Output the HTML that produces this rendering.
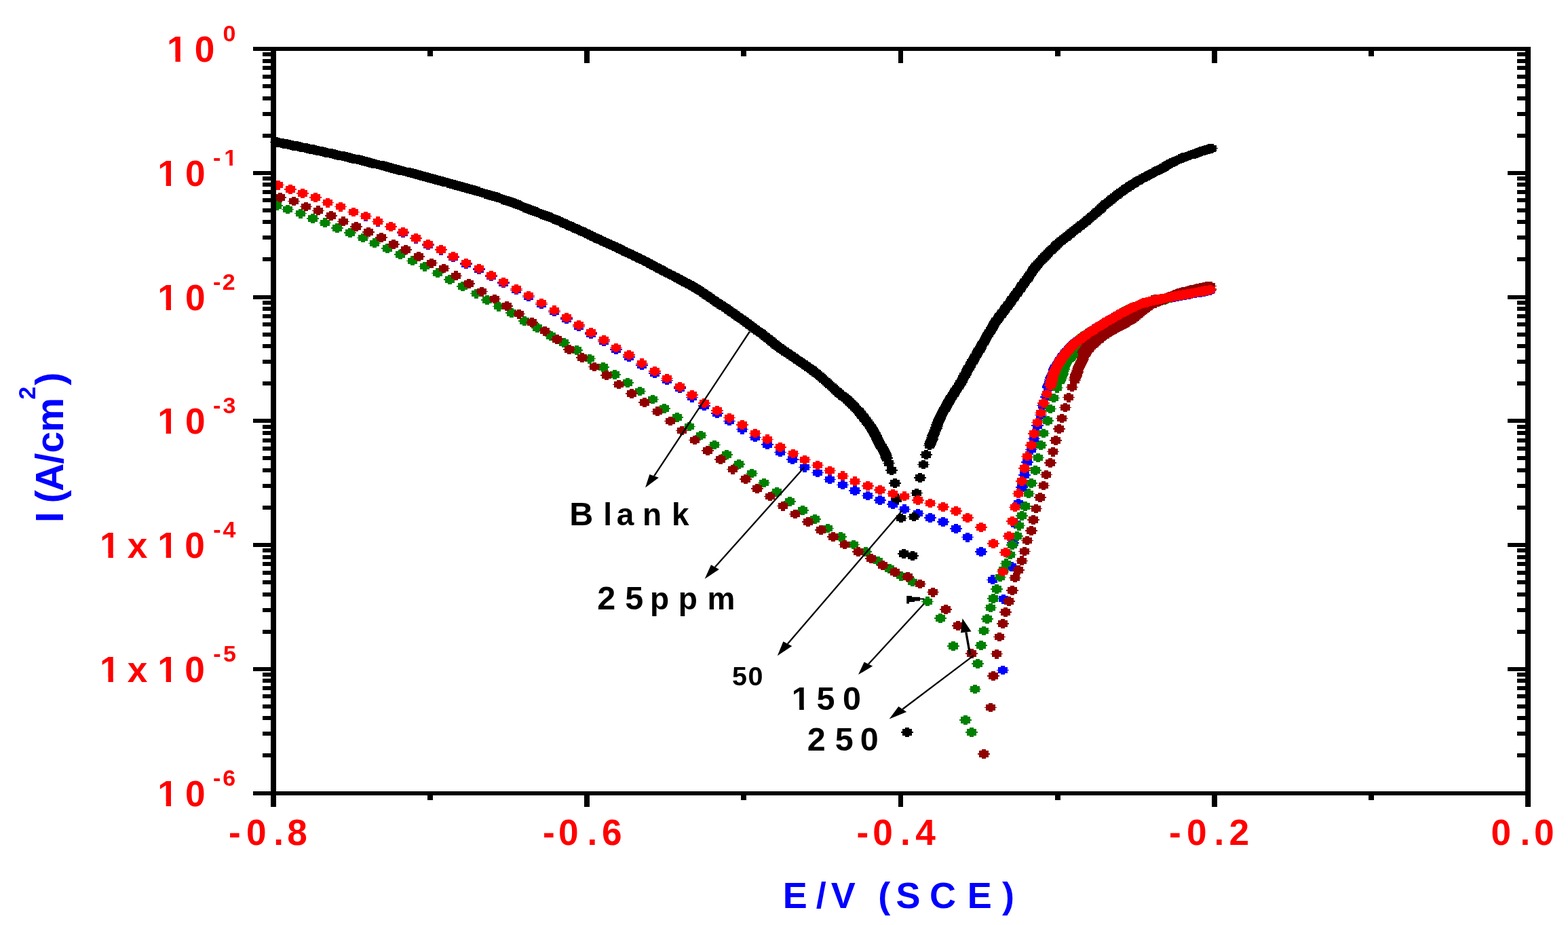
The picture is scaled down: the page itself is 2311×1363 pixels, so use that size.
<!DOCTYPE html><html><head><meta charset="utf-8"><title>Polarization curves</title><style>html,body{margin:0;padding:0;background:#fff}svg{display:block}</style></head><body><svg width="2311" height="1363" viewBox="0 0 2311 1363"><rect width="2311" height="1363" fill="#fff"/><g shape-rendering="crispEdges"><path fill="#0000ff" d="M407.0 265.8h6v2.1h4v4.05h2v1.5h-2v4.05h-4v2.1h-6v-2.1h-4v-4.05h-2v-1.5h2v-4.05h4zM424.7 272.0h6v2.1h4v4.05h2v1.5h-2v4.05h-4v2.1h-6v-2.1h-4v-4.05h-2v-1.5h2v-4.05h4zM443.4 277.9h6v2.1h4v4.05h2v1.5h-2v4.05h-4v2.1h-6v-2.1h-4v-4.05h-2v-1.5h2v-4.05h4zM462.3 283.9h6v2.1h4v4.05h2v1.5h-2v4.05h-4v2.1h-6v-2.1h-4v-4.05h-2v-1.5h2v-4.05h4zM480.0 291.8h6v2.1h4v4.05h2v1.5h-2v4.05h-4v2.1h-6v-2.1h-4v-4.05h-2v-1.5h2v-4.05h4zM499.0 297.7h6v2.1h4v4.05h2v1.5h-2v4.05h-4v2.1h-6v-2.1h-4v-4.05h-2v-1.5h2v-4.05h4zM518.2 305.6h6v2.1h4v4.05h2v1.5h-2v4.05h-4v2.1h-6v-2.1h-4v-4.05h-2v-1.5h2v-4.05h4zM536.3 311.8h6v2.1h4v4.05h2v1.5h-2v4.05h-4v2.1h-6v-2.1h-4v-4.05h-2v-1.5h2v-4.05h4zM553.6 319.8h6v2.1h4v4.05h2v1.5h-2v4.05h-4v2.1h-6v-2.1h-4v-4.05h-2v-1.5h2v-4.05h4zM572.7 327.6h6v2.1h4v4.05h2v1.5h-2v4.05h-4v2.1h-6v-2.1h-4v-4.05h-2v-1.5h2v-4.05h4zM591.2 335.9h6v2.1h4v4.05h2v1.5h-2v4.05h-4v2.1h-6v-2.1h-4v-4.05h-2v-1.5h2v-4.05h4zM609.5 344.8h6v2.1h4v4.05h2v1.5h-2v4.05h-4v2.1h-6v-2.1h-4v-4.05h-2v-1.5h2v-4.05h4zM628.1 353.9h6v2.1h4v4.05h2v1.5h-2v4.05h-4v2.1h-6v-2.1h-4v-4.05h-2v-1.5h2v-4.05h4zM647.1 361.8h6v2.1h4v4.05h2v1.5h-2v4.05h-4v2.1h-6v-2.1h-4v-4.05h-2v-1.5h2v-4.05h4zM664.9 372.1h6v2.1h4v4.05h2v1.5h-2v4.05h-4v2.1h-6v-2.1h-4v-4.05h-2v-1.5h2v-4.05h4zM684.0 382.0h6v2.1h4v4.05h2v1.5h-2v4.05h-4v2.1h-6v-2.1h-4v-4.05h-2v-1.5h2v-4.05h4zM702.7 390.1h6v2.1h4v4.05h2v1.5h-2v4.05h-4v2.1h-6v-2.1h-4v-4.05h-2v-1.5h2v-4.05h4zM720.5 400.3h6v2.1h4v4.05h2v1.5h-2v4.05h-4v2.1h-6v-2.1h-4v-4.05h-2v-1.5h2v-4.05h4zM739.2 410.3h6v2.1h4v4.05h2v1.5h-2v4.05h-4v2.1h-6v-2.1h-4v-4.05h-2v-1.5h2v-4.05h4zM757.9 420.4h6v2.1h4v4.05h2v1.5h-2v4.05h-4v2.1h-6v-2.1h-4v-4.05h-2v-1.5h2v-4.05h4zM776.2 430.4h6v2.1h4v4.05h2v1.5h-2v4.05h-4v2.1h-6v-2.1h-4v-4.05h-2v-1.5h2v-4.05h4zM795.0 441.5h6v2.1h4v4.05h2v1.5h-2v4.05h-4v2.1h-6v-2.1h-4v-4.05h-2v-1.5h2v-4.05h4zM813.6 452.4h6v2.1h4v4.05h2v1.5h-2v4.05h-4v2.1h-6v-2.1h-4v-4.05h-2v-1.5h2v-4.05h4zM832.0 463.0h6v2.1h4v4.05h2v1.5h-2v4.05h-4v2.1h-6v-2.1h-4v-4.05h-2v-1.5h2v-4.05h4zM849.6 474.4h6v2.1h4v4.05h2v1.5h-2v4.05h-4v2.1h-6v-2.1h-4v-4.05h-2v-1.5h2v-4.05h4zM868.3 485.2h6v2.1h4v4.05h2v1.5h-2v4.05h-4v2.1h-6v-2.1h-4v-4.05h-2v-1.5h2v-4.05h4zM887.0 496.4h6v2.1h4v4.05h2v1.5h-2v4.05h-4v2.1h-6v-2.1h-4v-4.05h-2v-1.5h2v-4.05h4zM905.0 508.3h6v2.1h4v4.05h2v1.5h-2v4.05h-4v2.1h-6v-2.1h-4v-4.05h-2v-1.5h2v-4.05h4zM924.1 518.9h6v2.1h4v4.05h2v1.5h-2v4.05h-4v2.1h-6v-2.1h-4v-4.05h-2v-1.5h2v-4.05h4zM942.7 531.2h6v2.1h4v4.05h2v1.5h-2v4.05h-4v2.1h-6v-2.1h-4v-4.05h-2v-1.5h2v-4.05h4zM961.5 543.0h6v2.1h4v4.05h2v1.5h-2v4.05h-4v2.1h-6v-2.1h-4v-4.05h-2v-1.5h2v-4.05h4zM979.9 553.6h6v2.1h4v4.05h2v1.5h-2v4.05h-4v2.1h-6v-2.1h-4v-4.05h-2v-1.5h2v-4.05h4zM998.7 565.3h6v2.1h4v4.05h2v1.5h-2v4.05h-4v2.1h-6v-2.1h-4v-4.05h-2v-1.5h2v-4.05h4zM1016.6 578.8h6v2.1h4v4.05h2v1.5h-2v4.05h-4v2.1h-6v-2.1h-4v-4.05h-2v-1.5h2v-4.05h4zM1035.4 591.1h6v2.1h4v4.05h2v1.5h-2v4.05h-4v2.1h-6v-2.1h-4v-4.05h-2v-1.5h2v-4.05h4zM1054.2 602.3h6v2.1h4v4.05h2v1.5h-2v4.05h-4v2.1h-6v-2.1h-4v-4.05h-2v-1.5h2v-4.05h4zM1072.0 613.5h6v2.1h4v4.05h2v1.5h-2v4.05h-4v2.1h-6v-2.1h-4v-4.05h-2v-1.5h2v-4.05h4zM1090.8 625.8h6v2.1h4v4.05h2v1.5h-2v4.05h-4v2.1h-6v-2.1h-4v-4.05h-2v-1.5h2v-4.05h4zM1109.9 637.5h6v2.1h4v4.05h2v1.5h-2v4.05h-4v2.1h-6v-2.1h-4v-4.05h-2v-1.5h2v-4.05h4zM1127.8 648.1h6v2.1h4v4.05h2v1.5h-2v4.05h-4v2.1h-6v-2.1h-4v-4.05h-2v-1.5h2v-4.05h4zM1146.6 659.6h6v2.1h4v4.05h2v1.5h-2v4.05h-4v2.1h-6v-2.1h-4v-4.05h-2v-1.5h2v-4.05h4zM1165.4 669.9h6v2.1h4v4.05h2v1.5h-2v4.05h-4v2.1h-6v-2.1h-4v-4.05h-2v-1.5h2v-4.05h4zM1183.1 681.8h6v2.1h4v4.05h2v1.5h-2v4.05h-4v2.1h-6v-2.1h-4v-4.05h-2v-1.5h2v-4.05h4zM1201.6 689.7h6v2.1h4v4.05h2v1.5h-2v4.05h-4v2.1h-6v-2.1h-4v-4.05h-2v-1.5h2v-4.05h4zM1220.1 699.4h6v2.1h4v4.05h2v1.5h-2v4.05h-4v2.1h-6v-2.1h-4v-4.05h-2v-1.5h2v-4.05h4zM1238.6 707.5h6v2.1h4v4.05h2v1.5h-2v4.05h-4v2.1h-6v-2.1h-4v-4.05h-2v-1.5h2v-4.05h4zM1257.0 716.0h6v2.1h4v4.05h2v1.5h-2v4.05h-4v2.1h-6v-2.1h-4v-4.05h-2v-1.5h2v-4.05h4zM1275.6 723.6h6v2.1h4v4.05h2v1.5h-2v4.05h-4v2.1h-6v-2.1h-4v-4.05h-2v-1.5h2v-4.05h4zM1293.7 730.2h6v2.1h4v4.05h2v1.5h-2v4.05h-4v2.1h-6v-2.1h-4v-4.05h-2v-1.5h2v-4.05h4zM1312.5 736.3h6v2.1h4v4.05h2v1.5h-2v4.05h-4v2.1h-6v-2.1h-4v-4.05h-2v-1.5h2v-4.05h4zM1330.1 743.4h6v2.1h4v4.05h2v1.5h-2v4.05h-4v2.1h-6v-2.1h-4v-4.05h-2v-1.5h2v-4.05h4zM1350.3 749.5h6v2.1h4v4.05h2v1.5h-2v4.05h-4v2.1h-6v-2.1h-4v-4.05h-2v-1.5h2v-4.05h4zM1368.3 756.1h6v2.1h4v4.05h2v1.5h-2v4.05h-4v2.1h-6v-2.1h-4v-4.05h-2v-1.5h2v-4.05h4zM1386.8 761.9h6v2.1h4v4.05h2v1.5h-2v4.05h-4v2.1h-6v-2.1h-4v-4.05h-2v-1.5h2v-4.05h4zM1405.5 771.9h6v2.1h4v4.05h2v1.5h-2v4.05h-4v2.1h-6v-2.1h-4v-4.05h-2v-1.5h2v-4.05h4zM1423.4 784.8h6v2.1h4v4.05h2v1.5h-2v4.05h-4v2.1h-6v-2.1h-4v-4.05h-2v-1.5h2v-4.05h4zM1442.5 805.9h6v2.1h4v4.05h2v1.5h-2v4.05h-4v2.1h-6v-2.1h-4v-4.05h-2v-1.5h2v-4.05h4zM1460.2 847.4h6v2.1h4v4.05h2v1.5h-2v4.05h-4v2.1h-6v-2.1h-4v-4.05h-2v-1.5h2v-4.05h4zM1475.3 980.5h6v2.1h4v4.05h2v1.5h-2v4.05h-4v2.1h-6v-2.1h-4v-4.05h-2v-1.5h2v-4.05h4zM1476.2 875.8h6v2.1h4v4.05h2v1.5h-2v4.05h-4v2.1h-6v-2.1h-4v-4.05h-2v-1.5h2v-4.05h4zM1487.5 828.3h6v2.1h4v4.05h2v1.5h-2v4.05h-4v2.1h-6v-2.1h-4v-4.05h-2v-1.5h2v-4.05h4zM1490.0 793.1h6v2.1h4v4.05h2v1.5h-2v4.05h-4v2.1h-6v-2.1h-4v-4.05h-2v-1.5h2v-4.05h4zM1494.0 765.1h6v2.1h4v4.05h2v1.5h-2v4.05h-4v2.1h-6v-2.1h-4v-4.05h-2v-1.5h2v-4.05h4zM1498.3 735.1h6v2.1h4v4.05h2v1.5h-2v4.05h-4v2.1h-6v-2.1h-4v-4.05h-2v-1.5h2v-4.05h4zM1502.7 710.9h6v2.1h4v4.05h2v1.5h-2v4.05h-4v2.1h-6v-2.1h-4v-4.05h-2v-1.5h2v-4.05h4zM1507.1 693.3h6v2.1h4v4.05h2v1.5h-2v4.05h-4v2.1h-6v-2.1h-4v-4.05h-2v-1.5h2v-4.05h4zM1510.8 674.2h6v2.1h4v4.05h2v1.5h-2v4.05h-4v2.1h-6v-2.1h-4v-4.05h-2v-1.5h2v-4.05h4zM1516.6 655.8h6v2.1h4v4.05h2v1.5h-2v4.05h-4v2.1h-6v-2.1h-4v-4.05h-2v-1.5h2v-4.05h4zM1521.0 639.7h6v2.1h4v4.05h2v1.5h-2v4.05h-4v2.1h-6v-2.1h-4v-4.05h-2v-1.5h2v-4.05h4zM1526.2 619.9h6v2.1h4v4.05h2v1.5h-2v4.05h-4v2.1h-6v-2.1h-4v-4.05h-2v-1.5h2v-4.05h4zM1530.6 604.5h6v2.1h4v4.05h2v1.5h-2v4.05h-4v2.1h-6v-2.1h-4v-4.05h-2v-1.5h2v-4.05h4zM1533.5 590.5h6v2.1h4v4.05h2v1.5h-2v4.05h-4v2.1h-6v-2.1h-4v-4.05h-2v-1.5h2v-4.05h4zM1538.6 578.1h6v2.1h4v4.05h2v1.5h-2v4.05h-4v2.1h-6v-2.1h-4v-4.05h-2v-1.5h2v-4.05h4zM1541.6 564.1h6v2.1h4v4.05h2v1.5h-2v4.05h-4v2.1h-6v-2.1h-4v-4.05h-2v-1.5h2v-4.05h4z"/><path fill="#0000ff" d="M1541.6 564.1h6v2.1h4v4.05h2v1.5h-2v4.05h-4v2.1h-6v-2.1h-4v-4.05h-2v-1.5h2v-4.05h4zM1542.3 562.1h6v2.1h4v4.05h2v1.5h-2v4.05h-4v2.1h-6v-2.1h-4v-4.05h-2v-1.5h2v-4.05h4zM1542.9 560.1h6v2.1h4v4.05h2v1.5h-2v4.05h-4v2.1h-6v-2.1h-4v-4.05h-2v-1.5h2v-4.05h4zM1543.7 557.8h6v2.1h4v4.05h2v1.5h-2v4.05h-4v2.1h-6v-2.1h-4v-4.05h-2v-1.5h2v-4.05h4zM1544.6 555.3h6v2.1h4v4.05h2v1.5h-2v4.05h-4v2.1h-6v-2.1h-4v-4.05h-2v-1.5h2v-4.05h4zM1545.4 552.7h6v2.1h4v4.05h2v1.5h-2v4.05h-4v2.1h-6v-2.1h-4v-4.05h-2v-1.5h2v-4.05h4zM1546.3 550.3h6v2.1h4v4.05h2v1.5h-2v4.05h-4v2.1h-6v-2.1h-4v-4.05h-2v-1.5h2v-4.05h4zM1547.0 548.1h6v2.1h4v4.05h2v1.5h-2v4.05h-4v2.1h-6v-2.1h-4v-4.05h-2v-1.5h2v-4.05h4zM1547.9 545.7h6v2.1h4v4.05h2v1.5h-2v4.05h-4v2.1h-6v-2.1h-4v-4.05h-2v-1.5h2v-4.05h4zM1548.7 543.6h6v2.1h4v4.05h2v1.5h-2v4.05h-4v2.1h-6v-2.1h-4v-4.05h-2v-1.5h2v-4.05h4zM1549.6 541.4h6v2.1h4v4.05h2v1.5h-2v4.05h-4v2.1h-6v-2.1h-4v-4.05h-2v-1.5h2v-4.05h4zM1550.5 539.3h6v2.1h4v4.05h2v1.5h-2v4.05h-4v2.1h-6v-2.1h-4v-4.05h-2v-1.5h2v-4.05h4zM1551.4 537.3h6v2.1h4v4.05h2v1.5h-2v4.05h-4v2.1h-6v-2.1h-4v-4.05h-2v-1.5h2v-4.05h4zM1552.4 535.3h6v2.1h4v4.05h2v1.5h-2v4.05h-4v2.1h-6v-2.1h-4v-4.05h-2v-1.5h2v-4.05h4zM1553.5 533.2h6v2.1h4v4.05h2v1.5h-2v4.05h-4v2.1h-6v-2.1h-4v-4.05h-2v-1.5h2v-4.05h4zM1554.7 531.3h6v2.1h4v4.05h2v1.5h-2v4.05h-4v2.1h-6v-2.1h-4v-4.05h-2v-1.5h2v-4.05h4zM1555.8 529.4h6v2.1h4v4.05h2v1.5h-2v4.05h-4v2.1h-6v-2.1h-4v-4.05h-2v-1.5h2v-4.05h4zM1557.0 527.5h6v2.1h4v4.05h2v1.5h-2v4.05h-4v2.1h-6v-2.1h-4v-4.05h-2v-1.5h2v-4.05h4zM1558.0 525.8h6v2.1h4v4.05h2v1.5h-2v4.05h-4v2.1h-6v-2.1h-4v-4.05h-2v-1.5h2v-4.05h4zM1559.3 523.8h6v2.1h4v4.05h2v1.5h-2v4.05h-4v2.1h-6v-2.1h-4v-4.05h-2v-1.5h2v-4.05h4zM1560.5 521.9h6v2.1h4v4.05h2v1.5h-2v4.05h-4v2.1h-6v-2.1h-4v-4.05h-2v-1.5h2v-4.05h4zM1561.8 520.0h6v2.1h4v4.05h2v1.5h-2v4.05h-4v2.1h-6v-2.1h-4v-4.05h-2v-1.5h2v-4.05h4zM1563.2 518.2h6v2.1h4v4.05h2v1.5h-2v4.05h-4v2.1h-6v-2.1h-4v-4.05h-2v-1.5h2v-4.05h4zM1564.5 516.4h6v2.1h4v4.05h2v1.5h-2v4.05h-4v2.1h-6v-2.1h-4v-4.05h-2v-1.5h2v-4.05h4zM1565.9 514.7h6v2.1h4v4.05h2v1.5h-2v4.05h-4v2.1h-6v-2.1h-4v-4.05h-2v-1.5h2v-4.05h4zM1567.3 513.1h6v2.1h4v4.05h2v1.5h-2v4.05h-4v2.1h-6v-2.1h-4v-4.05h-2v-1.5h2v-4.05h4zM1569.0 511.2h6v2.1h4v4.05h2v1.5h-2v4.05h-4v2.1h-6v-2.1h-4v-4.05h-2v-1.5h2v-4.05h4zM1570.5 509.5h6v2.1h4v4.05h2v1.5h-2v4.05h-4v2.1h-6v-2.1h-4v-4.05h-2v-1.5h2v-4.05h4zM1572.2 507.6h6v2.1h4v4.05h2v1.5h-2v4.05h-4v2.1h-6v-2.1h-4v-4.05h-2v-1.5h2v-4.05h4zM1574.0 505.7h6v2.1h4v4.05h2v1.5h-2v4.05h-4v2.1h-6v-2.1h-4v-4.05h-2v-1.5h2v-4.05h4zM1575.5 504.2h6v2.1h4v4.05h2v1.5h-2v4.05h-4v2.1h-6v-2.1h-4v-4.05h-2v-1.5h2v-4.05h4zM1577.0 502.6h6v2.1h4v4.05h2v1.5h-2v4.05h-4v2.1h-6v-2.1h-4v-4.05h-2v-1.5h2v-4.05h4zM1578.7 501.1h6v2.1h4v4.05h2v1.5h-2v4.05h-4v2.1h-6v-2.1h-4v-4.05h-2v-1.5h2v-4.05h4zM1580.4 499.6h6v2.1h4v4.05h2v1.5h-2v4.05h-4v2.1h-6v-2.1h-4v-4.05h-2v-1.5h2v-4.05h4zM1582.2 498.1h6v2.1h4v4.05h2v1.5h-2v4.05h-4v2.1h-6v-2.1h-4v-4.05h-2v-1.5h2v-4.05h4zM1584.1 496.5h6v2.1h4v4.05h2v1.5h-2v4.05h-4v2.1h-6v-2.1h-4v-4.05h-2v-1.5h2v-4.05h4zM1586.1 495.0h6v2.1h4v4.05h2v1.5h-2v4.05h-4v2.1h-6v-2.1h-4v-4.05h-2v-1.5h2v-4.05h4zM1588.2 493.4h6v2.1h4v4.05h2v1.5h-2v4.05h-4v2.1h-6v-2.1h-4v-4.05h-2v-1.5h2v-4.05h4zM1590.4 491.8h6v2.1h4v4.05h2v1.5h-2v4.05h-4v2.1h-6v-2.1h-4v-4.05h-2v-1.5h2v-4.05h4zM1592.6 490.2h6v2.1h4v4.05h2v1.5h-2v4.05h-4v2.1h-6v-2.1h-4v-4.05h-2v-1.5h2v-4.05h4zM1594.9 488.6h6v2.1h4v4.05h2v1.5h-2v4.05h-4v2.1h-6v-2.1h-4v-4.05h-2v-1.5h2v-4.05h4zM1597.3 486.9h6v2.1h4v4.05h2v1.5h-2v4.05h-4v2.1h-6v-2.1h-4v-4.05h-2v-1.5h2v-4.05h4zM1598.9 485.8h6v2.1h4v4.05h2v1.5h-2v4.05h-4v2.1h-6v-2.1h-4v-4.05h-2v-1.5h2v-4.05h4zM1600.6 484.6h6v2.1h4v4.05h2v1.5h-2v4.05h-4v2.1h-6v-2.1h-4v-4.05h-2v-1.5h2v-4.05h4zM1602.4 483.5h6v2.1h4v4.05h2v1.5h-2v4.05h-4v2.1h-6v-2.1h-4v-4.05h-2v-1.5h2v-4.05h4zM1604.2 482.3h6v2.1h4v4.05h2v1.5h-2v4.05h-4v2.1h-6v-2.1h-4v-4.05h-2v-1.5h2v-4.05h4zM1606.0 481.1h6v2.1h4v4.05h2v1.5h-2v4.05h-4v2.1h-6v-2.1h-4v-4.05h-2v-1.5h2v-4.05h4zM1607.8 479.8h6v2.1h4v4.05h2v1.5h-2v4.05h-4v2.1h-6v-2.1h-4v-4.05h-2v-1.5h2v-4.05h4zM1609.6 478.7h6v2.1h4v4.05h2v1.5h-2v4.05h-4v2.1h-6v-2.1h-4v-4.05h-2v-1.5h2v-4.05h4zM1611.5 477.5h6v2.1h4v4.05h2v1.5h-2v4.05h-4v2.1h-6v-2.1h-4v-4.05h-2v-1.5h2v-4.05h4zM1613.3 476.3h6v2.1h4v4.05h2v1.5h-2v4.05h-4v2.1h-6v-2.1h-4v-4.05h-2v-1.5h2v-4.05h4zM1615.1 475.2h6v2.1h4v4.05h2v1.5h-2v4.05h-4v2.1h-6v-2.1h-4v-4.05h-2v-1.5h2v-4.05h4zM1616.8 474.0h6v2.1h4v4.05h2v1.5h-2v4.05h-4v2.1h-6v-2.1h-4v-4.05h-2v-1.5h2v-4.05h4zM1618.6 473.0h6v2.1h4v4.05h2v1.5h-2v4.05h-4v2.1h-6v-2.1h-4v-4.05h-2v-1.5h2v-4.05h4zM1620.3 471.9h6v2.1h4v4.05h2v1.5h-2v4.05h-4v2.1h-6v-2.1h-4v-4.05h-2v-1.5h2v-4.05h4zM1622.8 470.4h6v2.1h4v4.05h2v1.5h-2v4.05h-4v2.1h-6v-2.1h-4v-4.05h-2v-1.5h2v-4.05h4zM1625.3 468.8h6v2.1h4v4.05h2v1.5h-2v4.05h-4v2.1h-6v-2.1h-4v-4.05h-2v-1.5h2v-4.05h4zM1627.8 467.3h6v2.1h4v4.05h2v1.5h-2v4.05h-4v2.1h-6v-2.1h-4v-4.05h-2v-1.5h2v-4.05h4zM1630.3 465.9h6v2.1h4v4.05h2v1.5h-2v4.05h-4v2.1h-6v-2.1h-4v-4.05h-2v-1.5h2v-4.05h4zM1632.8 464.5h6v2.1h4v4.05h2v1.5h-2v4.05h-4v2.1h-6v-2.1h-4v-4.05h-2v-1.5h2v-4.05h4zM1635.2 463.1h6v2.1h4v4.05h2v1.5h-2v4.05h-4v2.1h-6v-2.1h-4v-4.05h-2v-1.5h2v-4.05h4zM1637.6 461.7h6v2.1h4v4.05h2v1.5h-2v4.05h-4v2.1h-6v-2.1h-4v-4.05h-2v-1.5h2v-4.05h4zM1639.9 460.4h6v2.1h4v4.05h2v1.5h-2v4.05h-4v2.1h-6v-2.1h-4v-4.05h-2v-1.5h2v-4.05h4zM1642.2 459.1h6v2.1h4v4.05h2v1.5h-2v4.05h-4v2.1h-6v-2.1h-4v-4.05h-2v-1.5h2v-4.05h4zM1644.4 457.8h6v2.1h4v4.05h2v1.5h-2v4.05h-4v2.1h-6v-2.1h-4v-4.05h-2v-1.5h2v-4.05h4zM1646.7 456.6h6v2.1h4v4.05h2v1.5h-2v4.05h-4v2.1h-6v-2.1h-4v-4.05h-2v-1.5h2v-4.05h4zM1648.9 455.3h6v2.1h4v4.05h2v1.5h-2v4.05h-4v2.1h-6v-2.1h-4v-4.05h-2v-1.5h2v-4.05h4zM1651.1 454.1h6v2.1h4v4.05h2v1.5h-2v4.05h-4v2.1h-6v-2.1h-4v-4.05h-2v-1.5h2v-4.05h4zM1653.4 452.9h6v2.1h4v4.05h2v1.5h-2v4.05h-4v2.1h-6v-2.1h-4v-4.05h-2v-1.5h2v-4.05h4zM1655.8 451.7h6v2.1h4v4.05h2v1.5h-2v4.05h-4v2.1h-6v-2.1h-4v-4.05h-2v-1.5h2v-4.05h4zM1658.3 450.5h6v2.1h4v4.05h2v1.5h-2v4.05h-4v2.1h-6v-2.1h-4v-4.05h-2v-1.5h2v-4.05h4zM1661.0 449.2h6v2.1h4v4.05h2v1.5h-2v4.05h-4v2.1h-6v-2.1h-4v-4.05h-2v-1.5h2v-4.05h4zM1662.9 448.3h6v2.1h4v4.05h2v1.5h-2v4.05h-4v2.1h-6v-2.1h-4v-4.05h-2v-1.5h2v-4.05h4zM1664.8 447.4h6v2.1h4v4.05h2v1.5h-2v4.05h-4v2.1h-6v-2.1h-4v-4.05h-2v-1.5h2v-4.05h4zM1666.6 446.6h6v2.1h4v4.05h2v1.5h-2v4.05h-4v2.1h-6v-2.1h-4v-4.05h-2v-1.5h2v-4.05h4zM1668.4 445.7h6v2.1h4v4.05h2v1.5h-2v4.05h-4v2.1h-6v-2.1h-4v-4.05h-2v-1.5h2v-4.05h4zM1671.1 444.6h6v2.1h4v4.05h2v1.5h-2v4.05h-4v2.1h-6v-2.1h-4v-4.05h-2v-1.5h2v-4.05h4zM1673.5 443.5h6v2.1h4v4.05h2v1.5h-2v4.05h-4v2.1h-6v-2.1h-4v-4.05h-2v-1.5h2v-4.05h4zM1675.7 442.6h6v2.1h4v4.05h2v1.5h-2v4.05h-4v2.1h-6v-2.1h-4v-4.05h-2v-1.5h2v-4.05h4zM1677.9 441.6h6v2.1h4v4.05h2v1.5h-2v4.05h-4v2.1h-6v-2.1h-4v-4.05h-2v-1.5h2v-4.05h4zM1679.8 440.9h6v2.1h4v4.05h2v1.5h-2v4.05h-4v2.1h-6v-2.1h-4v-4.05h-2v-1.5h2v-4.05h4zM1681.8 440.2h6v2.1h4v4.05h2v1.5h-2v4.05h-4v2.1h-6v-2.1h-4v-4.05h-2v-1.5h2v-4.05h4zM1684.0 439.7h6v2.1h4v4.05h2v1.5h-2v4.05h-4v2.1h-6v-2.1h-4v-4.05h-2v-1.5h2v-4.05h4zM1686.1 439.1h6v2.1h4v4.05h2v1.5h-2v4.05h-4v2.1h-6v-2.1h-4v-4.05h-2v-1.5h2v-4.05h4zM1688.7 438.5h6v2.1h4v4.05h2v1.5h-2v4.05h-4v2.1h-6v-2.1h-4v-4.05h-2v-1.5h2v-4.05h4zM1690.8 438.0h6v2.1h4v4.05h2v1.5h-2v4.05h-4v2.1h-6v-2.1h-4v-4.05h-2v-1.5h2v-4.05h4zM1693.0 437.5h6v2.1h4v4.05h2v1.5h-2v4.05h-4v2.1h-6v-2.1h-4v-4.05h-2v-1.5h2v-4.05h4zM1695.4 436.9h6v2.1h4v4.05h2v1.5h-2v4.05h-4v2.1h-6v-2.1h-4v-4.05h-2v-1.5h2v-4.05h4zM1698.0 436.4h6v2.1h4v4.05h2v1.5h-2v4.05h-4v2.1h-6v-2.1h-4v-4.05h-2v-1.5h2v-4.05h4zM1700.7 435.8h6v2.1h4v4.05h2v1.5h-2v4.05h-4v2.1h-6v-2.1h-4v-4.05h-2v-1.5h2v-4.05h4zM1703.5 435.2h6v2.1h4v4.05h2v1.5h-2v4.05h-4v2.1h-6v-2.1h-4v-4.05h-2v-1.5h2v-4.05h4zM1705.5 434.8h6v2.1h4v4.05h2v1.5h-2v4.05h-4v2.1h-6v-2.1h-4v-4.05h-2v-1.5h2v-4.05h4zM1707.6 434.4h6v2.1h4v4.05h2v1.5h-2v4.05h-4v2.1h-6v-2.1h-4v-4.05h-2v-1.5h2v-4.05h4zM1709.7 434.0h6v2.1h4v4.05h2v1.5h-2v4.05h-4v2.1h-6v-2.1h-4v-4.05h-2v-1.5h2v-4.05h4zM1712.0 433.5h6v2.1h4v4.05h2v1.5h-2v4.05h-4v2.1h-6v-2.1h-4v-4.05h-2v-1.5h2v-4.05h4zM1714.3 433.1h6v2.1h4v4.05h2v1.5h-2v4.05h-4v2.1h-6v-2.1h-4v-4.05h-2v-1.5h2v-4.05h4zM1716.7 432.6h6v2.1h4v4.05h2v1.5h-2v4.05h-4v2.1h-6v-2.1h-4v-4.05h-2v-1.5h2v-4.05h4zM1719.1 432.2h6v2.1h4v4.05h2v1.5h-2v4.05h-4v2.1h-6v-2.1h-4v-4.05h-2v-1.5h2v-4.05h4zM1721.6 431.7h6v2.1h4v4.05h2v1.5h-2v4.05h-4v2.1h-6v-2.1h-4v-4.05h-2v-1.5h2v-4.05h4zM1724.1 431.3h6v2.1h4v4.05h2v1.5h-2v4.05h-4v2.1h-6v-2.1h-4v-4.05h-2v-1.5h2v-4.05h4zM1726.7 430.8h6v2.1h4v4.05h2v1.5h-2v4.05h-4v2.1h-6v-2.1h-4v-4.05h-2v-1.5h2v-4.05h4zM1729.2 430.3h6v2.1h4v4.05h2v1.5h-2v4.05h-4v2.1h-6v-2.1h-4v-4.05h-2v-1.5h2v-4.05h4zM1731.8 429.8h6v2.1h4v4.05h2v1.5h-2v4.05h-4v2.1h-6v-2.1h-4v-4.05h-2v-1.5h2v-4.05h4zM1734.4 429.4h6v2.1h4v4.05h2v1.5h-2v4.05h-4v2.1h-6v-2.1h-4v-4.05h-2v-1.5h2v-4.05h4zM1737.2 428.9h6v2.1h4v4.05h2v1.5h-2v4.05h-4v2.1h-6v-2.1h-4v-4.05h-2v-1.5h2v-4.05h4zM1740.1 428.3h6v2.1h4v4.05h2v1.5h-2v4.05h-4v2.1h-6v-2.1h-4v-4.05h-2v-1.5h2v-4.05h4zM1743.1 427.8h6v2.1h4v4.05h2v1.5h-2v4.05h-4v2.1h-6v-2.1h-4v-4.05h-2v-1.5h2v-4.05h4zM1746.2 427.2h6v2.1h4v4.05h2v1.5h-2v4.05h-4v2.1h-6v-2.1h-4v-4.05h-2v-1.5h2v-4.05h4zM1749.2 426.7h6v2.1h4v4.05h2v1.5h-2v4.05h-4v2.1h-6v-2.1h-4v-4.05h-2v-1.5h2v-4.05h4zM1752.3 426.1h6v2.1h4v4.05h2v1.5h-2v4.05h-4v2.1h-6v-2.1h-4v-4.05h-2v-1.5h2v-4.05h4zM1755.3 425.6h6v2.1h4v4.05h2v1.5h-2v4.05h-4v2.1h-6v-2.1h-4v-4.05h-2v-1.5h2v-4.05h4zM1758.1 425.1h6v2.1h4v4.05h2v1.5h-2v4.05h-4v2.1h-6v-2.1h-4v-4.05h-2v-1.5h2v-4.05h4zM1760.8 424.6h6v2.1h4v4.05h2v1.5h-2v4.05h-4v2.1h-6v-2.1h-4v-4.05h-2v-1.5h2v-4.05h4zM1763.3 424.2h6v2.1h4v4.05h2v1.5h-2v4.05h-4v2.1h-6v-2.1h-4v-4.05h-2v-1.5h2v-4.05h4zM1765.5 423.8h6v2.1h4v4.05h2v1.5h-2v4.05h-4v2.1h-6v-2.1h-4v-4.05h-2v-1.5h2v-4.05h4zM1768.3 423.3h6v2.1h4v4.05h2v1.5h-2v4.05h-4v2.1h-6v-2.1h-4v-4.05h-2v-1.5h2v-4.05h4zM1770.8 422.8h6v2.1h4v4.05h2v1.5h-2v4.05h-4v2.1h-6v-2.1h-4v-4.05h-2v-1.5h2v-4.05h4zM1772.8 422.4h6v2.1h4v4.05h2v1.5h-2v4.05h-4v2.1h-6v-2.1h-4v-4.05h-2v-1.5h2v-4.05h4zM1775.1 422.0h6v2.1h4v4.05h2v1.5h-2v4.05h-4v2.1h-6v-2.1h-4v-4.05h-2v-1.5h2v-4.05h4zM1777.3 421.5h6v2.1h4v4.05h2v1.5h-2v4.05h-4v2.1h-6v-2.1h-4v-4.05h-2v-1.5h2v-4.05h4zM1779.5 421.1h6v2.1h4v4.05h2v1.5h-2v4.05h-4v2.1h-6v-2.1h-4v-4.05h-2v-1.5h2v-4.05h4z"/><path fill="#008000" d="M404.5 295.9h6v2.1h4v4.05h2v1.5h-2v4.05h-4v2.1h-6v-2.1h-4v-4.05h-2v-1.5h2v-4.05h4zM420.8 301.5h6v2.1h4v4.05h2v1.5h-2v4.05h-4v2.1h-6v-2.1h-4v-4.05h-2v-1.5h2v-4.05h4zM439.5 307.8h6v2.1h4v4.05h2v1.5h-2v4.05h-4v2.1h-6v-2.1h-4v-4.05h-2v-1.5h2v-4.05h4zM458.3 315.3h6v2.1h4v4.05h2v1.5h-2v4.05h-4v2.1h-6v-2.1h-4v-4.05h-2v-1.5h2v-4.05h4zM476.3 321.4h6v2.1h4v4.05h2v1.5h-2v4.05h-4v2.1h-6v-2.1h-4v-4.05h-2v-1.5h2v-4.05h4zM493.9 328.9h6v2.1h4v4.05h2v1.5h-2v4.05h-4v2.1h-6v-2.1h-4v-4.05h-2v-1.5h2v-4.05h4zM512.6 336.1h6v2.1h4v4.05h2v1.5h-2v4.05h-4v2.1h-6v-2.1h-4v-4.05h-2v-1.5h2v-4.05h4zM532.0 343.6h6v2.1h4v4.05h2v1.5h-2v4.05h-4v2.1h-6v-2.1h-4v-4.05h-2v-1.5h2v-4.05h4zM549.3 351.4h6v2.1h4v4.05h2v1.5h-2v4.05h-4v2.1h-6v-2.1h-4v-4.05h-2v-1.5h2v-4.05h4zM567.5 359.2h6v2.1h4v4.05h2v1.5h-2v4.05h-4v2.1h-6v-2.1h-4v-4.05h-2v-1.5h2v-4.05h4zM586.5 367.9h6v2.1h4v4.05h2v1.5h-2v4.05h-4v2.1h-6v-2.1h-4v-4.05h-2v-1.5h2v-4.05h4zM604.7 377.4h6v2.1h4v4.05h2v1.5h-2v4.05h-4v2.1h-6v-2.1h-4v-4.05h-2v-1.5h2v-4.05h4zM622.9 385.7h6v2.1h4v4.05h2v1.5h-2v4.05h-4v2.1h-6v-2.1h-4v-4.05h-2v-1.5h2v-4.05h4zM641.5 395.4h6v2.1h4v4.05h2v1.5h-2v4.05h-4v2.1h-6v-2.1h-4v-4.05h-2v-1.5h2v-4.05h4zM660.0 405.3h6v2.1h4v4.05h2v1.5h-2v4.05h-4v2.1h-6v-2.1h-4v-4.05h-2v-1.5h2v-4.05h4zM678.5 415.1h6v2.1h4v4.05h2v1.5h-2v4.05h-4v2.1h-6v-2.1h-4v-4.05h-2v-1.5h2v-4.05h4zM699.2 425.7h6v2.1h4v4.05h2v1.5h-2v4.05h-4v2.1h-6v-2.1h-4v-4.05h-2v-1.5h2v-4.05h4zM714.6 435.2h6v2.1h4v4.05h2v1.5h-2v4.05h-4v2.1h-6v-2.1h-4v-4.05h-2v-1.5h2v-4.05h4zM732.2 444.8h6v2.1h4v4.05h2v1.5h-2v4.05h-4v2.1h-6v-2.1h-4v-4.05h-2v-1.5h2v-4.05h4zM751.3 454.3h6v2.1h4v4.05h2v1.5h-2v4.05h-4v2.1h-6v-2.1h-4v-4.05h-2v-1.5h2v-4.05h4zM769.6 466.1h6v2.1h4v4.05h2v1.5h-2v4.05h-4v2.1h-6v-2.1h-4v-4.05h-2v-1.5h2v-4.05h4zM789.4 476.3h6v2.1h4v4.05h2v1.5h-2v4.05h-4v2.1h-6v-2.1h-4v-4.05h-2v-1.5h2v-4.05h4zM808.5 488.1h6v2.1h4v4.05h2v1.5h-2v4.05h-4v2.1h-6v-2.1h-4v-4.05h-2v-1.5h2v-4.05h4zM828.3 498.3h6v2.1h4v4.05h2v1.5h-2v4.05h-4v2.1h-6v-2.1h-4v-4.05h-2v-1.5h2v-4.05h4zM846.6 509.3h6v2.1h4v4.05h2v1.5h-2v4.05h-4v2.1h-6v-2.1h-4v-4.05h-2v-1.5h2v-4.05h4zM866.4 521.8h6v2.1h4v4.05h2v1.5h-2v4.05h-4v2.1h-6v-2.1h-4v-4.05h-2v-1.5h2v-4.05h4zM885.5 534.3h6v2.1h4v4.05h2v1.5h-2v4.05h-4v2.1h-6v-2.1h-4v-4.05h-2v-1.5h2v-4.05h4zM903.1 545.3h6v2.1h4v4.05h2v1.5h-2v4.05h-4v2.1h-6v-2.1h-4v-4.05h-2v-1.5h2v-4.05h4zM921.5 557.3h6v2.1h4v4.05h2v1.5h-2v4.05h-4v2.1h-6v-2.1h-4v-4.05h-2v-1.5h2v-4.05h4zM940.0 569.6h6v2.1h4v4.05h2v1.5h-2v4.05h-4v2.1h-6v-2.1h-4v-4.05h-2v-1.5h2v-4.05h4zM959.3 581.6h6v2.1h4v4.05h2v1.5h-2v4.05h-4v2.1h-6v-2.1h-4v-4.05h-2v-1.5h2v-4.05h4zM975.8 595.3h6v2.1h4v4.05h2v1.5h-2v4.05h-4v2.1h-6v-2.1h-4v-4.05h-2v-1.5h2v-4.05h4zM994.6 608.2h6v2.1h4v4.05h2v1.5h-2v4.05h-4v2.1h-6v-2.1h-4v-4.05h-2v-1.5h2v-4.05h4zM1012.8 621.7h6v2.1h4v4.05h2v1.5h-2v4.05h-4v2.1h-6v-2.1h-4v-4.05h-2v-1.5h2v-4.05h4zM1030.4 634.6h6v2.1h4v4.05h2v1.5h-2v4.05h-4v2.1h-6v-2.1h-4v-4.05h-2v-1.5h2v-4.05h4zM1049.7 648.7h6v2.1h4v4.05h2v1.5h-2v4.05h-4v2.1h-6v-2.1h-4v-4.05h-2v-1.5h2v-4.05h4zM1068.1 662.9h6v2.1h4v4.05h2v1.5h-2v4.05h-4v2.1h-6v-2.1h-4v-4.05h-2v-1.5h2v-4.05h4zM1085.9 677.2h6v2.1h4v4.05h2v1.5h-2v4.05h-4v2.1h-6v-2.1h-4v-4.05h-2v-1.5h2v-4.05h4zM1105.1 690.7h6v2.1h4v4.05h2v1.5h-2v4.05h-4v2.1h-6v-2.1h-4v-4.05h-2v-1.5h2v-4.05h4zM1123.3 704.7h6v2.1h4v4.05h2v1.5h-2v4.05h-4v2.1h-6v-2.1h-4v-4.05h-2v-1.5h2v-4.05h4zM1141.5 718.2h6v2.1h4v4.05h2v1.5h-2v4.05h-4v2.1h-6v-2.1h-4v-4.05h-2v-1.5h2v-4.05h4zM1160.9 732.3h6v2.1h4v4.05h2v1.5h-2v4.05h-4v2.1h-6v-2.1h-4v-4.05h-2v-1.5h2v-4.05h4zM1179.7 745.2h6v2.1h4v4.05h2v1.5h-2v4.05h-4v2.1h-6v-2.1h-4v-4.05h-2v-1.5h2v-4.05h4zM1197.8 758.1h6v2.1h4v4.05h2v1.5h-2v4.05h-4v2.1h-6v-2.1h-4v-4.05h-2v-1.5h2v-4.05h4zM1216.6 771.6h6v2.1h4v4.05h2v1.5h-2v4.05h-4v2.1h-6v-2.1h-4v-4.05h-2v-1.5h2v-4.05h4zM1236.0 784.0h6v2.1h4v4.05h2v1.5h-2v4.05h-4v2.1h-6v-2.1h-4v-4.05h-2v-1.5h2v-4.05h4zM1254.9 795.5h6v2.1h4v4.05h2v1.5h-2v4.05h-4v2.1h-6v-2.1h-4v-4.05h-2v-1.5h2v-4.05h4zM1272.9 806.3h6v2.1h4v4.05h2v1.5h-2v4.05h-4v2.1h-6v-2.1h-4v-4.05h-2v-1.5h2v-4.05h4zM1291.0 819.5h6v2.1h4v4.05h2v1.5h-2v4.05h-4v2.1h-6v-2.1h-4v-4.05h-2v-1.5h2v-4.05h4zM1308.0 831.2h6v2.1h4v4.05h2v1.5h-2v4.05h-4v2.1h-6v-2.1h-4v-4.05h-2v-1.5h2v-4.05h4zM1324.5 841.8h6v2.1h4v4.05h2v1.5h-2v4.05h-4v2.1h-6v-2.1h-4v-4.05h-2v-1.5h2v-4.05h4zM1342.1 850.6h6v2.1h4v4.05h2v1.5h-2v4.05h-4v2.1h-6v-2.1h-4v-4.05h-2v-1.5h2v-4.05h4zM1363.7 879.4h6v2.1h4v4.05h2v1.5h-2v4.05h-4v2.1h-6v-2.1h-4v-4.05h-2v-1.5h2v-4.05h4zM1383.1 904.1h6v2.1h4v4.05h2v1.5h-2v4.05h-4v2.1h-6v-2.1h-4v-4.05h-2v-1.5h2v-4.05h4zM1401.5 944.9h6v2.1h4v4.05h2v1.5h-2v4.05h-4v2.1h-6v-2.1h-4v-4.05h-2v-1.5h2v-4.05h4zM1419.6 1054.1h6v2.1h4v4.05h2v1.5h-2v4.05h-4v2.1h-6v-2.1h-4v-4.05h-2v-1.5h2v-4.05h4zM1429.3 1071.9h6v2.1h4v4.05h2v1.5h-2v4.05h-4v2.1h-6v-2.1h-4v-4.05h-2v-1.5h2v-4.05h4zM1433.5 1008.7h6v2.1h4v4.05h2v1.5h-2v4.05h-4v2.1h-6v-2.1h-4v-4.05h-2v-1.5h2v-4.05h4zM1438.1 970.9h6v2.1h4v4.05h2v1.5h-2v4.05h-4v2.1h-6v-2.1h-4v-4.05h-2v-1.5h2v-4.05h4zM1443.2 944.3h6v2.1h4v4.05h2v1.5h-2v4.05h-4v2.1h-6v-2.1h-4v-4.05h-2v-1.5h2v-4.05h4zM1447.2 922.6h6v2.1h4v4.05h2v1.5h-2v4.05h-4v2.1h-6v-2.1h-4v-4.05h-2v-1.5h2v-4.05h4zM1452.0 904.9h6v2.1h4v4.05h2v1.5h-2v4.05h-4v2.1h-6v-2.1h-4v-4.05h-2v-1.5h2v-4.05h4zM1456.8 888.7h6v2.1h4v4.05h2v1.5h-2v4.05h-4v2.1h-6v-2.1h-4v-4.05h-2v-1.5h2v-4.05h4zM1460.9 875.0h6v2.1h4v4.05h2v1.5h-2v4.05h-4v2.1h-6v-2.1h-4v-4.05h-2v-1.5h2v-4.05h4zM1465.7 861.3h6v2.1h4v4.05h2v1.5h-2v4.05h-4v2.1h-6v-2.1h-4v-4.05h-2v-1.5h2v-4.05h4zM1470.5 843.6h6v2.1h4v4.05h2v1.5h-2v4.05h-4v2.1h-6v-2.1h-4v-4.05h-2v-1.5h2v-4.05h4zM1475.5 833.1h6v2.1h4v4.05h2v1.5h-2v4.05h-4v2.1h-6v-2.1h-4v-4.05h-2v-1.5h2v-4.05h4zM1480.2 823.4h6v2.1h4v4.05h2v1.5h-2v4.05h-4v2.1h-6v-2.1h-4v-4.05h-2v-1.5h2v-4.05h4zM1485.9 810.5h6v2.1h4v4.05h2v1.5h-2v4.05h-4v2.1h-6v-2.1h-4v-4.05h-2v-1.5h2v-4.05h4zM1489.1 796.0h6v2.1h4v4.05h2v1.5h-2v4.05h-4v2.1h-6v-2.1h-4v-4.05h-2v-1.5h2v-4.05h4zM1495.5 783.1h6v2.1h4v4.05h2v1.5h-2v4.05h-4v2.1h-6v-2.1h-4v-4.05h-2v-1.5h2v-4.05h4zM1498.8 767.8h6v2.1h4v4.05h2v1.5h-2v4.05h-4v2.1h-6v-2.1h-4v-4.05h-2v-1.5h2v-4.05h4zM1502.8 753.3h6v2.1h4v4.05h2v1.5h-2v4.05h-4v2.1h-6v-2.1h-4v-4.05h-2v-1.5h2v-4.05h4zM1507.7 739.1h6v2.1h4v4.05h2v1.5h-2v4.05h-4v2.1h-6v-2.1h-4v-4.05h-2v-1.5h2v-4.05h4zM1513.0 720.4h6v2.1h4v4.05h2v1.5h-2v4.05h-4v2.1h-6v-2.1h-4v-4.05h-2v-1.5h2v-4.05h4zM1517.4 705.0h6v2.1h4v4.05h2v1.5h-2v4.05h-4v2.1h-6v-2.1h-4v-4.05h-2v-1.5h2v-4.05h4zM1522.5 685.9h6v2.1h4v4.05h2v1.5h-2v4.05h-4v2.1h-6v-2.1h-4v-4.05h-2v-1.5h2v-4.05h4zM1526.9 667.6h6v2.1h4v4.05h2v1.5h-2v4.05h-4v2.1h-6v-2.1h-4v-4.05h-2v-1.5h2v-4.05h4zM1531.3 649.2h6v2.1h4v4.05h2v1.5h-2v4.05h-4v2.1h-6v-2.1h-4v-4.05h-2v-1.5h2v-4.05h4zM1535.0 631.6h6v2.1h4v4.05h2v1.5h-2v4.05h-4v2.1h-6v-2.1h-4v-4.05h-2v-1.5h2v-4.05h4zM1540.8 613.3h6v2.1h4v4.05h2v1.5h-2v4.05h-4v2.1h-6v-2.1h-4v-4.05h-2v-1.5h2v-4.05h4zM1544.5 595.7h6v2.1h4v4.05h2v1.5h-2v4.05h-4v2.1h-6v-2.1h-4v-4.05h-2v-1.5h2v-4.05h4zM1550.4 579.5h6v2.1h4v4.05h2v1.5h-2v4.05h-4v2.1h-6v-2.1h-4v-4.05h-2v-1.5h2v-4.05h4zM1554.8 564.8h6v2.1h4v4.05h2v1.5h-2v4.05h-4v2.1h-6v-2.1h-4v-4.05h-2v-1.5h2v-4.05h4zM1559.2 554.6h6v2.1h4v4.05h2v1.5h-2v4.05h-4v2.1h-6v-2.1h-4v-4.05h-2v-1.5h2v-4.05h4z"/><path fill="#008000" d="M1559.2 554.6h6v2.1h4v4.05h2v1.5h-2v4.05h-4v2.1h-6v-2.1h-4v-4.05h-2v-1.5h2v-4.05h4zM1560.0 552.5h6v2.1h4v4.05h2v1.5h-2v4.05h-4v2.1h-6v-2.1h-4v-4.05h-2v-1.5h2v-4.05h4zM1560.7 550.6h6v2.1h4v4.05h2v1.5h-2v4.05h-4v2.1h-6v-2.1h-4v-4.05h-2v-1.5h2v-4.05h4zM1561.4 548.3h6v2.1h4v4.05h2v1.5h-2v4.05h-4v2.1h-6v-2.1h-4v-4.05h-2v-1.5h2v-4.05h4zM1562.1 546.2h6v2.1h4v4.05h2v1.5h-2v4.05h-4v2.1h-6v-2.1h-4v-4.05h-2v-1.5h2v-4.05h4zM1562.9 543.9h6v2.1h4v4.05h2v1.5h-2v4.05h-4v2.1h-6v-2.1h-4v-4.05h-2v-1.5h2v-4.05h4zM1563.4 541.8h6v2.1h4v4.05h2v1.5h-2v4.05h-4v2.1h-6v-2.1h-4v-4.05h-2v-1.5h2v-4.05h4zM1564.0 539.5h6v2.1h4v4.05h2v1.5h-2v4.05h-4v2.1h-6v-2.1h-4v-4.05h-2v-1.5h2v-4.05h4zM1564.6 537.1h6v2.1h4v4.05h2v1.5h-2v4.05h-4v2.1h-6v-2.1h-4v-4.05h-2v-1.5h2v-4.05h4zM1565.2 534.6h6v2.1h4v4.05h2v1.5h-2v4.05h-4v2.1h-6v-2.1h-4v-4.05h-2v-1.5h2v-4.05h4zM1565.9 532.2h6v2.1h4v4.05h2v1.5h-2v4.05h-4v2.1h-6v-2.1h-4v-4.05h-2v-1.5h2v-4.05h4zM1566.7 529.8h6v2.1h4v4.05h2v1.5h-2v4.05h-4v2.1h-6v-2.1h-4v-4.05h-2v-1.5h2v-4.05h4zM1567.7 527.7h6v2.1h4v4.05h2v1.5h-2v4.05h-4v2.1h-6v-2.1h-4v-4.05h-2v-1.5h2v-4.05h4zM1568.7 525.9h6v2.1h4v4.05h2v1.5h-2v4.05h-4v2.1h-6v-2.1h-4v-4.05h-2v-1.5h2v-4.05h4zM1570.0 524.2h6v2.1h4v4.05h2v1.5h-2v4.05h-4v2.1h-6v-2.1h-4v-4.05h-2v-1.5h2v-4.05h4zM1571.5 522.7h6v2.1h4v4.05h2v1.5h-2v4.05h-4v2.1h-6v-2.1h-4v-4.05h-2v-1.5h2v-4.05h4zM1573.0 521.3h6v2.1h4v4.05h2v1.5h-2v4.05h-4v2.1h-6v-2.1h-4v-4.05h-2v-1.5h2v-4.05h4zM1574.6 519.9h6v2.1h4v4.05h2v1.5h-2v4.05h-4v2.1h-6v-2.1h-4v-4.05h-2v-1.5h2v-4.05h4zM1576.1 518.6h6v2.1h4v4.05h2v1.5h-2v4.05h-4v2.1h-6v-2.1h-4v-4.05h-2v-1.5h2v-4.05h4zM1577.9 516.7h6v2.1h4v4.05h2v1.5h-2v4.05h-4v2.1h-6v-2.1h-4v-4.05h-2v-1.5h2v-4.05h4zM1579.3 514.8h6v2.1h4v4.05h2v1.5h-2v4.05h-4v2.1h-6v-2.1h-4v-4.05h-2v-1.5h2v-4.05h4zM1580.4 512.8h6v2.1h4v4.05h2v1.5h-2v4.05h-4v2.1h-6v-2.1h-4v-4.05h-2v-1.5h2v-4.05h4zM1581.3 510.9h6v2.1h4v4.05h2v1.5h-2v4.05h-4v2.1h-6v-2.1h-4v-4.05h-2v-1.5h2v-4.05h4zM1582.0 508.9h6v2.1h4v4.05h2v1.5h-2v4.05h-4v2.1h-6v-2.1h-4v-4.05h-2v-1.5h2v-4.05h4zM1582.6 506.9h6v2.1h4v4.05h2v1.5h-2v4.05h-4v2.1h-6v-2.1h-4v-4.05h-2v-1.5h2v-4.05h4zM1583.4 505.0h6v2.1h4v4.05h2v1.5h-2v4.05h-4v2.1h-6v-2.1h-4v-4.05h-2v-1.5h2v-4.05h4zM1584.2 503.0h6v2.1h4v4.05h2v1.5h-2v4.05h-4v2.1h-6v-2.1h-4v-4.05h-2v-1.5h2v-4.05h4zM1585.0 501.1h6v2.1h4v4.05h2v1.5h-2v4.05h-4v2.1h-6v-2.1h-4v-4.05h-2v-1.5h2v-4.05h4zM1585.8 499.1h6v2.1h4v4.05h2v1.5h-2v4.05h-4v2.1h-6v-2.1h-4v-4.05h-2v-1.5h2v-4.05h4zM1586.7 497.2h6v2.1h4v4.05h2v1.5h-2v4.05h-4v2.1h-6v-2.1h-4v-4.05h-2v-1.5h2v-4.05h4zM1587.6 495.3h6v2.1h4v4.05h2v1.5h-2v4.05h-4v2.1h-6v-2.1h-4v-4.05h-2v-1.5h2v-4.05h4zM1588.9 493.5h6v2.1h4v4.05h2v1.5h-2v4.05h-4v2.1h-6v-2.1h-4v-4.05h-2v-1.5h2v-4.05h4zM1590.4 491.7h6v2.1h4v4.05h2v1.5h-2v4.05h-4v2.1h-6v-2.1h-4v-4.05h-2v-1.5h2v-4.05h4zM1592.4 489.9h6v2.1h4v4.05h2v1.5h-2v4.05h-4v2.1h-6v-2.1h-4v-4.05h-2v-1.5h2v-4.05h4zM1594.1 488.6h6v2.1h4v4.05h2v1.5h-2v4.05h-4v2.1h-6v-2.1h-4v-4.05h-2v-1.5h2v-4.05h4zM1595.9 487.3h6v2.1h4v4.05h2v1.5h-2v4.05h-4v2.1h-6v-2.1h-4v-4.05h-2v-1.5h2v-4.05h4zM1597.8 486.1h6v2.1h4v4.05h2v1.5h-2v4.05h-4v2.1h-6v-2.1h-4v-4.05h-2v-1.5h2v-4.05h4zM1599.7 484.8h6v2.1h4v4.05h2v1.5h-2v4.05h-4v2.1h-6v-2.1h-4v-4.05h-2v-1.5h2v-4.05h4zM1601.6 483.6h6v2.1h4v4.05h2v1.5h-2v4.05h-4v2.1h-6v-2.1h-4v-4.05h-2v-1.5h2v-4.05h4zM1603.4 482.5h6v2.1h4v4.05h2v1.5h-2v4.05h-4v2.1h-6v-2.1h-4v-4.05h-2v-1.5h2v-4.05h4zM1605.2 481.4h6v2.1h4v4.05h2v1.5h-2v4.05h-4v2.1h-6v-2.1h-4v-4.05h-2v-1.5h2v-4.05h4zM1606.9 480.3h6v2.1h4v4.05h2v1.5h-2v4.05h-4v2.1h-6v-2.1h-4v-4.05h-2v-1.5h2v-4.05h4zM1609.2 479.0h6v2.1h4v4.05h2v1.5h-2v4.05h-4v2.1h-6v-2.1h-4v-4.05h-2v-1.5h2v-4.05h4zM1611.5 477.8h6v2.1h4v4.05h2v1.5h-2v4.05h-4v2.1h-6v-2.1h-4v-4.05h-2v-1.5h2v-4.05h4zM1613.8 476.5h6v2.1h4v4.05h2v1.5h-2v4.05h-4v2.1h-6v-2.1h-4v-4.05h-2v-1.5h2v-4.05h4zM1615.6 475.5h6v2.1h4v4.05h2v1.5h-2v4.05h-4v2.1h-6v-2.1h-4v-4.05h-2v-1.5h2v-4.05h4zM1617.4 474.5h6v2.1h4v4.05h2v1.5h-2v4.05h-4v2.1h-6v-2.1h-4v-4.05h-2v-1.5h2v-4.05h4zM1619.2 473.4h6v2.1h4v4.05h2v1.5h-2v4.05h-4v2.1h-6v-2.1h-4v-4.05h-2v-1.5h2v-4.05h4zM1621.0 472.2h6v2.1h4v4.05h2v1.5h-2v4.05h-4v2.1h-6v-2.1h-4v-4.05h-2v-1.5h2v-4.05h4zM1622.8 471.1h6v2.1h4v4.05h2v1.5h-2v4.05h-4v2.1h-6v-2.1h-4v-4.05h-2v-1.5h2v-4.05h4zM1624.6 469.9h6v2.1h4v4.05h2v1.5h-2v4.05h-4v2.1h-6v-2.1h-4v-4.05h-2v-1.5h2v-4.05h4zM1626.5 468.7h6v2.1h4v4.05h2v1.5h-2v4.05h-4v2.1h-6v-2.1h-4v-4.05h-2v-1.5h2v-4.05h4zM1628.4 467.5h6v2.1h4v4.05h2v1.5h-2v4.05h-4v2.1h-6v-2.1h-4v-4.05h-2v-1.5h2v-4.05h4zM1630.3 466.3h6v2.1h4v4.05h2v1.5h-2v4.05h-4v2.1h-6v-2.1h-4v-4.05h-2v-1.5h2v-4.05h4zM1632.3 465.0h6v2.1h4v4.05h2v1.5h-2v4.05h-4v2.1h-6v-2.1h-4v-4.05h-2v-1.5h2v-4.05h4zM1634.4 463.7h6v2.1h4v4.05h2v1.5h-2v4.05h-4v2.1h-6v-2.1h-4v-4.05h-2v-1.5h2v-4.05h4zM1636.7 462.4h6v2.1h4v4.05h2v1.5h-2v4.05h-4v2.1h-6v-2.1h-4v-4.05h-2v-1.5h2v-4.05h4zM1639.0 461.0h6v2.1h4v4.05h2v1.5h-2v4.05h-4v2.1h-6v-2.1h-4v-4.05h-2v-1.5h2v-4.05h4zM1641.4 459.6h6v2.1h4v4.05h2v1.5h-2v4.05h-4v2.1h-6v-2.1h-4v-4.05h-2v-1.5h2v-4.05h4zM1643.8 458.2h6v2.1h4v4.05h2v1.5h-2v4.05h-4v2.1h-6v-2.1h-4v-4.05h-2v-1.5h2v-4.05h4zM1646.1 456.9h6v2.1h4v4.05h2v1.5h-2v4.05h-4v2.1h-6v-2.1h-4v-4.05h-2v-1.5h2v-4.05h4zM1648.3 455.6h6v2.1h4v4.05h2v1.5h-2v4.05h-4v2.1h-6v-2.1h-4v-4.05h-2v-1.5h2v-4.05h4zM1650.4 454.5h6v2.1h4v4.05h2v1.5h-2v4.05h-4v2.1h-6v-2.1h-4v-4.05h-2v-1.5h2v-4.05h4zM1652.2 453.4h6v2.1h4v4.05h2v1.5h-2v4.05h-4v2.1h-6v-2.1h-4v-4.05h-2v-1.5h2v-4.05h4zM1654.1 452.2h6v2.1h4v4.05h2v1.5h-2v4.05h-4v2.1h-6v-2.1h-4v-4.05h-2v-1.5h2v-4.05h4zM1656.2 450.9h6v2.1h4v4.05h2v1.5h-2v4.05h-4v2.1h-6v-2.1h-4v-4.05h-2v-1.5h2v-4.05h4zM1658.3 449.7h6v2.1h4v4.05h2v1.5h-2v4.05h-4v2.1h-6v-2.1h-4v-4.05h-2v-1.5h2v-4.05h4zM1660.4 448.7h6v2.1h4v4.05h2v1.5h-2v4.05h-4v2.1h-6v-2.1h-4v-4.05h-2v-1.5h2v-4.05h4zM1662.3 447.9h6v2.1h4v4.05h2v1.5h-2v4.05h-4v2.1h-6v-2.1h-4v-4.05h-2v-1.5h2v-4.05h4zM1664.6 447.0h6v2.1h4v4.05h2v1.5h-2v4.05h-4v2.1h-6v-2.1h-4v-4.05h-2v-1.5h2v-4.05h4zM1667.2 446.1h6v2.1h4v4.05h2v1.5h-2v4.05h-4v2.1h-6v-2.1h-4v-4.05h-2v-1.5h2v-4.05h4zM1669.2 445.4h6v2.1h4v4.05h2v1.5h-2v4.05h-4v2.1h-6v-2.1h-4v-4.05h-2v-1.5h2v-4.05h4zM1671.2 444.7h6v2.1h4v4.05h2v1.5h-2v4.05h-4v2.1h-6v-2.1h-4v-4.05h-2v-1.5h2v-4.05h4zM1673.3 444.1h6v2.1h4v4.05h2v1.5h-2v4.05h-4v2.1h-6v-2.1h-4v-4.05h-2v-1.5h2v-4.05h4zM1675.4 443.4h6v2.1h4v4.05h2v1.5h-2v4.05h-4v2.1h-6v-2.1h-4v-4.05h-2v-1.5h2v-4.05h4zM1677.6 442.7h6v2.1h4v4.05h2v1.5h-2v4.05h-4v2.1h-6v-2.1h-4v-4.05h-2v-1.5h2v-4.05h4zM1679.7 442.1h6v2.1h4v4.05h2v1.5h-2v4.05h-4v2.1h-6v-2.1h-4v-4.05h-2v-1.5h2v-4.05h4zM1681.9 441.5h6v2.1h4v4.05h2v1.5h-2v4.05h-4v2.1h-6v-2.1h-4v-4.05h-2v-1.5h2v-4.05h4zM1684.0 440.9h6v2.1h4v4.05h2v1.5h-2v4.05h-4v2.1h-6v-2.1h-4v-4.05h-2v-1.5h2v-4.05h4zM1686.0 440.4h6v2.1h4v4.05h2v1.5h-2v4.05h-4v2.1h-6v-2.1h-4v-4.05h-2v-1.5h2v-4.05h4zM1688.0 439.9h6v2.1h4v4.05h2v1.5h-2v4.05h-4v2.1h-6v-2.1h-4v-4.05h-2v-1.5h2v-4.05h4zM1690.0 439.4h6v2.1h4v4.05h2v1.5h-2v4.05h-4v2.1h-6v-2.1h-4v-4.05h-2v-1.5h2v-4.05h4zM1692.0 439.0h6v2.1h4v4.05h2v1.5h-2v4.05h-4v2.1h-6v-2.1h-4v-4.05h-2v-1.5h2v-4.05h4zM1694.1 438.5h6v2.1h4v4.05h2v1.5h-2v4.05h-4v2.1h-6v-2.1h-4v-4.05h-2v-1.5h2v-4.05h4zM1696.1 438.2h6v2.1h4v4.05h2v1.5h-2v4.05h-4v2.1h-6v-2.1h-4v-4.05h-2v-1.5h2v-4.05h4zM1698.2 437.8h6v2.1h4v4.05h2v1.5h-2v4.05h-4v2.1h-6v-2.1h-4v-4.05h-2v-1.5h2v-4.05h4zM1700.2 437.4h6v2.1h4v4.05h2v1.5h-2v4.05h-4v2.1h-6v-2.1h-4v-4.05h-2v-1.5h2v-4.05h4zM1703.1 436.9h6v2.1h4v4.05h2v1.5h-2v4.05h-4v2.1h-6v-2.1h-4v-4.05h-2v-1.5h2v-4.05h4zM1705.8 436.4h6v2.1h4v4.05h2v1.5h-2v4.05h-4v2.1h-6v-2.1h-4v-4.05h-2v-1.5h2v-4.05h4zM1708.3 435.9h6v2.1h4v4.05h2v1.5h-2v4.05h-4v2.1h-6v-2.1h-4v-4.05h-2v-1.5h2v-4.05h4zM1710.5 435.4h6v2.1h4v4.05h2v1.5h-2v4.05h-4v2.1h-6v-2.1h-4v-4.05h-2v-1.5h2v-4.05h4zM1712.9 434.8h6v2.1h4v4.05h2v1.5h-2v4.05h-4v2.1h-6v-2.1h-4v-4.05h-2v-1.5h2v-4.05h4zM1714.9 434.1h6v2.1h4v4.05h2v1.5h-2v4.05h-4v2.1h-6v-2.1h-4v-4.05h-2v-1.5h2v-4.05h4zM1717.0 433.4h6v2.1h4v4.05h2v1.5h-2v4.05h-4v2.1h-6v-2.1h-4v-4.05h-2v-1.5h2v-4.05h4zM1719.2 432.6h6v2.1h4v4.05h2v1.5h-2v4.05h-4v2.1h-6v-2.1h-4v-4.05h-2v-1.5h2v-4.05h4zM1721.1 432.0h6v2.1h4v4.05h2v1.5h-2v4.05h-4v2.1h-6v-2.1h-4v-4.05h-2v-1.5h2v-4.05h4zM1723.4 431.3h6v2.1h4v4.05h2v1.5h-2v4.05h-4v2.1h-6v-2.1h-4v-4.05h-2v-1.5h2v-4.05h4zM1725.8 430.6h6v2.1h4v4.05h2v1.5h-2v4.05h-4v2.1h-6v-2.1h-4v-4.05h-2v-1.5h2v-4.05h4zM1728.2 430.0h6v2.1h4v4.05h2v1.5h-2v4.05h-4v2.1h-6v-2.1h-4v-4.05h-2v-1.5h2v-4.05h4zM1730.8 429.3h6v2.1h4v4.05h2v1.5h-2v4.05h-4v2.1h-6v-2.1h-4v-4.05h-2v-1.5h2v-4.05h4zM1732.8 428.8h6v2.1h4v4.05h2v1.5h-2v4.05h-4v2.1h-6v-2.1h-4v-4.05h-2v-1.5h2v-4.05h4zM1735.1 428.2h6v2.1h4v4.05h2v1.5h-2v4.05h-4v2.1h-6v-2.1h-4v-4.05h-2v-1.5h2v-4.05h4zM1737.5 427.7h6v2.1h4v4.05h2v1.5h-2v4.05h-4v2.1h-6v-2.1h-4v-4.05h-2v-1.5h2v-4.05h4zM1740.2 427.1h6v2.1h4v4.05h2v1.5h-2v4.05h-4v2.1h-6v-2.1h-4v-4.05h-2v-1.5h2v-4.05h4zM1743.1 426.6h6v2.1h4v4.05h2v1.5h-2v4.05h-4v2.1h-6v-2.1h-4v-4.05h-2v-1.5h2v-4.05h4zM1745.2 426.2h6v2.1h4v4.05h2v1.5h-2v4.05h-4v2.1h-6v-2.1h-4v-4.05h-2v-1.5h2v-4.05h4zM1747.4 425.8h6v2.1h4v4.05h2v1.5h-2v4.05h-4v2.1h-6v-2.1h-4v-4.05h-2v-1.5h2v-4.05h4zM1749.5 425.4h6v2.1h4v4.05h2v1.5h-2v4.05h-4v2.1h-6v-2.1h-4v-4.05h-2v-1.5h2v-4.05h4zM1751.7 425.0h6v2.1h4v4.05h2v1.5h-2v4.05h-4v2.1h-6v-2.1h-4v-4.05h-2v-1.5h2v-4.05h4zM1753.9 424.6h6v2.1h4v4.05h2v1.5h-2v4.05h-4v2.1h-6v-2.1h-4v-4.05h-2v-1.5h2v-4.05h4zM1756.1 424.2h6v2.1h4v4.05h2v1.5h-2v4.05h-4v2.1h-6v-2.1h-4v-4.05h-2v-1.5h2v-4.05h4zM1758.1 423.9h6v2.1h4v4.05h2v1.5h-2v4.05h-4v2.1h-6v-2.1h-4v-4.05h-2v-1.5h2v-4.05h4zM1760.1 423.5h6v2.1h4v4.05h2v1.5h-2v4.05h-4v2.1h-6v-2.1h-4v-4.05h-2v-1.5h2v-4.05h4zM1762.9 422.9h6v2.1h4v4.05h2v1.5h-2v4.05h-4v2.1h-6v-2.1h-4v-4.05h-2v-1.5h2v-4.05h4zM1765.7 422.3h6v2.1h4v4.05h2v1.5h-2v4.05h-4v2.1h-6v-2.1h-4v-4.05h-2v-1.5h2v-4.05h4zM1768.5 421.7h6v2.1h4v4.05h2v1.5h-2v4.05h-4v2.1h-6v-2.1h-4v-4.05h-2v-1.5h2v-4.05h4zM1771.3 421.1h6v2.1h4v4.05h2v1.5h-2v4.05h-4v2.1h-6v-2.1h-4v-4.05h-2v-1.5h2v-4.05h4zM1773.9 420.5h6v2.1h4v4.05h2v1.5h-2v4.05h-4v2.1h-6v-2.1h-4v-4.05h-2v-1.5h2v-4.05h4zM1776.3 419.9h6v2.1h4v4.05h2v1.5h-2v4.05h-4v2.1h-6v-2.1h-4v-4.05h-2v-1.5h2v-4.05h4zM1778.4 419.4h6v2.1h4v4.05h2v1.5h-2v4.05h-4v2.1h-6v-2.1h-4v-4.05h-2v-1.5h2v-4.05h4zM1780.6 418.9h6v2.1h4v4.05h2v1.5h-2v4.05h-4v2.1h-6v-2.1h-4v-4.05h-2v-1.5h2v-4.05h4zM1781.0 418.8h6v2.1h4v4.05h2v1.5h-2v4.05h-4v2.1h-6v-2.1h-4v-4.05h-2v-1.5h2v-4.05h4z"/><path fill="#900000" d="M410.0 283.9h6v2.1h4v4.05h2v1.5h-2v4.05h-4v2.1h-6v-2.1h-4v-4.05h-2v-1.5h2v-4.05h4zM429.8 289.6h6v2.1h4v4.05h2v1.5h-2v4.05h-4v2.1h-6v-2.1h-4v-4.05h-2v-1.5h2v-4.05h4zM448.2 297.5h6v2.1h4v4.05h2v1.5h-2v4.05h-4v2.1h-6v-2.1h-4v-4.05h-2v-1.5h2v-4.05h4zM466.2 303.4h6v2.1h4v4.05h2v1.5h-2v4.05h-4v2.1h-6v-2.1h-4v-4.05h-2v-1.5h2v-4.05h4zM485.0 311.2h6v2.1h4v4.05h2v1.5h-2v4.05h-4v2.1h-6v-2.1h-4v-4.05h-2v-1.5h2v-4.05h4zM502.9 319.4h6v2.1h4v4.05h2v1.5h-2v4.05h-4v2.1h-6v-2.1h-4v-4.05h-2v-1.5h2v-4.05h4zM521.6 327.1h6v2.1h4v4.05h2v1.5h-2v4.05h-4v2.1h-6v-2.1h-4v-4.05h-2v-1.5h2v-4.05h4zM539.8 334.9h6v2.1h4v4.05h2v1.5h-2v4.05h-4v2.1h-6v-2.1h-4v-4.05h-2v-1.5h2v-4.05h4zM558.8 343.2h6v2.1h4v4.05h2v1.5h-2v4.05h-4v2.1h-6v-2.1h-4v-4.05h-2v-1.5h2v-4.05h4zM577.0 353.1h6v2.1h4v4.05h2v1.5h-2v4.05h-4v2.1h-6v-2.1h-4v-4.05h-2v-1.5h2v-4.05h4zM595.2 360.9h6v2.1h4v4.05h2v1.5h-2v4.05h-4v2.1h-6v-2.1h-4v-4.05h-2v-1.5h2v-4.05h4zM614.2 371.0h6v2.1h4v4.05h2v1.5h-2v4.05h-4v2.1h-6v-2.1h-4v-4.05h-2v-1.5h2v-4.05h4zM633.3 380.8h6v2.1h4v4.05h2v1.5h-2v4.05h-4v2.1h-6v-2.1h-4v-4.05h-2v-1.5h2v-4.05h4zM650.6 388.6h6v2.1h4v4.05h2v1.5h-2v4.05h-4v2.1h-6v-2.1h-4v-4.05h-2v-1.5h2v-4.05h4zM669.0 399.4h6v2.1h4v4.05h2v1.5h-2v4.05h-4v2.1h-6v-2.1h-4v-4.05h-2v-1.5h2v-4.05h4zM687.7 411.1h6v2.1h4v4.05h2v1.5h-2v4.05h-4v2.1h-6v-2.1h-4v-4.05h-2v-1.5h2v-4.05h4zM706.5 422.8h6v2.1h4v4.05h2v1.5h-2v4.05h-4v2.1h-6v-2.1h-4v-4.05h-2v-1.5h2v-4.05h4zM725.6 433.5h6v2.1h4v4.05h2v1.5h-2v4.05h-4v2.1h-6v-2.1h-4v-4.05h-2v-1.5h2v-4.05h4zM743.9 444.3h6v2.1h4v4.05h2v1.5h-2v4.05h-4v2.1h-6v-2.1h-4v-4.05h-2v-1.5h2v-4.05h4zM762.3 455.8h6v2.1h4v4.05h2v1.5h-2v4.05h-4v2.1h-6v-2.1h-4v-4.05h-2v-1.5h2v-4.05h4zM780.6 468.3h6v2.1h4v4.05h2v1.5h-2v4.05h-4v2.1h-6v-2.1h-4v-4.05h-2v-1.5h2v-4.05h4zM799.7 480.7h6v2.1h4v4.05h2v1.5h-2v4.05h-4v2.1h-6v-2.1h-4v-4.05h-2v-1.5h2v-4.05h4zM818.0 493.2h6v2.1h4v4.05h2v1.5h-2v4.05h-4v2.1h-6v-2.1h-4v-4.05h-2v-1.5h2v-4.05h4zM835.6 507.9h6v2.1h4v4.05h2v1.5h-2v4.05h-4v2.1h-6v-2.1h-4v-4.05h-2v-1.5h2v-4.05h4zM854.7 520.0h6v2.1h4v4.05h2v1.5h-2v4.05h-4v2.1h-6v-2.1h-4v-4.05h-2v-1.5h2v-4.05h4zM873.0 533.5h6v2.1h4v4.05h2v1.5h-2v4.05h-4v2.1h-6v-2.1h-4v-4.05h-2v-1.5h2v-4.05h4zM890.6 546.0h6v2.1h4v4.05h2v1.5h-2v4.05h-4v2.1h-6v-2.1h-4v-4.05h-2v-1.5h2v-4.05h4zM909.2 559.6h6v2.1h4v4.05h2v1.5h-2v4.05h-4v2.1h-6v-2.1h-4v-4.05h-2v-1.5h2v-4.05h4zM928.0 572.9h6v2.1h4v4.05h2v1.5h-2v4.05h-4v2.1h-6v-2.1h-4v-4.05h-2v-1.5h2v-4.05h4zM947.0 586.1h6v2.1h4v4.05h2v1.5h-2v4.05h-4v2.1h-6v-2.1h-4v-4.05h-2v-1.5h2v-4.05h4zM965.8 599.4h6v2.1h4v4.05h2v1.5h-2v4.05h-4v2.1h-6v-2.1h-4v-4.05h-2v-1.5h2v-4.05h4zM984.6 613.5h6v2.1h4v4.05h2v1.5h-2v4.05h-4v2.1h-6v-2.1h-4v-4.05h-2v-1.5h2v-4.05h4zM1002.2 627.5h6v2.1h4v4.05h2v1.5h-2v4.05h-4v2.1h-6v-2.1h-4v-4.05h-2v-1.5h2v-4.05h4zM1021.0 641.6h6v2.1h4v4.05h2v1.5h-2v4.05h-4v2.1h-6v-2.1h-4v-4.05h-2v-1.5h2v-4.05h4zM1040.3 656.9h6v2.1h4v4.05h2v1.5h-2v4.05h-4v2.1h-6v-2.1h-4v-4.05h-2v-1.5h2v-4.05h4zM1058.6 670.3h6v2.1h4v4.05h2v1.5h-2v4.05h-4v2.1h-6v-2.1h-4v-4.05h-2v-1.5h2v-4.05h4zM1077.0 684.8h6v2.1h4v4.05h2v1.5h-2v4.05h-4v2.1h-6v-2.1h-4v-4.05h-2v-1.5h2v-4.05h4zM1096.3 698.9h6v2.1h4v4.05h2v1.5h-2v4.05h-4v2.1h-6v-2.1h-4v-4.05h-2v-1.5h2v-4.05h4zM1113.3 713.0h6v2.1h4v4.05h2v1.5h-2v4.05h-4v2.1h-6v-2.1h-4v-4.05h-2v-1.5h2v-4.05h4zM1132.1 724.7h6v2.1h4v4.05h2v1.5h-2v4.05h-4v2.1h-6v-2.1h-4v-4.05h-2v-1.5h2v-4.05h4zM1150.9 738.8h6v2.1h4v4.05h2v1.5h-2v4.05h-4v2.1h-6v-2.1h-4v-4.05h-2v-1.5h2v-4.05h4zM1169.1 750.5h6v2.1h4v4.05h2v1.5h-2v4.05h-4v2.1h-6v-2.1h-4v-4.05h-2v-1.5h2v-4.05h4zM1187.9 762.3h6v2.1h4v4.05h2v1.5h-2v4.05h-4v2.1h-6v-2.1h-4v-4.05h-2v-1.5h2v-4.05h4zM1206.6 774.0h6v2.1h4v4.05h2v1.5h-2v4.05h-4v2.1h-6v-2.1h-4v-4.05h-2v-1.5h2v-4.05h4zM1224.8 784.0h6v2.1h4v4.05h2v1.5h-2v4.05h-4v2.1h-6v-2.1h-4v-4.05h-2v-1.5h2v-4.05h4zM1242.4 795.7h6v2.1h4v4.05h2v1.5h-2v4.05h-4v2.1h-6v-2.1h-4v-4.05h-2v-1.5h2v-4.05h4zM1261.5 805.9h6v2.1h4v4.05h2v1.5h-2v4.05h-4v2.1h-6v-2.1h-4v-4.05h-2v-1.5h2v-4.05h4zM1280.5 816.0h6v2.1h4v4.05h2v1.5h-2v4.05h-4v2.1h-6v-2.1h-4v-4.05h-2v-1.5h2v-4.05h4zM1298.1 825.9h6v2.1h4v4.05h2v1.5h-2v4.05h-4v2.1h-6v-2.1h-4v-4.05h-2v-1.5h2v-4.05h4zM1316.2 835.9h6v2.1h4v4.05h2v1.5h-2v4.05h-4v2.1h-6v-2.1h-4v-4.05h-2v-1.5h2v-4.05h4zM1335.0 843.0h6v2.1h4v4.05h2v1.5h-2v4.05h-4v2.1h-6v-2.1h-4v-4.05h-2v-1.5h2v-4.05h4zM1353.2 853.5h6v2.1h4v4.05h2v1.5h-2v4.05h-4v2.1h-6v-2.1h-4v-4.05h-2v-1.5h2v-4.05h4zM1372.0 865.8h6v2.1h4v4.05h2v1.5h-2v4.05h-4v2.1h-6v-2.1h-4v-4.05h-2v-1.5h2v-4.05h4zM1390.8 891.1h6v2.1h4v4.05h2v1.5h-2v4.05h-4v2.1h-6v-2.1h-4v-4.05h-2v-1.5h2v-4.05h4zM1408.5 915.0h6v2.1h4v4.05h2v1.5h-2v4.05h-4v2.1h-6v-2.1h-4v-4.05h-2v-1.5h2v-4.05h4zM1428.6 956.1h6v2.1h4v4.05h2v1.5h-2v4.05h-4v2.1h-6v-2.1h-4v-4.05h-2v-1.5h2v-4.05h4zM1447.4 1103.9h6v2.1h4v4.05h2v1.5h-2v4.05h-4v2.1h-6v-2.1h-4v-4.05h-2v-1.5h2v-4.05h4zM1456.5 1035.6h6v2.1h4v4.05h2v1.5h-2v4.05h-4v2.1h-6v-2.1h-4v-4.05h-2v-1.5h2v-4.05h4zM1461.4 988.9h6v2.1h4v4.05h2v1.5h-2v4.05h-4v2.1h-6v-2.1h-4v-4.05h-2v-1.5h2v-4.05h4zM1465.6 956.8h6v2.1h4v4.05h2v1.5h-2v4.05h-4v2.1h-6v-2.1h-4v-4.05h-2v-1.5h2v-4.05h4zM1469.7 931.7h6v2.1h4v4.05h2v1.5h-2v4.05h-4v2.1h-6v-2.1h-4v-4.05h-2v-1.5h2v-4.05h4zM1474.6 912.1h6v2.1h4v4.05h2v1.5h-2v4.05h-4v2.1h-6v-2.1h-4v-4.05h-2v-1.5h2v-4.05h4zM1478.6 895.2h6v2.1h4v4.05h2v1.5h-2v4.05h-4v2.1h-6v-2.1h-4v-4.05h-2v-1.5h2v-4.05h4zM1484.3 879.1h6v2.1h4v4.05h2v1.5h-2v4.05h-4v2.1h-6v-2.1h-4v-4.05h-2v-1.5h2v-4.05h4zM1489.1 862.9h6v2.1h4v4.05h2v1.5h-2v4.05h-4v2.1h-6v-2.1h-4v-4.05h-2v-1.5h2v-4.05h4zM1493.1 844.4h6v2.1h4v4.05h2v1.5h-2v4.05h-4v2.1h-6v-2.1h-4v-4.05h-2v-1.5h2v-4.05h4zM1498.0 833.1h6v2.1h4v4.05h2v1.5h-2v4.05h-4v2.1h-6v-2.1h-4v-4.05h-2v-1.5h2v-4.05h4zM1502.8 819.4h6v2.1h4v4.05h2v1.5h-2v4.05h-4v2.1h-6v-2.1h-4v-4.05h-2v-1.5h2v-4.05h4zM1506.8 805.7h6v2.1h4v4.05h2v1.5h-2v4.05h-4v2.1h-6v-2.1h-4v-4.05h-2v-1.5h2v-4.05h4zM1510.9 789.6h6v2.1h4v4.05h2v1.5h-2v4.05h-4v2.1h-6v-2.1h-4v-4.05h-2v-1.5h2v-4.05h4zM1516.5 775.0h6v2.1h4v4.05h2v1.5h-2v4.05h-4v2.1h-6v-2.1h-4v-4.05h-2v-1.5h2v-4.05h4zM1519.7 758.9h6v2.1h4v4.05h2v1.5h-2v4.05h-4v2.1h-6v-2.1h-4v-4.05h-2v-1.5h2v-4.05h4zM1523.8 742.6h6v2.1h4v4.05h2v1.5h-2v4.05h-4v2.1h-6v-2.1h-4v-4.05h-2v-1.5h2v-4.05h4zM1529.8 726.3h6v2.1h4v4.05h2v1.5h-2v4.05h-4v2.1h-6v-2.1h-4v-4.05h-2v-1.5h2v-4.05h4zM1535.0 708.7h6v2.1h4v4.05h2v1.5h-2v4.05h-4v2.1h-6v-2.1h-4v-4.05h-2v-1.5h2v-4.05h4zM1539.4 692.5h6v2.1h4v4.05h2v1.5h-2v4.05h-4v2.1h-6v-2.1h-4v-4.05h-2v-1.5h2v-4.05h4zM1545.2 674.9h6v2.1h4v4.05h2v1.5h-2v4.05h-4v2.1h-6v-2.1h-4v-4.05h-2v-1.5h2v-4.05h4zM1548.9 658.8h6v2.1h4v4.05h2v1.5h-2v4.05h-4v2.1h-6v-2.1h-4v-4.05h-2v-1.5h2v-4.05h4zM1552.6 641.9h6v2.1h4v4.05h2v1.5h-2v4.05h-4v2.1h-6v-2.1h-4v-4.05h-2v-1.5h2v-4.05h4zM1557.7 625.0h6v2.1h4v4.05h2v1.5h-2v4.05h-4v2.1h-6v-2.1h-4v-4.05h-2v-1.5h2v-4.05h4zM1562.1 609.6h6v2.1h4v4.05h2v1.5h-2v4.05h-4v2.1h-6v-2.1h-4v-4.05h-2v-1.5h2v-4.05h4zM1566.5 593.5h6v2.1h4v4.05h2v1.5h-2v4.05h-4v2.1h-6v-2.1h-4v-4.05h-2v-1.5h2v-4.05h4zM1571.7 578.8h6v2.1h4v4.05h2v1.5h-2v4.05h-4v2.1h-6v-2.1h-4v-4.05h-2v-1.5h2v-4.05h4zM1576.8 563.4h6v2.1h4v4.05h2v1.5h-2v4.05h-4v2.1h-6v-2.1h-4v-4.05h-2v-1.5h2v-4.05h4zM1580.5 553.8h6v2.1h4v4.05h2v1.5h-2v4.05h-4v2.1h-6v-2.1h-4v-4.05h-2v-1.5h2v-4.05h4z"/><path fill="#900000" d="M1580.5 553.8h6v2.1h4v4.05h2v1.5h-2v4.05h-4v2.1h-6v-2.1h-4v-4.05h-2v-1.5h2v-4.05h4zM1581.1 551.7h6v2.1h4v4.05h2v1.5h-2v4.05h-4v2.1h-6v-2.1h-4v-4.05h-2v-1.5h2v-4.05h4zM1581.9 549.2h6v2.1h4v4.05h2v1.5h-2v4.05h-4v2.1h-6v-2.1h-4v-4.05h-2v-1.5h2v-4.05h4zM1582.5 547.2h6v2.1h4v4.05h2v1.5h-2v4.05h-4v2.1h-6v-2.1h-4v-4.05h-2v-1.5h2v-4.05h4zM1583.1 545.1h6v2.1h4v4.05h2v1.5h-2v4.05h-4v2.1h-6v-2.1h-4v-4.05h-2v-1.5h2v-4.05h4zM1583.8 542.9h6v2.1h4v4.05h2v1.5h-2v4.05h-4v2.1h-6v-2.1h-4v-4.05h-2v-1.5h2v-4.05h4zM1584.5 540.9h6v2.1h4v4.05h2v1.5h-2v4.05h-4v2.1h-6v-2.1h-4v-4.05h-2v-1.5h2v-4.05h4zM1585.3 538.5h6v2.1h4v4.05h2v1.5h-2v4.05h-4v2.1h-6v-2.1h-4v-4.05h-2v-1.5h2v-4.05h4zM1586.2 536.4h6v2.1h4v4.05h2v1.5h-2v4.05h-4v2.1h-6v-2.1h-4v-4.05h-2v-1.5h2v-4.05h4zM1587.1 534.3h6v2.1h4v4.05h2v1.5h-2v4.05h-4v2.1h-6v-2.1h-4v-4.05h-2v-1.5h2v-4.05h4zM1588.0 532.3h6v2.1h4v4.05h2v1.5h-2v4.05h-4v2.1h-6v-2.1h-4v-4.05h-2v-1.5h2v-4.05h4zM1588.9 530.3h6v2.1h4v4.05h2v1.5h-2v4.05h-4v2.1h-6v-2.1h-4v-4.05h-2v-1.5h2v-4.05h4zM1589.8 528.5h6v2.1h4v4.05h2v1.5h-2v4.05h-4v2.1h-6v-2.1h-4v-4.05h-2v-1.5h2v-4.05h4zM1590.8 526.2h6v2.1h4v4.05h2v1.5h-2v4.05h-4v2.1h-6v-2.1h-4v-4.05h-2v-1.5h2v-4.05h4zM1591.7 524.2h6v2.1h4v4.05h2v1.5h-2v4.05h-4v2.1h-6v-2.1h-4v-4.05h-2v-1.5h2v-4.05h4zM1592.5 522.4h6v2.1h4v4.05h2v1.5h-2v4.05h-4v2.1h-6v-2.1h-4v-4.05h-2v-1.5h2v-4.05h4zM1593.3 520.5h6v2.1h4v4.05h2v1.5h-2v4.05h-4v2.1h-6v-2.1h-4v-4.05h-2v-1.5h2v-4.05h4zM1594.4 518.5h6v2.1h4v4.05h2v1.5h-2v4.05h-4v2.1h-6v-2.1h-4v-4.05h-2v-1.5h2v-4.05h4zM1595.4 516.7h6v2.1h4v4.05h2v1.5h-2v4.05h-4v2.1h-6v-2.1h-4v-4.05h-2v-1.5h2v-4.05h4zM1596.5 514.8h6v2.1h4v4.05h2v1.5h-2v4.05h-4v2.1h-6v-2.1h-4v-4.05h-2v-1.5h2v-4.05h4zM1597.6 512.8h6v2.1h4v4.05h2v1.5h-2v4.05h-4v2.1h-6v-2.1h-4v-4.05h-2v-1.5h2v-4.05h4zM1598.9 510.7h6v2.1h4v4.05h2v1.5h-2v4.05h-4v2.1h-6v-2.1h-4v-4.05h-2v-1.5h2v-4.05h4zM1600.4 508.5h6v2.1h4v4.05h2v1.5h-2v4.05h-4v2.1h-6v-2.1h-4v-4.05h-2v-1.5h2v-4.05h4zM1601.8 506.9h6v2.1h4v4.05h2v1.5h-2v4.05h-4v2.1h-6v-2.1h-4v-4.05h-2v-1.5h2v-4.05h4zM1603.3 505.1h6v2.1h4v4.05h2v1.5h-2v4.05h-4v2.1h-6v-2.1h-4v-4.05h-2v-1.5h2v-4.05h4zM1605.1 503.2h6v2.1h4v4.05h2v1.5h-2v4.05h-4v2.1h-6v-2.1h-4v-4.05h-2v-1.5h2v-4.05h4zM1607.1 501.2h6v2.1h4v4.05h2v1.5h-2v4.05h-4v2.1h-6v-2.1h-4v-4.05h-2v-1.5h2v-4.05h4zM1608.6 499.9h6v2.1h4v4.05h2v1.5h-2v4.05h-4v2.1h-6v-2.1h-4v-4.05h-2v-1.5h2v-4.05h4zM1610.2 498.5h6v2.1h4v4.05h2v1.5h-2v4.05h-4v2.1h-6v-2.1h-4v-4.05h-2v-1.5h2v-4.05h4zM1611.7 497.0h6v2.1h4v4.05h2v1.5h-2v4.05h-4v2.1h-6v-2.1h-4v-4.05h-2v-1.5h2v-4.05h4zM1613.4 495.6h6v2.1h4v4.05h2v1.5h-2v4.05h-4v2.1h-6v-2.1h-4v-4.05h-2v-1.5h2v-4.05h4zM1615.0 494.2h6v2.1h4v4.05h2v1.5h-2v4.05h-4v2.1h-6v-2.1h-4v-4.05h-2v-1.5h2v-4.05h4zM1616.7 492.9h6v2.1h4v4.05h2v1.5h-2v4.05h-4v2.1h-6v-2.1h-4v-4.05h-2v-1.5h2v-4.05h4zM1618.3 491.5h6v2.1h4v4.05h2v1.5h-2v4.05h-4v2.1h-6v-2.1h-4v-4.05h-2v-1.5h2v-4.05h4zM1619.9 490.3h6v2.1h4v4.05h2v1.5h-2v4.05h-4v2.1h-6v-2.1h-4v-4.05h-2v-1.5h2v-4.05h4zM1622.3 488.5h6v2.1h4v4.05h2v1.5h-2v4.05h-4v2.1h-6v-2.1h-4v-4.05h-2v-1.5h2v-4.05h4zM1624.5 486.9h6v2.1h4v4.05h2v1.5h-2v4.05h-4v2.1h-6v-2.1h-4v-4.05h-2v-1.5h2v-4.05h4zM1626.8 485.5h6v2.1h4v4.05h2v1.5h-2v4.05h-4v2.1h-6v-2.1h-4v-4.05h-2v-1.5h2v-4.05h4zM1629.1 484.1h6v2.1h4v4.05h2v1.5h-2v4.05h-4v2.1h-6v-2.1h-4v-4.05h-2v-1.5h2v-4.05h4zM1631.3 482.7h6v2.1h4v4.05h2v1.5h-2v4.05h-4v2.1h-6v-2.1h-4v-4.05h-2v-1.5h2v-4.05h4zM1633.7 481.4h6v2.1h4v4.05h2v1.5h-2v4.05h-4v2.1h-6v-2.1h-4v-4.05h-2v-1.5h2v-4.05h4zM1636.1 480.0h6v2.1h4v4.05h2v1.5h-2v4.05h-4v2.1h-6v-2.1h-4v-4.05h-2v-1.5h2v-4.05h4zM1638.6 478.6h6v2.1h4v4.05h2v1.5h-2v4.05h-4v2.1h-6v-2.1h-4v-4.05h-2v-1.5h2v-4.05h4zM1641.2 477.1h6v2.1h4v4.05h2v1.5h-2v4.05h-4v2.1h-6v-2.1h-4v-4.05h-2v-1.5h2v-4.05h4zM1643.0 476.1h6v2.1h4v4.05h2v1.5h-2v4.05h-4v2.1h-6v-2.1h-4v-4.05h-2v-1.5h2v-4.05h4zM1644.9 475.1h6v2.1h4v4.05h2v1.5h-2v4.05h-4v2.1h-6v-2.1h-4v-4.05h-2v-1.5h2v-4.05h4zM1646.8 474.1h6v2.1h4v4.05h2v1.5h-2v4.05h-4v2.1h-6v-2.1h-4v-4.05h-2v-1.5h2v-4.05h4zM1648.8 473.1h6v2.1h4v4.05h2v1.5h-2v4.05h-4v2.1h-6v-2.1h-4v-4.05h-2v-1.5h2v-4.05h4zM1650.8 472.1h6v2.1h4v4.05h2v1.5h-2v4.05h-4v2.1h-6v-2.1h-4v-4.05h-2v-1.5h2v-4.05h4zM1652.8 471.0h6v2.1h4v4.05h2v1.5h-2v4.05h-4v2.1h-6v-2.1h-4v-4.05h-2v-1.5h2v-4.05h4zM1654.8 469.9h6v2.1h4v4.05h2v1.5h-2v4.05h-4v2.1h-6v-2.1h-4v-4.05h-2v-1.5h2v-4.05h4zM1656.8 468.8h6v2.1h4v4.05h2v1.5h-2v4.05h-4v2.1h-6v-2.1h-4v-4.05h-2v-1.5h2v-4.05h4zM1658.8 467.7h6v2.1h4v4.05h2v1.5h-2v4.05h-4v2.1h-6v-2.1h-4v-4.05h-2v-1.5h2v-4.05h4zM1660.8 466.5h6v2.1h4v4.05h2v1.5h-2v4.05h-4v2.1h-6v-2.1h-4v-4.05h-2v-1.5h2v-4.05h4zM1662.8 465.2h6v2.1h4v4.05h2v1.5h-2v4.05h-4v2.1h-6v-2.1h-4v-4.05h-2v-1.5h2v-4.05h4zM1664.8 463.9h6v2.1h4v4.05h2v1.5h-2v4.05h-4v2.1h-6v-2.1h-4v-4.05h-2v-1.5h2v-4.05h4zM1666.8 462.5h6v2.1h4v4.05h2v1.5h-2v4.05h-4v2.1h-6v-2.1h-4v-4.05h-2v-1.5h2v-4.05h4zM1668.8 460.9h6v2.1h4v4.05h2v1.5h-2v4.05h-4v2.1h-6v-2.1h-4v-4.05h-2v-1.5h2v-4.05h4zM1670.9 459.3h6v2.1h4v4.05h2v1.5h-2v4.05h-4v2.1h-6v-2.1h-4v-4.05h-2v-1.5h2v-4.05h4zM1672.9 457.6h6v2.1h4v4.05h2v1.5h-2v4.05h-4v2.1h-6v-2.1h-4v-4.05h-2v-1.5h2v-4.05h4zM1675.0 455.9h6v2.1h4v4.05h2v1.5h-2v4.05h-4v2.1h-6v-2.1h-4v-4.05h-2v-1.5h2v-4.05h4zM1677.0 454.2h6v2.1h4v4.05h2v1.5h-2v4.05h-4v2.1h-6v-2.1h-4v-4.05h-2v-1.5h2v-4.05h4zM1679.0 452.5h6v2.1h4v4.05h2v1.5h-2v4.05h-4v2.1h-6v-2.1h-4v-4.05h-2v-1.5h2v-4.05h4zM1680.9 450.9h6v2.1h4v4.05h2v1.5h-2v4.05h-4v2.1h-6v-2.1h-4v-4.05h-2v-1.5h2v-4.05h4zM1682.8 449.3h6v2.1h4v4.05h2v1.5h-2v4.05h-4v2.1h-6v-2.1h-4v-4.05h-2v-1.5h2v-4.05h4zM1684.5 447.9h6v2.1h4v4.05h2v1.5h-2v4.05h-4v2.1h-6v-2.1h-4v-4.05h-2v-1.5h2v-4.05h4zM1686.2 446.7h6v2.1h4v4.05h2v1.5h-2v4.05h-4v2.1h-6v-2.1h-4v-4.05h-2v-1.5h2v-4.05h4zM1688.5 445.1h6v2.1h4v4.05h2v1.5h-2v4.05h-4v2.1h-6v-2.1h-4v-4.05h-2v-1.5h2v-4.05h4zM1690.5 443.8h6v2.1h4v4.05h2v1.5h-2v4.05h-4v2.1h-6v-2.1h-4v-4.05h-2v-1.5h2v-4.05h4zM1692.3 442.7h6v2.1h4v4.05h2v1.5h-2v4.05h-4v2.1h-6v-2.1h-4v-4.05h-2v-1.5h2v-4.05h4zM1694.5 441.6h6v2.1h4v4.05h2v1.5h-2v4.05h-4v2.1h-6v-2.1h-4v-4.05h-2v-1.5h2v-4.05h4zM1696.5 440.6h6v2.1h4v4.05h2v1.5h-2v4.05h-4v2.1h-6v-2.1h-4v-4.05h-2v-1.5h2v-4.05h4zM1698.7 439.7h6v2.1h4v4.05h2v1.5h-2v4.05h-4v2.1h-6v-2.1h-4v-4.05h-2v-1.5h2v-4.05h4zM1701.0 438.6h6v2.1h4v4.05h2v1.5h-2v4.05h-4v2.1h-6v-2.1h-4v-4.05h-2v-1.5h2v-4.05h4zM1702.9 437.7h6v2.1h4v4.05h2v1.5h-2v4.05h-4v2.1h-6v-2.1h-4v-4.05h-2v-1.5h2v-4.05h4zM1704.8 436.9h6v2.1h4v4.05h2v1.5h-2v4.05h-4v2.1h-6v-2.1h-4v-4.05h-2v-1.5h2v-4.05h4zM1706.8 436.1h6v2.1h4v4.05h2v1.5h-2v4.05h-4v2.1h-6v-2.1h-4v-4.05h-2v-1.5h2v-4.05h4zM1708.8 435.3h6v2.1h4v4.05h2v1.5h-2v4.05h-4v2.1h-6v-2.1h-4v-4.05h-2v-1.5h2v-4.05h4zM1710.8 434.5h6v2.1h4v4.05h2v1.5h-2v4.05h-4v2.1h-6v-2.1h-4v-4.05h-2v-1.5h2v-4.05h4zM1712.8 433.7h6v2.1h4v4.05h2v1.5h-2v4.05h-4v2.1h-6v-2.1h-4v-4.05h-2v-1.5h2v-4.05h4zM1714.9 432.9h6v2.1h4v4.05h2v1.5h-2v4.05h-4v2.1h-6v-2.1h-4v-4.05h-2v-1.5h2v-4.05h4zM1717.0 432.1h6v2.1h4v4.05h2v1.5h-2v4.05h-4v2.1h-6v-2.1h-4v-4.05h-2v-1.5h2v-4.05h4zM1719.0 431.3h6v2.1h4v4.05h2v1.5h-2v4.05h-4v2.1h-6v-2.1h-4v-4.05h-2v-1.5h2v-4.05h4zM1720.9 430.4h6v2.1h4v4.05h2v1.5h-2v4.05h-4v2.1h-6v-2.1h-4v-4.05h-2v-1.5h2v-4.05h4zM1722.8 429.6h6v2.1h4v4.05h2v1.5h-2v4.05h-4v2.1h-6v-2.1h-4v-4.05h-2v-1.5h2v-4.05h4zM1724.7 428.7h6v2.1h4v4.05h2v1.5h-2v4.05h-4v2.1h-6v-2.1h-4v-4.05h-2v-1.5h2v-4.05h4zM1726.8 427.8h6v2.1h4v4.05h2v1.5h-2v4.05h-4v2.1h-6v-2.1h-4v-4.05h-2v-1.5h2v-4.05h4zM1729.1 427.0h6v2.1h4v4.05h2v1.5h-2v4.05h-4v2.1h-6v-2.1h-4v-4.05h-2v-1.5h2v-4.05h4zM1731.6 426.0h6v2.1h4v4.05h2v1.5h-2v4.05h-4v2.1h-6v-2.1h-4v-4.05h-2v-1.5h2v-4.05h4zM1733.6 425.4h6v2.1h4v4.05h2v1.5h-2v4.05h-4v2.1h-6v-2.1h-4v-4.05h-2v-1.5h2v-4.05h4zM1735.7 424.8h6v2.1h4v4.05h2v1.5h-2v4.05h-4v2.1h-6v-2.1h-4v-4.05h-2v-1.5h2v-4.05h4zM1738.2 424.1h6v2.1h4v4.05h2v1.5h-2v4.05h-4v2.1h-6v-2.1h-4v-4.05h-2v-1.5h2v-4.05h4zM1740.9 423.4h6v2.1h4v4.05h2v1.5h-2v4.05h-4v2.1h-6v-2.1h-4v-4.05h-2v-1.5h2v-4.05h4zM1743.8 422.6h6v2.1h4v4.05h2v1.5h-2v4.05h-4v2.1h-6v-2.1h-4v-4.05h-2v-1.5h2v-4.05h4zM1746.9 421.8h6v2.1h4v4.05h2v1.5h-2v4.05h-4v2.1h-6v-2.1h-4v-4.05h-2v-1.5h2v-4.05h4zM1750.0 421.0h6v2.1h4v4.05h2v1.5h-2v4.05h-4v2.1h-6v-2.1h-4v-4.05h-2v-1.5h2v-4.05h4zM1753.2 420.3h6v2.1h4v4.05h2v1.5h-2v4.05h-4v2.1h-6v-2.1h-4v-4.05h-2v-1.5h2v-4.05h4zM1756.3 419.5h6v2.1h4v4.05h2v1.5h-2v4.05h-4v2.1h-6v-2.1h-4v-4.05h-2v-1.5h2v-4.05h4zM1759.3 418.8h6v2.1h4v4.05h2v1.5h-2v4.05h-4v2.1h-6v-2.1h-4v-4.05h-2v-1.5h2v-4.05h4zM1762.1 418.2h6v2.1h4v4.05h2v1.5h-2v4.05h-4v2.1h-6v-2.1h-4v-4.05h-2v-1.5h2v-4.05h4zM1764.7 417.6h6v2.1h4v4.05h2v1.5h-2v4.05h-4v2.1h-6v-2.1h-4v-4.05h-2v-1.5h2v-4.05h4zM1767.0 417.0h6v2.1h4v4.05h2v1.5h-2v4.05h-4v2.1h-6v-2.1h-4v-4.05h-2v-1.5h2v-4.05h4zM1768.9 416.6h6v2.1h4v4.05h2v1.5h-2v4.05h-4v2.1h-6v-2.1h-4v-4.05h-2v-1.5h2v-4.05h4zM1771.5 416.1h6v2.1h4v4.05h2v1.5h-2v4.05h-4v2.1h-6v-2.1h-4v-4.05h-2v-1.5h2v-4.05h4zM1773.7 415.6h6v2.1h4v4.05h2v1.5h-2v4.05h-4v2.1h-6v-2.1h-4v-4.05h-2v-1.5h2v-4.05h4zM1776.1 415.3h6v2.1h4v4.05h2v1.5h-2v4.05h-4v2.1h-6v-2.1h-4v-4.05h-2v-1.5h2v-4.05h4zM1778.4 414.9h6v2.1h4v4.05h2v1.5h-2v4.05h-4v2.1h-6v-2.1h-4v-4.05h-2v-1.5h2v-4.05h4zM1780.4 414.7h6v2.1h4v4.05h2v1.5h-2v4.05h-4v2.1h-6v-2.1h-4v-4.05h-2v-1.5h2v-4.05h4zM1781.0 414.6h6v2.1h4v4.05h2v1.5h-2v4.05h-4v2.1h-6v-2.1h-4v-4.05h-2v-1.5h2v-4.05h4z"/><path fill="#900000" d="M1593.4 512.6h6v2.1h4v4.05h2v1.5h-2v4.05h-4v2.1h-6v-2.1h-4v-4.05h-2v-1.5h2v-4.05h4zM1594.4 510.9h6v2.1h4v4.05h2v1.5h-2v4.05h-4v2.1h-6v-2.1h-4v-4.05h-2v-1.5h2v-4.05h4zM1595.5 509.0h6v2.1h4v4.05h2v1.5h-2v4.05h-4v2.1h-6v-2.1h-4v-4.05h-2v-1.5h2v-4.05h4zM1596.8 506.8h6v2.1h4v4.05h2v1.5h-2v4.05h-4v2.1h-6v-2.1h-4v-4.05h-2v-1.5h2v-4.05h4zM1598.0 505.0h6v2.1h4v4.05h2v1.5h-2v4.05h-4v2.1h-6v-2.1h-4v-4.05h-2v-1.5h2v-4.05h4zM1599.3 503.1h6v2.1h4v4.05h2v1.5h-2v4.05h-4v2.1h-6v-2.1h-4v-4.05h-2v-1.5h2v-4.05h4zM1600.7 501.3h6v2.1h4v4.05h2v1.5h-2v4.05h-4v2.1h-6v-2.1h-4v-4.05h-2v-1.5h2v-4.05h4zM1602.4 499.5h6v2.1h4v4.05h2v1.5h-2v4.05h-4v2.1h-6v-2.1h-4v-4.05h-2v-1.5h2v-4.05h4zM1604.3 497.6h6v2.1h4v4.05h2v1.5h-2v4.05h-4v2.1h-6v-2.1h-4v-4.05h-2v-1.5h2v-4.05h4zM1606.4 495.6h6v2.1h4v4.05h2v1.5h-2v4.05h-4v2.1h-6v-2.1h-4v-4.05h-2v-1.5h2v-4.05h4zM1607.9 494.2h6v2.1h4v4.05h2v1.5h-2v4.05h-4v2.1h-6v-2.1h-4v-4.05h-2v-1.5h2v-4.05h4zM1609.4 492.7h6v2.1h4v4.05h2v1.5h-2v4.05h-4v2.1h-6v-2.1h-4v-4.05h-2v-1.5h2v-4.05h4zM1611.1 491.3h6v2.1h4v4.05h2v1.5h-2v4.05h-4v2.1h-6v-2.1h-4v-4.05h-2v-1.5h2v-4.05h4zM1612.7 489.9h6v2.1h4v4.05h2v1.5h-2v4.05h-4v2.1h-6v-2.1h-4v-4.05h-2v-1.5h2v-4.05h4zM1614.4 488.5h6v2.1h4v4.05h2v1.5h-2v4.05h-4v2.1h-6v-2.1h-4v-4.05h-2v-1.5h2v-4.05h4zM1616.0 487.2h6v2.1h4v4.05h2v1.5h-2v4.05h-4v2.1h-6v-2.1h-4v-4.05h-2v-1.5h2v-4.05h4zM1617.6 485.9h6v2.1h4v4.05h2v1.5h-2v4.05h-4v2.1h-6v-2.1h-4v-4.05h-2v-1.5h2v-4.05h4zM1619.2 484.7h6v2.1h4v4.05h2v1.5h-2v4.05h-4v2.1h-6v-2.1h-4v-4.05h-2v-1.5h2v-4.05h4zM1621.5 483.0h6v2.1h4v4.05h2v1.5h-2v4.05h-4v2.1h-6v-2.1h-4v-4.05h-2v-1.5h2v-4.05h4zM1623.8 481.4h6v2.1h4v4.05h2v1.5h-2v4.05h-4v2.1h-6v-2.1h-4v-4.05h-2v-1.5h2v-4.05h4zM1626.0 480.0h6v2.1h4v4.05h2v1.5h-2v4.05h-4v2.1h-6v-2.1h-4v-4.05h-2v-1.5h2v-4.05h4zM1628.3 478.6h6v2.1h4v4.05h2v1.5h-2v4.05h-4v2.1h-6v-2.1h-4v-4.05h-2v-1.5h2v-4.05h4zM1630.6 477.3h6v2.1h4v4.05h2v1.5h-2v4.05h-4v2.1h-6v-2.1h-4v-4.05h-2v-1.5h2v-4.05h4zM1633.0 475.9h6v2.1h4v4.05h2v1.5h-2v4.05h-4v2.1h-6v-2.1h-4v-4.05h-2v-1.5h2v-4.05h4zM1635.4 474.6h6v2.1h4v4.05h2v1.5h-2v4.05h-4v2.1h-6v-2.1h-4v-4.05h-2v-1.5h2v-4.05h4zM1637.9 473.1h6v2.1h4v4.05h2v1.5h-2v4.05h-4v2.1h-6v-2.1h-4v-4.05h-2v-1.5h2v-4.05h4zM1639.7 472.1h6v2.1h4v4.05h2v1.5h-2v4.05h-4v2.1h-6v-2.1h-4v-4.05h-2v-1.5h2v-4.05h4zM1641.5 471.1h6v2.1h4v4.05h2v1.5h-2v4.05h-4v2.1h-6v-2.1h-4v-4.05h-2v-1.5h2v-4.05h4zM1643.4 470.1h6v2.1h4v4.05h2v1.5h-2v4.05h-4v2.1h-6v-2.1h-4v-4.05h-2v-1.5h2v-4.05h4zM1645.3 469.1h6v2.1h4v4.05h2v1.5h-2v4.05h-4v2.1h-6v-2.1h-4v-4.05h-2v-1.5h2v-4.05h4zM1647.3 468.1h6v2.1h4v4.05h2v1.5h-2v4.05h-4v2.1h-6v-2.1h-4v-4.05h-2v-1.5h2v-4.05h4zM1649.3 467.1h6v2.1h4v4.05h2v1.5h-2v4.05h-4v2.1h-6v-2.1h-4v-4.05h-2v-1.5h2v-4.05h4zM1651.3 466.0h6v2.1h4v4.05h2v1.5h-2v4.05h-4v2.1h-6v-2.1h-4v-4.05h-2v-1.5h2v-4.05h4zM1653.3 464.9h6v2.1h4v4.05h2v1.5h-2v4.05h-4v2.1h-6v-2.1h-4v-4.05h-2v-1.5h2v-4.05h4zM1655.3 463.8h6v2.1h4v4.05h2v1.5h-2v4.05h-4v2.1h-6v-2.1h-4v-4.05h-2v-1.5h2v-4.05h4zM1657.3 462.7h6v2.1h4v4.05h2v1.5h-2v4.05h-4v2.1h-6v-2.1h-4v-4.05h-2v-1.5h2v-4.05h4zM1659.3 461.5h6v2.1h4v4.05h2v1.5h-2v4.05h-4v2.1h-6v-2.1h-4v-4.05h-2v-1.5h2v-4.05h4zM1661.3 460.2h6v2.1h4v4.05h2v1.5h-2v4.05h-4v2.1h-6v-2.1h-4v-4.05h-2v-1.5h2v-4.05h4zM1663.3 458.9h6v2.1h4v4.05h2v1.5h-2v4.05h-4v2.1h-6v-2.1h-4v-4.05h-2v-1.5h2v-4.05h4zM1665.3 457.5h6v2.1h4v4.05h2v1.5h-2v4.05h-4v2.1h-6v-2.1h-4v-4.05h-2v-1.5h2v-4.05h4zM1667.3 455.9h6v2.1h4v4.05h2v1.5h-2v4.05h-4v2.1h-6v-2.1h-4v-4.05h-2v-1.5h2v-4.05h4zM1669.4 454.3h6v2.1h4v4.05h2v1.5h-2v4.05h-4v2.1h-6v-2.1h-4v-4.05h-2v-1.5h2v-4.05h4zM1671.4 452.6h6v2.1h4v4.05h2v1.5h-2v4.05h-4v2.1h-6v-2.1h-4v-4.05h-2v-1.5h2v-4.05h4zM1673.5 450.9h6v2.1h4v4.05h2v1.5h-2v4.05h-4v2.1h-6v-2.1h-4v-4.05h-2v-1.5h2v-4.05h4zM1675.5 449.2h6v2.1h4v4.05h2v1.5h-2v4.05h-4v2.1h-6v-2.1h-4v-4.05h-2v-1.5h2v-4.05h4zM1677.5 447.5h6v2.1h4v4.05h2v1.5h-2v4.05h-4v2.1h-6v-2.1h-4v-4.05h-2v-1.5h2v-4.05h4zM1679.4 445.9h6v2.1h4v4.05h2v1.5h-2v4.05h-4v2.1h-6v-2.1h-4v-4.05h-2v-1.5h2v-4.05h4zM1681.3 444.3h6v2.1h4v4.05h2v1.5h-2v4.05h-4v2.1h-6v-2.1h-4v-4.05h-2v-1.5h2v-4.05h4zM1683.0 442.9h6v2.1h4v4.05h2v1.5h-2v4.05h-4v2.1h-6v-2.1h-4v-4.05h-2v-1.5h2v-4.05h4zM1684.7 441.7h6v2.1h4v4.05h2v1.5h-2v4.05h-4v2.1h-6v-2.1h-4v-4.05h-2v-1.5h2v-4.05h4zM1687.0 440.1h6v2.1h4v4.05h2v1.5h-2v4.05h-4v2.1h-6v-2.1h-4v-4.05h-2v-1.5h2v-4.05h4zM1689.3 438.7h6v2.1h4v4.05h2v1.5h-2v4.05h-4v2.1h-6v-2.1h-4v-4.05h-2v-1.5h2v-4.05h4zM1691.4 437.5h6v2.1h4v4.05h2v1.5h-2v4.05h-4v2.1h-6v-2.1h-4v-4.05h-2v-1.5h2v-4.05h4zM1693.3 436.5h6v2.1h4v4.05h2v1.5h-2v4.05h-4v2.1h-6v-2.1h-4v-4.05h-2v-1.5h2v-4.05h4zM1695.7 435.4h6v2.1h4v4.05h2v1.5h-2v4.05h-4v2.1h-6v-2.1h-4v-4.05h-2v-1.5h2v-4.05h4zM1697.7 434.5h6v2.1h4v4.05h2v1.5h-2v4.05h-4v2.1h-6v-2.1h-4v-4.05h-2v-1.5h2v-4.05h4zM1699.5 433.6h6v2.1h4v4.05h2v1.5h-2v4.05h-4v2.1h-6v-2.1h-4v-4.05h-2v-1.5h2v-4.05h4z"/><path fill="#000000" d="M404.0 202.4h6v2.1h4v4.05h2v1.5h-2v4.05h-4v2.1h-6v-2.1h-4v-4.05h-2v-1.5h2v-4.05h4zM407.0 203.0h6v2.1h4v4.05h2v1.5h-2v4.05h-4v2.1h-6v-2.1h-4v-4.05h-2v-1.5h2v-4.05h4zM409.6 203.5h6v2.1h4v4.05h2v1.5h-2v4.05h-4v2.1h-6v-2.1h-4v-4.05h-2v-1.5h2v-4.05h4zM412.5 204.1h6v2.1h4v4.05h2v1.5h-2v4.05h-4v2.1h-6v-2.1h-4v-4.05h-2v-1.5h2v-4.05h4zM415.7 204.7h6v2.1h4v4.05h2v1.5h-2v4.05h-4v2.1h-6v-2.1h-4v-4.05h-2v-1.5h2v-4.05h4zM419.2 205.4h6v2.1h4v4.05h2v1.5h-2v4.05h-4v2.1h-6v-2.1h-4v-4.05h-2v-1.5h2v-4.05h4zM422.8 206.2h6v2.1h4v4.05h2v1.5h-2v4.05h-4v2.1h-6v-2.1h-4v-4.05h-2v-1.5h2v-4.05h4zM426.6 206.9h6v2.1h4v4.05h2v1.5h-2v4.05h-4v2.1h-6v-2.1h-4v-4.05h-2v-1.5h2v-4.05h4zM430.3 207.7h6v2.1h4v4.05h2v1.5h-2v4.05h-4v2.1h-6v-2.1h-4v-4.05h-2v-1.5h2v-4.05h4zM434.1 208.4h6v2.1h4v4.05h2v1.5h-2v4.05h-4v2.1h-6v-2.1h-4v-4.05h-2v-1.5h2v-4.05h4zM437.8 209.2h6v2.1h4v4.05h2v1.5h-2v4.05h-4v2.1h-6v-2.1h-4v-4.05h-2v-1.5h2v-4.05h4zM441.3 209.9h6v2.1h4v4.05h2v1.5h-2v4.05h-4v2.1h-6v-2.1h-4v-4.05h-2v-1.5h2v-4.05h4zM444.7 210.6h6v2.1h4v4.05h2v1.5h-2v4.05h-4v2.1h-6v-2.1h-4v-4.05h-2v-1.5h2v-4.05h4zM448.0 211.3h6v2.1h4v4.05h2v1.5h-2v4.05h-4v2.1h-6v-2.1h-4v-4.05h-2v-1.5h2v-4.05h4zM451.3 212.0h6v2.1h4v4.05h2v1.5h-2v4.05h-4v2.1h-6v-2.1h-4v-4.05h-2v-1.5h2v-4.05h4zM454.6 212.7h6v2.1h4v4.05h2v1.5h-2v4.05h-4v2.1h-6v-2.1h-4v-4.05h-2v-1.5h2v-4.05h4zM457.9 213.4h6v2.1h4v4.05h2v1.5h-2v4.05h-4v2.1h-6v-2.1h-4v-4.05h-2v-1.5h2v-4.05h4zM461.3 214.1h6v2.1h4v4.05h2v1.5h-2v4.05h-4v2.1h-6v-2.1h-4v-4.05h-2v-1.5h2v-4.05h4zM464.7 214.8h6v2.1h4v4.05h2v1.5h-2v4.05h-4v2.1h-6v-2.1h-4v-4.05h-2v-1.5h2v-4.05h4zM468.0 215.6h6v2.1h4v4.05h2v1.5h-2v4.05h-4v2.1h-6v-2.1h-4v-4.05h-2v-1.5h2v-4.05h4zM471.4 216.3h6v2.1h4v4.05h2v1.5h-2v4.05h-4v2.1h-6v-2.1h-4v-4.05h-2v-1.5h2v-4.05h4zM474.8 217.0h6v2.1h4v4.05h2v1.5h-2v4.05h-4v2.1h-6v-2.1h-4v-4.05h-2v-1.5h2v-4.05h4zM478.3 217.8h6v2.1h4v4.05h2v1.5h-2v4.05h-4v2.1h-6v-2.1h-4v-4.05h-2v-1.5h2v-4.05h4zM481.8 218.5h6v2.1h4v4.05h2v1.5h-2v4.05h-4v2.1h-6v-2.1h-4v-4.05h-2v-1.5h2v-4.05h4zM485.3 219.3h6v2.1h4v4.05h2v1.5h-2v4.05h-4v2.1h-6v-2.1h-4v-4.05h-2v-1.5h2v-4.05h4zM488.8 220.1h6v2.1h4v4.05h2v1.5h-2v4.05h-4v2.1h-6v-2.1h-4v-4.05h-2v-1.5h2v-4.05h4zM492.4 220.9h6v2.1h4v4.05h2v1.5h-2v4.05h-4v2.1h-6v-2.1h-4v-4.05h-2v-1.5h2v-4.05h4zM496.0 221.7h6v2.1h4v4.05h2v1.5h-2v4.05h-4v2.1h-6v-2.1h-4v-4.05h-2v-1.5h2v-4.05h4zM499.6 222.5h6v2.1h4v4.05h2v1.5h-2v4.05h-4v2.1h-6v-2.1h-4v-4.05h-2v-1.5h2v-4.05h4zM503.3 223.3h6v2.1h4v4.05h2v1.5h-2v4.05h-4v2.1h-6v-2.1h-4v-4.05h-2v-1.5h2v-4.05h4zM506.9 224.2h6v2.1h4v4.05h2v1.5h-2v4.05h-4v2.1h-6v-2.1h-4v-4.05h-2v-1.5h2v-4.05h4zM510.6 225.0h6v2.1h4v4.05h2v1.5h-2v4.05h-4v2.1h-6v-2.1h-4v-4.05h-2v-1.5h2v-4.05h4zM514.3 225.9h6v2.1h4v4.05h2v1.5h-2v4.05h-4v2.1h-6v-2.1h-4v-4.05h-2v-1.5h2v-4.05h4zM517.9 226.7h6v2.1h4v4.05h2v1.5h-2v4.05h-4v2.1h-6v-2.1h-4v-4.05h-2v-1.5h2v-4.05h4zM521.6 227.6h6v2.1h4v4.05h2v1.5h-2v4.05h-4v2.1h-6v-2.1h-4v-4.05h-2v-1.5h2v-4.05h4zM525.2 228.4h6v2.1h4v4.05h2v1.5h-2v4.05h-4v2.1h-6v-2.1h-4v-4.05h-2v-1.5h2v-4.05h4zM528.8 229.3h6v2.1h4v4.05h2v1.5h-2v4.05h-4v2.1h-6v-2.1h-4v-4.05h-2v-1.5h2v-4.05h4zM532.4 230.2h6v2.1h4v4.05h2v1.5h-2v4.05h-4v2.1h-6v-2.1h-4v-4.05h-2v-1.5h2v-4.05h4zM536.0 231.0h6v2.1h4v4.05h2v1.5h-2v4.05h-4v2.1h-6v-2.1h-4v-4.05h-2v-1.5h2v-4.05h4zM539.6 231.9h6v2.1h4v4.05h2v1.5h-2v4.05h-4v2.1h-6v-2.1h-4v-4.05h-2v-1.5h2v-4.05h4zM543.2 232.8h6v2.1h4v4.05h2v1.5h-2v4.05h-4v2.1h-6v-2.1h-4v-4.05h-2v-1.5h2v-4.05h4zM546.7 233.7h6v2.1h4v4.05h2v1.5h-2v4.05h-4v2.1h-6v-2.1h-4v-4.05h-2v-1.5h2v-4.05h4zM550.3 234.6h6v2.1h4v4.05h2v1.5h-2v4.05h-4v2.1h-6v-2.1h-4v-4.05h-2v-1.5h2v-4.05h4zM553.9 235.5h6v2.1h4v4.05h2v1.5h-2v4.05h-4v2.1h-6v-2.1h-4v-4.05h-2v-1.5h2v-4.05h4zM557.5 236.5h6v2.1h4v4.05h2v1.5h-2v4.05h-4v2.1h-6v-2.1h-4v-4.05h-2v-1.5h2v-4.05h4zM561.1 237.4h6v2.1h4v4.05h2v1.5h-2v4.05h-4v2.1h-6v-2.1h-4v-4.05h-2v-1.5h2v-4.05h4zM564.6 238.3h6v2.1h4v4.05h2v1.5h-2v4.05h-4v2.1h-6v-2.1h-4v-4.05h-2v-1.5h2v-4.05h4zM568.2 239.2h6v2.1h4v4.05h2v1.5h-2v4.05h-4v2.1h-6v-2.1h-4v-4.05h-2v-1.5h2v-4.05h4zM571.8 240.1h6v2.1h4v4.05h2v1.5h-2v4.05h-4v2.1h-6v-2.1h-4v-4.05h-2v-1.5h2v-4.05h4zM575.4 241.0h6v2.1h4v4.05h2v1.5h-2v4.05h-4v2.1h-6v-2.1h-4v-4.05h-2v-1.5h2v-4.05h4zM578.9 241.9h6v2.1h4v4.05h2v1.5h-2v4.05h-4v2.1h-6v-2.1h-4v-4.05h-2v-1.5h2v-4.05h4zM582.5 242.8h6v2.1h4v4.05h2v1.5h-2v4.05h-4v2.1h-6v-2.1h-4v-4.05h-2v-1.5h2v-4.05h4zM586.1 243.7h6v2.1h4v4.05h2v1.5h-2v4.05h-4v2.1h-6v-2.1h-4v-4.05h-2v-1.5h2v-4.05h4zM589.7 244.6h6v2.1h4v4.05h2v1.5h-2v4.05h-4v2.1h-6v-2.1h-4v-4.05h-2v-1.5h2v-4.05h4zM593.3 245.6h6v2.1h4v4.05h2v1.5h-2v4.05h-4v2.1h-6v-2.1h-4v-4.05h-2v-1.5h2v-4.05h4zM596.8 246.5h6v2.1h4v4.05h2v1.5h-2v4.05h-4v2.1h-6v-2.1h-4v-4.05h-2v-1.5h2v-4.05h4zM600.4 247.4h6v2.1h4v4.05h2v1.5h-2v4.05h-4v2.1h-6v-2.1h-4v-4.05h-2v-1.5h2v-4.05h4zM604.0 248.3h6v2.1h4v4.05h2v1.5h-2v4.05h-4v2.1h-6v-2.1h-4v-4.05h-2v-1.5h2v-4.05h4zM607.6 249.2h6v2.1h4v4.05h2v1.5h-2v4.05h-4v2.1h-6v-2.1h-4v-4.05h-2v-1.5h2v-4.05h4zM611.2 250.2h6v2.1h4v4.05h2v1.5h-2v4.05h-4v2.1h-6v-2.1h-4v-4.05h-2v-1.5h2v-4.05h4zM614.8 251.1h6v2.1h4v4.05h2v1.5h-2v4.05h-4v2.1h-6v-2.1h-4v-4.05h-2v-1.5h2v-4.05h4zM618.4 252.1h6v2.1h4v4.05h2v1.5h-2v4.05h-4v2.1h-6v-2.1h-4v-4.05h-2v-1.5h2v-4.05h4zM622.0 253.0h6v2.1h4v4.05h2v1.5h-2v4.05h-4v2.1h-6v-2.1h-4v-4.05h-2v-1.5h2v-4.05h4zM625.7 253.9h6v2.1h4v4.05h2v1.5h-2v4.05h-4v2.1h-6v-2.1h-4v-4.05h-2v-1.5h2v-4.05h4zM629.3 254.9h6v2.1h4v4.05h2v1.5h-2v4.05h-4v2.1h-6v-2.1h-4v-4.05h-2v-1.5h2v-4.05h4zM633.0 255.8h6v2.1h4v4.05h2v1.5h-2v4.05h-4v2.1h-6v-2.1h-4v-4.05h-2v-1.5h2v-4.05h4zM636.6 256.8h6v2.1h4v4.05h2v1.5h-2v4.05h-4v2.1h-6v-2.1h-4v-4.05h-2v-1.5h2v-4.05h4zM640.2 257.7h6v2.1h4v4.05h2v1.5h-2v4.05h-4v2.1h-6v-2.1h-4v-4.05h-2v-1.5h2v-4.05h4zM643.9 258.7h6v2.1h4v4.05h2v1.5h-2v4.05h-4v2.1h-6v-2.1h-4v-4.05h-2v-1.5h2v-4.05h4zM647.5 259.7h6v2.1h4v4.05h2v1.5h-2v4.05h-4v2.1h-6v-2.1h-4v-4.05h-2v-1.5h2v-4.05h4zM651.2 260.7h6v2.1h4v4.05h2v1.5h-2v4.05h-4v2.1h-6v-2.1h-4v-4.05h-2v-1.5h2v-4.05h4zM654.8 261.6h6v2.1h4v4.05h2v1.5h-2v4.05h-4v2.1h-6v-2.1h-4v-4.05h-2v-1.5h2v-4.05h4zM658.4 262.7h6v2.1h4v4.05h2v1.5h-2v4.05h-4v2.1h-6v-2.1h-4v-4.05h-2v-1.5h2v-4.05h4zM662.0 263.7h6v2.1h4v4.05h2v1.5h-2v4.05h-4v2.1h-6v-2.1h-4v-4.05h-2v-1.5h2v-4.05h4zM665.7 264.7h6v2.1h4v4.05h2v1.5h-2v4.05h-4v2.1h-6v-2.1h-4v-4.05h-2v-1.5h2v-4.05h4zM669.3 265.7h6v2.1h4v4.05h2v1.5h-2v4.05h-4v2.1h-6v-2.1h-4v-4.05h-2v-1.5h2v-4.05h4zM672.9 266.8h6v2.1h4v4.05h2v1.5h-2v4.05h-4v2.1h-6v-2.1h-4v-4.05h-2v-1.5h2v-4.05h4zM676.5 267.9h6v2.1h4v4.05h2v1.5h-2v4.05h-4v2.1h-6v-2.1h-4v-4.05h-2v-1.5h2v-4.05h4zM680.1 268.9h6v2.1h4v4.05h2v1.5h-2v4.05h-4v2.1h-6v-2.1h-4v-4.05h-2v-1.5h2v-4.05h4zM683.8 270.0h6v2.1h4v4.05h2v1.5h-2v4.05h-4v2.1h-6v-2.1h-4v-4.05h-2v-1.5h2v-4.05h4zM687.4 271.1h6v2.1h4v4.05h2v1.5h-2v4.05h-4v2.1h-6v-2.1h-4v-4.05h-2v-1.5h2v-4.05h4zM691.0 272.2h6v2.1h4v4.05h2v1.5h-2v4.05h-4v2.1h-6v-2.1h-4v-4.05h-2v-1.5h2v-4.05h4zM694.6 273.2h6v2.1h4v4.05h2v1.5h-2v4.05h-4v2.1h-6v-2.1h-4v-4.05h-2v-1.5h2v-4.05h4zM698.2 274.3h6v2.1h4v4.05h2v1.5h-2v4.05h-4v2.1h-6v-2.1h-4v-4.05h-2v-1.5h2v-4.05h4zM701.8 275.4h6v2.1h4v4.05h2v1.5h-2v4.05h-4v2.1h-6v-2.1h-4v-4.05h-2v-1.5h2v-4.05h4zM705.5 276.5h6v2.1h4v4.05h2v1.5h-2v4.05h-4v2.1h-6v-2.1h-4v-4.05h-2v-1.5h2v-4.05h4zM709.1 277.6h6v2.1h4v4.05h2v1.5h-2v4.05h-4v2.1h-6v-2.1h-4v-4.05h-2v-1.5h2v-4.05h4zM712.8 278.8h6v2.1h4v4.05h2v1.5h-2v4.05h-4v2.1h-6v-2.1h-4v-4.05h-2v-1.5h2v-4.05h4zM716.5 279.9h6v2.1h4v4.05h2v1.5h-2v4.05h-4v2.1h-6v-2.1h-4v-4.05h-2v-1.5h2v-4.05h4zM720.2 281.0h6v2.1h4v4.05h2v1.5h-2v4.05h-4v2.1h-6v-2.1h-4v-4.05h-2v-1.5h2v-4.05h4zM723.9 282.1h6v2.1h4v4.05h2v1.5h-2v4.05h-4v2.1h-6v-2.1h-4v-4.05h-2v-1.5h2v-4.05h4zM727.6 283.3h6v2.1h4v4.05h2v1.5h-2v4.05h-4v2.1h-6v-2.1h-4v-4.05h-2v-1.5h2v-4.05h4zM731.1 284.4h6v2.1h4v4.05h2v1.5h-2v4.05h-4v2.1h-6v-2.1h-4v-4.05h-2v-1.5h2v-4.05h4zM734.6 285.5h6v2.1h4v4.05h2v1.5h-2v4.05h-4v2.1h-6v-2.1h-4v-4.05h-2v-1.5h2v-4.05h4zM738.1 286.7h6v2.1h4v4.05h2v1.5h-2v4.05h-4v2.1h-6v-2.1h-4v-4.05h-2v-1.5h2v-4.05h4zM741.4 287.8h6v2.1h4v4.05h2v1.5h-2v4.05h-4v2.1h-6v-2.1h-4v-4.05h-2v-1.5h2v-4.05h4zM744.6 288.9h6v2.1h4v4.05h2v1.5h-2v4.05h-4v2.1h-6v-2.1h-4v-4.05h-2v-1.5h2v-4.05h4zM747.7 290.0h6v2.1h4v4.05h2v1.5h-2v4.05h-4v2.1h-6v-2.1h-4v-4.05h-2v-1.5h2v-4.05h4zM750.7 291.1h6v2.1h4v4.05h2v1.5h-2v4.05h-4v2.1h-6v-2.1h-4v-4.05h-2v-1.5h2v-4.05h4zM753.5 292.2h6v2.1h4v4.05h2v1.5h-2v4.05h-4v2.1h-6v-2.1h-4v-4.05h-2v-1.5h2v-4.05h4zM756.4 293.2h6v2.1h4v4.05h2v1.5h-2v4.05h-4v2.1h-6v-2.1h-4v-4.05h-2v-1.5h2v-4.05h4zM759.1 294.3h6v2.1h4v4.05h2v1.5h-2v4.05h-4v2.1h-6v-2.1h-4v-4.05h-2v-1.5h2v-4.05h4zM761.8 295.4h6v2.1h4v4.05h2v1.5h-2v4.05h-4v2.1h-6v-2.1h-4v-4.05h-2v-1.5h2v-4.05h4zM764.6 296.5h6v2.1h4v4.05h2v1.5h-2v4.05h-4v2.1h-6v-2.1h-4v-4.05h-2v-1.5h2v-4.05h4zM767.3 297.6h6v2.1h4v4.05h2v1.5h-2v4.05h-4v2.1h-6v-2.1h-4v-4.05h-2v-1.5h2v-4.05h4zM770.0 298.7h6v2.1h4v4.05h2v1.5h-2v4.05h-4v2.1h-6v-2.1h-4v-4.05h-2v-1.5h2v-4.05h4zM772.8 299.8h6v2.1h4v4.05h2v1.5h-2v4.05h-4v2.1h-6v-2.1h-4v-4.05h-2v-1.5h2v-4.05h4zM775.6 300.9h6v2.1h4v4.05h2v1.5h-2v4.05h-4v2.1h-6v-2.1h-4v-4.05h-2v-1.5h2v-4.05h4zM778.4 302.0h6v2.1h4v4.05h2v1.5h-2v4.05h-4v2.1h-6v-2.1h-4v-4.05h-2v-1.5h2v-4.05h4zM781.3 303.1h6v2.1h4v4.05h2v1.5h-2v4.05h-4v2.1h-6v-2.1h-4v-4.05h-2v-1.5h2v-4.05h4zM784.3 304.2h6v2.1h4v4.05h2v1.5h-2v4.05h-4v2.1h-6v-2.1h-4v-4.05h-2v-1.5h2v-4.05h4zM787.2 305.4h6v2.1h4v4.05h2v1.5h-2v4.05h-4v2.1h-6v-2.1h-4v-4.05h-2v-1.5h2v-4.05h4zM790.1 306.5h6v2.1h4v4.05h2v1.5h-2v4.05h-4v2.1h-6v-2.1h-4v-4.05h-2v-1.5h2v-4.05h4zM793.1 307.6h6v2.1h4v4.05h2v1.5h-2v4.05h-4v2.1h-6v-2.1h-4v-4.05h-2v-1.5h2v-4.05h4zM796.0 308.7h6v2.1h4v4.05h2v1.5h-2v4.05h-4v2.1h-6v-2.1h-4v-4.05h-2v-1.5h2v-4.05h4zM798.9 309.9h6v2.1h4v4.05h2v1.5h-2v4.05h-4v2.1h-6v-2.1h-4v-4.05h-2v-1.5h2v-4.05h4zM801.9 311.0h6v2.1h4v4.05h2v1.5h-2v4.05h-4v2.1h-6v-2.1h-4v-4.05h-2v-1.5h2v-4.05h4zM804.8 312.2h6v2.1h4v4.05h2v1.5h-2v4.05h-4v2.1h-6v-2.1h-4v-4.05h-2v-1.5h2v-4.05h4zM807.8 313.4h6v2.1h4v4.05h2v1.5h-2v4.05h-4v2.1h-6v-2.1h-4v-4.05h-2v-1.5h2v-4.05h4zM810.7 314.6h6v2.1h4v4.05h2v1.5h-2v4.05h-4v2.1h-6v-2.1h-4v-4.05h-2v-1.5h2v-4.05h4zM813.7 315.8h6v2.1h4v4.05h2v1.5h-2v4.05h-4v2.1h-6v-2.1h-4v-4.05h-2v-1.5h2v-4.05h4zM816.6 317.0h6v2.1h4v4.05h2v1.5h-2v4.05h-4v2.1h-6v-2.1h-4v-4.05h-2v-1.5h2v-4.05h4zM819.5 318.3h6v2.1h4v4.05h2v1.5h-2v4.05h-4v2.1h-6v-2.1h-4v-4.05h-2v-1.5h2v-4.05h4zM822.5 319.5h6v2.1h4v4.05h2v1.5h-2v4.05h-4v2.1h-6v-2.1h-4v-4.05h-2v-1.5h2v-4.05h4zM825.4 320.8h6v2.1h4v4.05h2v1.5h-2v4.05h-4v2.1h-6v-2.1h-4v-4.05h-2v-1.5h2v-4.05h4zM828.3 322.1h6v2.1h4v4.05h2v1.5h-2v4.05h-4v2.1h-6v-2.1h-4v-4.05h-2v-1.5h2v-4.05h4zM831.3 323.4h6v2.1h4v4.05h2v1.5h-2v4.05h-4v2.1h-6v-2.1h-4v-4.05h-2v-1.5h2v-4.05h4zM834.2 324.7h6v2.1h4v4.05h2v1.5h-2v4.05h-4v2.1h-6v-2.1h-4v-4.05h-2v-1.5h2v-4.05h4zM837.1 326.1h6v2.1h4v4.05h2v1.5h-2v4.05h-4v2.1h-6v-2.1h-4v-4.05h-2v-1.5h2v-4.05h4zM840.1 327.4h6v2.1h4v4.05h2v1.5h-2v4.05h-4v2.1h-6v-2.1h-4v-4.05h-2v-1.5h2v-4.05h4zM843.0 328.7h6v2.1h4v4.05h2v1.5h-2v4.05h-4v2.1h-6v-2.1h-4v-4.05h-2v-1.5h2v-4.05h4zM845.9 330.0h6v2.1h4v4.05h2v1.5h-2v4.05h-4v2.1h-6v-2.1h-4v-4.05h-2v-1.5h2v-4.05h4zM848.9 331.4h6v2.1h4v4.05h2v1.5h-2v4.05h-4v2.1h-6v-2.1h-4v-4.05h-2v-1.5h2v-4.05h4zM851.8 332.7h6v2.1h4v4.05h2v1.5h-2v4.05h-4v2.1h-6v-2.1h-4v-4.05h-2v-1.5h2v-4.05h4zM854.7 334.1h6v2.1h4v4.05h2v1.5h-2v4.05h-4v2.1h-6v-2.1h-4v-4.05h-2v-1.5h2v-4.05h4zM857.7 335.4h6v2.1h4v4.05h2v1.5h-2v4.05h-4v2.1h-6v-2.1h-4v-4.05h-2v-1.5h2v-4.05h4zM860.6 336.8h6v2.1h4v4.05h2v1.5h-2v4.05h-4v2.1h-6v-2.1h-4v-4.05h-2v-1.5h2v-4.05h4zM863.5 338.2h6v2.1h4v4.05h2v1.5h-2v4.05h-4v2.1h-6v-2.1h-4v-4.05h-2v-1.5h2v-4.05h4zM866.5 339.5h6v2.1h4v4.05h2v1.5h-2v4.05h-4v2.1h-6v-2.1h-4v-4.05h-2v-1.5h2v-4.05h4zM869.4 340.9h6v2.1h4v4.05h2v1.5h-2v4.05h-4v2.1h-6v-2.1h-4v-4.05h-2v-1.5h2v-4.05h4zM872.3 342.3h6v2.1h4v4.05h2v1.5h-2v4.05h-4v2.1h-6v-2.1h-4v-4.05h-2v-1.5h2v-4.05h4zM875.3 343.7h6v2.1h4v4.05h2v1.5h-2v4.05h-4v2.1h-6v-2.1h-4v-4.05h-2v-1.5h2v-4.05h4zM878.2 345.1h6v2.1h4v4.05h2v1.5h-2v4.05h-4v2.1h-6v-2.1h-4v-4.05h-2v-1.5h2v-4.05h4zM881.1 346.4h6v2.1h4v4.05h2v1.5h-2v4.05h-4v2.1h-6v-2.1h-4v-4.05h-2v-1.5h2v-4.05h4zM884.1 347.8h6v2.1h4v4.05h2v1.5h-2v4.05h-4v2.1h-6v-2.1h-4v-4.05h-2v-1.5h2v-4.05h4zM887.0 349.2h6v2.1h4v4.05h2v1.5h-2v4.05h-4v2.1h-6v-2.1h-4v-4.05h-2v-1.5h2v-4.05h4zM889.9 350.5h6v2.1h4v4.05h2v1.5h-2v4.05h-4v2.1h-6v-2.1h-4v-4.05h-2v-1.5h2v-4.05h4zM892.9 351.9h6v2.1h4v4.05h2v1.5h-2v4.05h-4v2.1h-6v-2.1h-4v-4.05h-2v-1.5h2v-4.05h4zM895.8 353.2h6v2.1h4v4.05h2v1.5h-2v4.05h-4v2.1h-6v-2.1h-4v-4.05h-2v-1.5h2v-4.05h4zM898.7 354.6h6v2.1h4v4.05h2v1.5h-2v4.05h-4v2.1h-6v-2.1h-4v-4.05h-2v-1.5h2v-4.05h4zM901.7 355.9h6v2.1h4v4.05h2v1.5h-2v4.05h-4v2.1h-6v-2.1h-4v-4.05h-2v-1.5h2v-4.05h4zM904.6 357.3h6v2.1h4v4.05h2v1.5h-2v4.05h-4v2.1h-6v-2.1h-4v-4.05h-2v-1.5h2v-4.05h4zM907.5 358.7h6v2.1h4v4.05h2v1.5h-2v4.05h-4v2.1h-6v-2.1h-4v-4.05h-2v-1.5h2v-4.05h4zM910.5 360.0h6v2.1h4v4.05h2v1.5h-2v4.05h-4v2.1h-6v-2.1h-4v-4.05h-2v-1.5h2v-4.05h4zM913.4 361.4h6v2.1h4v4.05h2v1.5h-2v4.05h-4v2.1h-6v-2.1h-4v-4.05h-2v-1.5h2v-4.05h4zM916.3 362.8h6v2.1h4v4.05h2v1.5h-2v4.05h-4v2.1h-6v-2.1h-4v-4.05h-2v-1.5h2v-4.05h4zM919.3 364.2h6v2.1h4v4.05h2v1.5h-2v4.05h-4v2.1h-6v-2.1h-4v-4.05h-2v-1.5h2v-4.05h4zM922.2 365.6h6v2.1h4v4.05h2v1.5h-2v4.05h-4v2.1h-6v-2.1h-4v-4.05h-2v-1.5h2v-4.05h4zM925.1 367.0h6v2.1h4v4.05h2v1.5h-2v4.05h-4v2.1h-6v-2.1h-4v-4.05h-2v-1.5h2v-4.05h4zM928.1 368.4h6v2.1h4v4.05h2v1.5h-2v4.05h-4v2.1h-6v-2.1h-4v-4.05h-2v-1.5h2v-4.05h4zM931.0 369.8h6v2.1h4v4.05h2v1.5h-2v4.05h-4v2.1h-6v-2.1h-4v-4.05h-2v-1.5h2v-4.05h4zM933.9 371.3h6v2.1h4v4.05h2v1.5h-2v4.05h-4v2.1h-6v-2.1h-4v-4.05h-2v-1.5h2v-4.05h4zM936.9 372.7h6v2.1h4v4.05h2v1.5h-2v4.05h-4v2.1h-6v-2.1h-4v-4.05h-2v-1.5h2v-4.05h4zM939.8 374.1h6v2.1h4v4.05h2v1.5h-2v4.05h-4v2.1h-6v-2.1h-4v-4.05h-2v-1.5h2v-4.05h4zM942.7 375.6h6v2.1h4v4.05h2v1.5h-2v4.05h-4v2.1h-6v-2.1h-4v-4.05h-2v-1.5h2v-4.05h4zM945.7 377.1h6v2.1h4v4.05h2v1.5h-2v4.05h-4v2.1h-6v-2.1h-4v-4.05h-2v-1.5h2v-4.05h4zM948.6 378.5h6v2.1h4v4.05h2v1.5h-2v4.05h-4v2.1h-6v-2.1h-4v-4.05h-2v-1.5h2v-4.05h4zM951.5 380.0h6v2.1h4v4.05h2v1.5h-2v4.05h-4v2.1h-6v-2.1h-4v-4.05h-2v-1.5h2v-4.05h4zM954.5 381.5h6v2.1h4v4.05h2v1.5h-2v4.05h-4v2.1h-6v-2.1h-4v-4.05h-2v-1.5h2v-4.05h4zM957.4 383.0h6v2.1h4v4.05h2v1.5h-2v4.05h-4v2.1h-6v-2.1h-4v-4.05h-2v-1.5h2v-4.05h4zM960.4 384.6h6v2.1h4v4.05h2v1.5h-2v4.05h-4v2.1h-6v-2.1h-4v-4.05h-2v-1.5h2v-4.05h4zM963.3 386.1h6v2.1h4v4.05h2v1.5h-2v4.05h-4v2.1h-6v-2.1h-4v-4.05h-2v-1.5h2v-4.05h4zM966.3 387.7h6v2.1h4v4.05h2v1.5h-2v4.05h-4v2.1h-6v-2.1h-4v-4.05h-2v-1.5h2v-4.05h4zM969.3 389.2h6v2.1h4v4.05h2v1.5h-2v4.05h-4v2.1h-6v-2.1h-4v-4.05h-2v-1.5h2v-4.05h4zM972.2 390.8h6v2.1h4v4.05h2v1.5h-2v4.05h-4v2.1h-6v-2.1h-4v-4.05h-2v-1.5h2v-4.05h4zM975.2 392.4h6v2.1h4v4.05h2v1.5h-2v4.05h-4v2.1h-6v-2.1h-4v-4.05h-2v-1.5h2v-4.05h4zM978.1 393.9h6v2.1h4v4.05h2v1.5h-2v4.05h-4v2.1h-6v-2.1h-4v-4.05h-2v-1.5h2v-4.05h4zM981.1 395.5h6v2.1h4v4.05h2v1.5h-2v4.05h-4v2.1h-6v-2.1h-4v-4.05h-2v-1.5h2v-4.05h4zM984.0 397.1h6v2.1h4v4.05h2v1.5h-2v4.05h-4v2.1h-6v-2.1h-4v-4.05h-2v-1.5h2v-4.05h4zM986.9 398.6h6v2.1h4v4.05h2v1.5h-2v4.05h-4v2.1h-6v-2.1h-4v-4.05h-2v-1.5h2v-4.05h4zM989.7 400.1h6v2.1h4v4.05h2v1.5h-2v4.05h-4v2.1h-6v-2.1h-4v-4.05h-2v-1.5h2v-4.05h4zM992.6 401.7h6v2.1h4v4.05h2v1.5h-2v4.05h-4v2.1h-6v-2.1h-4v-4.05h-2v-1.5h2v-4.05h4zM995.6 403.2h6v2.1h4v4.05h2v1.5h-2v4.05h-4v2.1h-6v-2.1h-4v-4.05h-2v-1.5h2v-4.05h4zM998.5 404.7h6v2.1h4v4.05h2v1.5h-2v4.05h-4v2.1h-6v-2.1h-4v-4.05h-2v-1.5h2v-4.05h4zM1001.4 406.2h6v2.1h4v4.05h2v1.5h-2v4.05h-4v2.1h-6v-2.1h-4v-4.05h-2v-1.5h2v-4.05h4zM1004.3 407.8h6v2.1h4v4.05h2v1.5h-2v4.05h-4v2.1h-6v-2.1h-4v-4.05h-2v-1.5h2v-4.05h4zM1007.2 409.3h6v2.1h4v4.05h2v1.5h-2v4.05h-4v2.1h-6v-2.1h-4v-4.05h-2v-1.5h2v-4.05h4zM1010.0 410.8h6v2.1h4v4.05h2v1.5h-2v4.05h-4v2.1h-6v-2.1h-4v-4.05h-2v-1.5h2v-4.05h4zM1012.8 412.3h6v2.1h4v4.05h2v1.5h-2v4.05h-4v2.1h-6v-2.1h-4v-4.05h-2v-1.5h2v-4.05h4zM1015.5 413.8h6v2.1h4v4.05h2v1.5h-2v4.05h-4v2.1h-6v-2.1h-4v-4.05h-2v-1.5h2v-4.05h4zM1018.1 415.2h6v2.1h4v4.05h2v1.5h-2v4.05h-4v2.1h-6v-2.1h-4v-4.05h-2v-1.5h2v-4.05h4zM1020.7 416.7h6v2.1h4v4.05h2v1.5h-2v4.05h-4v2.1h-6v-2.1h-4v-4.05h-2v-1.5h2v-4.05h4zM1023.1 418.1h6v2.1h4v4.05h2v1.5h-2v4.05h-4v2.1h-6v-2.1h-4v-4.05h-2v-1.5h2v-4.05h4zM1025.4 419.6h6v2.1h4v4.05h2v1.5h-2v4.05h-4v2.1h-6v-2.1h-4v-4.05h-2v-1.5h2v-4.05h4zM1027.7 421.0h6v2.1h4v4.05h2v1.5h-2v4.05h-4v2.1h-6v-2.1h-4v-4.05h-2v-1.5h2v-4.05h4zM1029.8 422.4h6v2.1h4v4.05h2v1.5h-2v4.05h-4v2.1h-6v-2.1h-4v-4.05h-2v-1.5h2v-4.05h4zM1031.9 423.8h6v2.1h4v4.05h2v1.5h-2v4.05h-4v2.1h-6v-2.1h-4v-4.05h-2v-1.5h2v-4.05h4zM1033.9 425.2h6v2.1h4v4.05h2v1.5h-2v4.05h-4v2.1h-6v-2.1h-4v-4.05h-2v-1.5h2v-4.05h4zM1035.9 426.6h6v2.1h4v4.05h2v1.5h-2v4.05h-4v2.1h-6v-2.1h-4v-4.05h-2v-1.5h2v-4.05h4zM1037.9 427.9h6v2.1h4v4.05h2v1.5h-2v4.05h-4v2.1h-6v-2.1h-4v-4.05h-2v-1.5h2v-4.05h4zM1039.9 429.3h6v2.1h4v4.05h2v1.5h-2v4.05h-4v2.1h-6v-2.1h-4v-4.05h-2v-1.5h2v-4.05h4zM1041.8 430.7h6v2.1h4v4.05h2v1.5h-2v4.05h-4v2.1h-6v-2.1h-4v-4.05h-2v-1.5h2v-4.05h4zM1043.8 432.1h6v2.1h4v4.05h2v1.5h-2v4.05h-4v2.1h-6v-2.1h-4v-4.05h-2v-1.5h2v-4.05h4zM1045.9 433.4h6v2.1h4v4.05h2v1.5h-2v4.05h-4v2.1h-6v-2.1h-4v-4.05h-2v-1.5h2v-4.05h4zM1047.9 434.8h6v2.1h4v4.05h2v1.5h-2v4.05h-4v2.1h-6v-2.1h-4v-4.05h-2v-1.5h2v-4.05h4zM1050.0 436.2h6v2.1h4v4.05h2v1.5h-2v4.05h-4v2.1h-6v-2.1h-4v-4.05h-2v-1.5h2v-4.05h4zM1052.1 437.6h6v2.1h4v4.05h2v1.5h-2v4.05h-4v2.1h-6v-2.1h-4v-4.05h-2v-1.5h2v-4.05h4zM1054.2 438.9h6v2.1h4v4.05h2v1.5h-2v4.05h-4v2.1h-6v-2.1h-4v-4.05h-2v-1.5h2v-4.05h4zM1056.2 440.3h6v2.1h4v4.05h2v1.5h-2v4.05h-4v2.1h-6v-2.1h-4v-4.05h-2v-1.5h2v-4.05h4zM1058.3 441.7h6v2.1h4v4.05h2v1.5h-2v4.05h-4v2.1h-6v-2.1h-4v-4.05h-2v-1.5h2v-4.05h4zM1060.4 443.1h6v2.1h4v4.05h2v1.5h-2v4.05h-4v2.1h-6v-2.1h-4v-4.05h-2v-1.5h2v-4.05h4zM1062.5 444.4h6v2.1h4v4.05h2v1.5h-2v4.05h-4v2.1h-6v-2.1h-4v-4.05h-2v-1.5h2v-4.05h4zM1064.5 445.8h6v2.1h4v4.05h2v1.5h-2v4.05h-4v2.1h-6v-2.1h-4v-4.05h-2v-1.5h2v-4.05h4zM1066.6 447.2h6v2.1h4v4.05h2v1.5h-2v4.05h-4v2.1h-6v-2.1h-4v-4.05h-2v-1.5h2v-4.05h4zM1068.7 448.6h6v2.1h4v4.05h2v1.5h-2v4.05h-4v2.1h-6v-2.1h-4v-4.05h-2v-1.5h2v-4.05h4zM1070.8 450.0h6v2.1h4v4.05h2v1.5h-2v4.05h-4v2.1h-6v-2.1h-4v-4.05h-2v-1.5h2v-4.05h4zM1072.8 451.4h6v2.1h4v4.05h2v1.5h-2v4.05h-4v2.1h-6v-2.1h-4v-4.05h-2v-1.5h2v-4.05h4zM1074.9 452.9h6v2.1h4v4.05h2v1.5h-2v4.05h-4v2.1h-6v-2.1h-4v-4.05h-2v-1.5h2v-4.05h4zM1077.0 454.3h6v2.1h4v4.05h2v1.5h-2v4.05h-4v2.1h-6v-2.1h-4v-4.05h-2v-1.5h2v-4.05h4zM1079.1 455.7h6v2.1h4v4.05h2v1.5h-2v4.05h-4v2.1h-6v-2.1h-4v-4.05h-2v-1.5h2v-4.05h4zM1081.2 457.2h6v2.1h4v4.05h2v1.5h-2v4.05h-4v2.1h-6v-2.1h-4v-4.05h-2v-1.5h2v-4.05h4zM1083.3 458.6h6v2.1h4v4.05h2v1.5h-2v4.05h-4v2.1h-6v-2.1h-4v-4.05h-2v-1.5h2v-4.05h4zM1085.3 460.1h6v2.1h4v4.05h2v1.5h-2v4.05h-4v2.1h-6v-2.1h-4v-4.05h-2v-1.5h2v-4.05h4zM1087.4 461.5h6v2.1h4v4.05h2v1.5h-2v4.05h-4v2.1h-6v-2.1h-4v-4.05h-2v-1.5h2v-4.05h4zM1089.5 463.0h6v2.1h4v4.05h2v1.5h-2v4.05h-4v2.1h-6v-2.1h-4v-4.05h-2v-1.5h2v-4.05h4zM1091.6 464.5h6v2.1h4v4.05h2v1.5h-2v4.05h-4v2.1h-6v-2.1h-4v-4.05h-2v-1.5h2v-4.05h4zM1093.7 466.0h6v2.1h4v4.05h2v1.5h-2v4.05h-4v2.1h-6v-2.1h-4v-4.05h-2v-1.5h2v-4.05h4zM1095.8 467.5h6v2.1h4v4.05h2v1.5h-2v4.05h-4v2.1h-6v-2.1h-4v-4.05h-2v-1.5h2v-4.05h4zM1097.8 468.9h6v2.1h4v4.05h2v1.5h-2v4.05h-4v2.1h-6v-2.1h-4v-4.05h-2v-1.5h2v-4.05h4zM1099.9 470.4h6v2.1h4v4.05h2v1.5h-2v4.05h-4v2.1h-6v-2.1h-4v-4.05h-2v-1.5h2v-4.05h4zM1102.0 472.0h6v2.1h4v4.05h2v1.5h-2v4.05h-4v2.1h-6v-2.1h-4v-4.05h-2v-1.5h2v-4.05h4zM1104.1 473.5h6v2.1h4v4.05h2v1.5h-2v4.05h-4v2.1h-6v-2.1h-4v-4.05h-2v-1.5h2v-4.05h4zM1106.1 475.0h6v2.1h4v4.05h2v1.5h-2v4.05h-4v2.1h-6v-2.1h-4v-4.05h-2v-1.5h2v-4.05h4zM1108.2 476.5h6v2.1h4v4.05h2v1.5h-2v4.05h-4v2.1h-6v-2.1h-4v-4.05h-2v-1.5h2v-4.05h4zM1110.3 478.1h6v2.1h4v4.05h2v1.5h-2v4.05h-4v2.1h-6v-2.1h-4v-4.05h-2v-1.5h2v-4.05h4zM1112.4 479.6h6v2.1h4v4.05h2v1.5h-2v4.05h-4v2.1h-6v-2.1h-4v-4.05h-2v-1.5h2v-4.05h4zM1114.4 481.1h6v2.1h4v4.05h2v1.5h-2v4.05h-4v2.1h-6v-2.1h-4v-4.05h-2v-1.5h2v-4.05h4zM1116.5 482.7h6v2.1h4v4.05h2v1.5h-2v4.05h-4v2.1h-6v-2.1h-4v-4.05h-2v-1.5h2v-4.05h4zM1118.6 484.2h6v2.1h4v4.05h2v1.5h-2v4.05h-4v2.1h-6v-2.1h-4v-4.05h-2v-1.5h2v-4.05h4zM1120.7 485.8h6v2.1h4v4.05h2v1.5h-2v4.05h-4v2.1h-6v-2.1h-4v-4.05h-2v-1.5h2v-4.05h4zM1122.7 487.4h6v2.1h4v4.05h2v1.5h-2v4.05h-4v2.1h-6v-2.1h-4v-4.05h-2v-1.5h2v-4.05h4zM1124.8 489.0h6v2.1h4v4.05h2v1.5h-2v4.05h-4v2.1h-6v-2.1h-4v-4.05h-2v-1.5h2v-4.05h4zM1126.8 490.5h6v2.1h4v4.05h2v1.5h-2v4.05h-4v2.1h-6v-2.1h-4v-4.05h-2v-1.5h2v-4.05h4zM1128.8 492.1h6v2.1h4v4.05h2v1.5h-2v4.05h-4v2.1h-6v-2.1h-4v-4.05h-2v-1.5h2v-4.05h4zM1130.8 493.7h6v2.1h4v4.05h2v1.5h-2v4.05h-4v2.1h-6v-2.1h-4v-4.05h-2v-1.5h2v-4.05h4zM1132.9 495.3h6v2.1h4v4.05h2v1.5h-2v4.05h-4v2.1h-6v-2.1h-4v-4.05h-2v-1.5h2v-4.05h4zM1134.9 496.9h6v2.1h4v4.05h2v1.5h-2v4.05h-4v2.1h-6v-2.1h-4v-4.05h-2v-1.5h2v-4.05h4zM1136.9 498.6h6v2.1h4v4.05h2v1.5h-2v4.05h-4v2.1h-6v-2.1h-4v-4.05h-2v-1.5h2v-4.05h4zM1139.0 500.2h6v2.1h4v4.05h2v1.5h-2v4.05h-4v2.1h-6v-2.1h-4v-4.05h-2v-1.5h2v-4.05h4zM1141.1 501.8h6v2.1h4v4.05h2v1.5h-2v4.05h-4v2.1h-6v-2.1h-4v-4.05h-2v-1.5h2v-4.05h4zM1143.3 503.5h6v2.1h4v4.05h2v1.5h-2v4.05h-4v2.1h-6v-2.1h-4v-4.05h-2v-1.5h2v-4.05h4zM1145.6 505.1h6v2.1h4v4.05h2v1.5h-2v4.05h-4v2.1h-6v-2.1h-4v-4.05h-2v-1.5h2v-4.05h4zM1147.9 506.8h6v2.1h4v4.05h2v1.5h-2v4.05h-4v2.1h-6v-2.1h-4v-4.05h-2v-1.5h2v-4.05h4zM1150.3 508.5h6v2.1h4v4.05h2v1.5h-2v4.05h-4v2.1h-6v-2.1h-4v-4.05h-2v-1.5h2v-4.05h4zM1152.7 510.2h6v2.1h4v4.05h2v1.5h-2v4.05h-4v2.1h-6v-2.1h-4v-4.05h-2v-1.5h2v-4.05h4zM1155.3 511.9h6v2.1h4v4.05h2v1.5h-2v4.05h-4v2.1h-6v-2.1h-4v-4.05h-2v-1.5h2v-4.05h4zM1157.8 513.7h6v2.1h4v4.05h2v1.5h-2v4.05h-4v2.1h-6v-2.1h-4v-4.05h-2v-1.5h2v-4.05h4zM1160.5 515.4h6v2.1h4v4.05h2v1.5h-2v4.05h-4v2.1h-6v-2.1h-4v-4.05h-2v-1.5h2v-4.05h4zM1163.1 517.2h6v2.1h4v4.05h2v1.5h-2v4.05h-4v2.1h-6v-2.1h-4v-4.05h-2v-1.5h2v-4.05h4zM1165.7 518.9h6v2.1h4v4.05h2v1.5h-2v4.05h-4v2.1h-6v-2.1h-4v-4.05h-2v-1.5h2v-4.05h4zM1168.3 520.7h6v2.1h4v4.05h2v1.5h-2v4.05h-4v2.1h-6v-2.1h-4v-4.05h-2v-1.5h2v-4.05h4zM1170.9 522.4h6v2.1h4v4.05h2v1.5h-2v4.05h-4v2.1h-6v-2.1h-4v-4.05h-2v-1.5h2v-4.05h4zM1173.4 524.1h6v2.1h4v4.05h2v1.5h-2v4.05h-4v2.1h-6v-2.1h-4v-4.05h-2v-1.5h2v-4.05h4zM1175.8 525.8h6v2.1h4v4.05h2v1.5h-2v4.05h-4v2.1h-6v-2.1h-4v-4.05h-2v-1.5h2v-4.05h4zM1178.2 527.4h6v2.1h4v4.05h2v1.5h-2v4.05h-4v2.1h-6v-2.1h-4v-4.05h-2v-1.5h2v-4.05h4zM1180.5 529.0h6v2.1h4v4.05h2v1.5h-2v4.05h-4v2.1h-6v-2.1h-4v-4.05h-2v-1.5h2v-4.05h4zM1182.8 530.6h6v2.1h4v4.05h2v1.5h-2v4.05h-4v2.1h-6v-2.1h-4v-4.05h-2v-1.5h2v-4.05h4zM1185.0 532.2h6v2.1h4v4.05h2v1.5h-2v4.05h-4v2.1h-6v-2.1h-4v-4.05h-2v-1.5h2v-4.05h4zM1187.2 533.7h6v2.1h4v4.05h2v1.5h-2v4.05h-4v2.1h-6v-2.1h-4v-4.05h-2v-1.5h2v-4.05h4zM1189.4 535.2h6v2.1h4v4.05h2v1.5h-2v4.05h-4v2.1h-6v-2.1h-4v-4.05h-2v-1.5h2v-4.05h4zM1191.5 536.7h6v2.1h4v4.05h2v1.5h-2v4.05h-4v2.1h-6v-2.1h-4v-4.05h-2v-1.5h2v-4.05h4zM1193.7 538.3h6v2.1h4v4.05h2v1.5h-2v4.05h-4v2.1h-6v-2.1h-4v-4.05h-2v-1.5h2v-4.05h4zM1195.8 539.9h6v2.1h4v4.05h2v1.5h-2v4.05h-4v2.1h-6v-2.1h-4v-4.05h-2v-1.5h2v-4.05h4zM1198.0 541.5h6v2.1h4v4.05h2v1.5h-2v4.05h-4v2.1h-6v-2.1h-4v-4.05h-2v-1.5h2v-4.05h4zM1200.1 543.1h6v2.1h4v4.05h2v1.5h-2v4.05h-4v2.1h-6v-2.1h-4v-4.05h-2v-1.5h2v-4.05h4zM1202.3 544.8h6v2.1h4v4.05h2v1.5h-2v4.05h-4v2.1h-6v-2.1h-4v-4.05h-2v-1.5h2v-4.05h4zM1204.5 546.6h6v2.1h4v4.05h2v1.5h-2v4.05h-4v2.1h-6v-2.1h-4v-4.05h-2v-1.5h2v-4.05h4zM1206.7 548.5h6v2.1h4v4.05h2v1.5h-2v4.05h-4v2.1h-6v-2.1h-4v-4.05h-2v-1.5h2v-4.05h4zM1209.0 550.4h6v2.1h4v4.05h2v1.5h-2v4.05h-4v2.1h-6v-2.1h-4v-4.05h-2v-1.5h2v-4.05h4zM1211.3 552.4h6v2.1h4v4.05h2v1.5h-2v4.05h-4v2.1h-6v-2.1h-4v-4.05h-2v-1.5h2v-4.05h4zM1213.6 554.5h6v2.1h4v4.05h2v1.5h-2v4.05h-4v2.1h-6v-2.1h-4v-4.05h-2v-1.5h2v-4.05h4zM1215.9 556.6h6v2.1h4v4.05h2v1.5h-2v4.05h-4v2.1h-6v-2.1h-4v-4.05h-2v-1.5h2v-4.05h4zM1218.1 558.6h6v2.1h4v4.05h2v1.5h-2v4.05h-4v2.1h-6v-2.1h-4v-4.05h-2v-1.5h2v-4.05h4zM1220.4 560.7h6v2.1h4v4.05h2v1.5h-2v4.05h-4v2.1h-6v-2.1h-4v-4.05h-2v-1.5h2v-4.05h4zM1222.6 562.7h6v2.1h4v4.05h2v1.5h-2v4.05h-4v2.1h-6v-2.1h-4v-4.05h-2v-1.5h2v-4.05h4zM1224.7 564.7h6v2.1h4v4.05h2v1.5h-2v4.05h-4v2.1h-6v-2.1h-4v-4.05h-2v-1.5h2v-4.05h4zM1226.8 566.6h6v2.1h4v4.05h2v1.5h-2v4.05h-4v2.1h-6v-2.1h-4v-4.05h-2v-1.5h2v-4.05h4zM1228.8 568.4h6v2.1h4v4.05h2v1.5h-2v4.05h-4v2.1h-6v-2.1h-4v-4.05h-2v-1.5h2v-4.05h4zM1230.8 570.0h6v2.1h4v4.05h2v1.5h-2v4.05h-4v2.1h-6v-2.1h-4v-4.05h-2v-1.5h2v-4.05h4zM1232.6 571.6h6v2.1h4v4.05h2v1.5h-2v4.05h-4v2.1h-6v-2.1h-4v-4.05h-2v-1.5h2v-4.05h4zM1234.4 573.0h6v2.1h4v4.05h2v1.5h-2v4.05h-4v2.1h-6v-2.1h-4v-4.05h-2v-1.5h2v-4.05h4zM1236.1 574.4h6v2.1h4v4.05h2v1.5h-2v4.05h-4v2.1h-6v-2.1h-4v-4.05h-2v-1.5h2v-4.05h4zM1237.7 575.7h6v2.1h4v4.05h2v1.5h-2v4.05h-4v2.1h-6v-2.1h-4v-4.05h-2v-1.5h2v-4.05h4zM1239.3 576.9h6v2.1h4v4.05h2v1.5h-2v4.05h-4v2.1h-6v-2.1h-4v-4.05h-2v-1.5h2v-4.05h4zM1240.9 578.2h6v2.1h4v4.05h2v1.5h-2v4.05h-4v2.1h-6v-2.1h-4v-4.05h-2v-1.5h2v-4.05h4zM1242.5 579.4h6v2.1h4v4.05h2v1.5h-2v4.05h-4v2.1h-6v-2.1h-4v-4.05h-2v-1.5h2v-4.05h4zM1244.0 580.7h6v2.1h4v4.05h2v1.5h-2v4.05h-4v2.1h-6v-2.1h-4v-4.05h-2v-1.5h2v-4.05h4zM1245.6 582.0h6v2.1h4v4.05h2v1.5h-2v4.05h-4v2.1h-6v-2.1h-4v-4.05h-2v-1.5h2v-4.05h4zM1247.2 583.4h6v2.1h4v4.05h2v1.5h-2v4.05h-4v2.1h-6v-2.1h-4v-4.05h-2v-1.5h2v-4.05h4zM1248.8 584.9h6v2.1h4v4.05h2v1.5h-2v4.05h-4v2.1h-6v-2.1h-4v-4.05h-2v-1.5h2v-4.05h4zM1250.4 586.5h6v2.1h4v4.05h2v1.5h-2v4.05h-4v2.1h-6v-2.1h-4v-4.05h-2v-1.5h2v-4.05h4zM1252.1 588.2h6v2.1h4v4.05h2v1.5h-2v4.05h-4v2.1h-6v-2.1h-4v-4.05h-2v-1.5h2v-4.05h4zM1253.8 590.0h6v2.1h4v4.05h2v1.5h-2v4.05h-4v2.1h-6v-2.1h-4v-4.05h-2v-1.5h2v-4.05h4zM1255.6 591.8h6v2.1h4v4.05h2v1.5h-2v4.05h-4v2.1h-6v-2.1h-4v-4.05h-2v-1.5h2v-4.05h4zM1257.3 593.6h6v2.1h4v4.05h2v1.5h-2v4.05h-4v2.1h-6v-2.1h-4v-4.05h-2v-1.5h2v-4.05h4zM1259.1 595.5h6v2.1h4v4.05h2v1.5h-2v4.05h-4v2.1h-6v-2.1h-4v-4.05h-2v-1.5h2v-4.05h4zM1260.8 597.4h6v2.1h4v4.05h2v1.5h-2v4.05h-4v2.1h-6v-2.1h-4v-4.05h-2v-1.5h2v-4.05h4zM1262.5 599.3h6v2.1h4v4.05h2v1.5h-2v4.05h-4v2.1h-6v-2.1h-4v-4.05h-2v-1.5h2v-4.05h4zM1264.1 601.2h6v2.1h4v4.05h2v1.5h-2v4.05h-4v2.1h-6v-2.1h-4v-4.05h-2v-1.5h2v-4.05h4zM1265.7 603.1h6v2.1h4v4.05h2v1.5h-2v4.05h-4v2.1h-6v-2.1h-4v-4.05h-2v-1.5h2v-4.05h4zM1267.2 604.9h6v2.1h4v4.05h2v1.5h-2v4.05h-4v2.1h-6v-2.1h-4v-4.05h-2v-1.5h2v-4.05h4zM1268.7 606.7h6v2.1h4v4.05h2v1.5h-2v4.05h-4v2.1h-6v-2.1h-4v-4.05h-2v-1.5h2v-4.05h4zM1270.1 608.3h6v2.1h4v4.05h2v1.5h-2v4.05h-4v2.1h-6v-2.1h-4v-4.05h-2v-1.5h2v-4.05h4zM1271.4 610.0h6v2.1h4v4.05h2v1.5h-2v4.05h-4v2.1h-6v-2.1h-4v-4.05h-2v-1.5h2v-4.05h4zM1272.6 611.6h6v2.1h4v4.05h2v1.5h-2v4.05h-4v2.1h-6v-2.1h-4v-4.05h-2v-1.5h2v-4.05h4zM1274.4 613.9h6v2.1h4v4.05h2v1.5h-2v4.05h-4v2.1h-6v-2.1h-4v-4.05h-2v-1.5h2v-4.05h4zM1276.1 616.2h6v2.1h4v4.05h2v1.5h-2v4.05h-4v2.1h-6v-2.1h-4v-4.05h-2v-1.5h2v-4.05h4zM1277.7 618.4h6v2.1h4v4.05h2v1.5h-2v4.05h-4v2.1h-6v-2.1h-4v-4.05h-2v-1.5h2v-4.05h4zM1279.2 620.7h6v2.1h4v4.05h2v1.5h-2v4.05h-4v2.1h-6v-2.1h-4v-4.05h-2v-1.5h2v-4.05h4zM1280.7 622.9h6v2.1h4v4.05h2v1.5h-2v4.05h-4v2.1h-6v-2.1h-4v-4.05h-2v-1.5h2v-4.05h4zM1282.1 625.2h6v2.1h4v4.05h2v1.5h-2v4.05h-4v2.1h-6v-2.1h-4v-4.05h-2v-1.5h2v-4.05h4zM1283.5 627.6h6v2.1h4v4.05h2v1.5h-2v4.05h-4v2.1h-6v-2.1h-4v-4.05h-2v-1.5h2v-4.05h4zM1284.9 630.0h6v2.1h4v4.05h2v1.5h-2v4.05h-4v2.1h-6v-2.1h-4v-4.05h-2v-1.5h2v-4.05h4zM1286.2 632.5h6v2.1h4v4.05h2v1.5h-2v4.05h-4v2.1h-6v-2.1h-4v-4.05h-2v-1.5h2v-4.05h4zM1287.5 635.0h6v2.1h4v4.05h2v1.5h-2v4.05h-4v2.1h-6v-2.1h-4v-4.05h-2v-1.5h2v-4.05h4zM1288.7 637.5h6v2.1h4v4.05h2v1.5h-2v4.05h-4v2.1h-6v-2.1h-4v-4.05h-2v-1.5h2v-4.05h4zM1289.9 639.9h6v2.1h4v4.05h2v1.5h-2v4.05h-4v2.1h-6v-2.1h-4v-4.05h-2v-1.5h2v-4.05h4zM1291.0 642.3h6v2.1h4v4.05h2v1.5h-2v4.05h-4v2.1h-6v-2.1h-4v-4.05h-2v-1.5h2v-4.05h4zM1292.1 644.4h6v2.1h4v4.05h2v1.5h-2v4.05h-4v2.1h-6v-2.1h-4v-4.05h-2v-1.5h2v-4.05h4zM1293.2 646.4h6v2.1h4v4.05h2v1.5h-2v4.05h-4v2.1h-6v-2.1h-4v-4.05h-2v-1.5h2v-4.05h4zM1294.2 648.3h6v2.1h4v4.05h2v1.5h-2v4.05h-4v2.1h-6v-2.1h-4v-4.05h-2v-1.5h2v-4.05h4zM1295.2 650.1h6v2.1h4v4.05h2v1.5h-2v4.05h-4v2.1h-6v-2.1h-4v-4.05h-2v-1.5h2v-4.05h4zM1296.5 652.3h6v2.1h4v4.05h2v1.5h-2v4.05h-4v2.1h-6v-2.1h-4v-4.05h-2v-1.5h2v-4.05h4zM1297.7 654.4h6v2.1h4v4.05h2v1.5h-2v4.05h-4v2.1h-6v-2.1h-4v-4.05h-2v-1.5h2v-4.05h4zM1298.8 656.4h6v2.1h4v4.05h2v1.5h-2v4.05h-4v2.1h-6v-2.1h-4v-4.05h-2v-1.5h2v-4.05h4zM1299.8 658.3h6v2.1h4v4.05h2v1.5h-2v4.05h-4v2.1h-6v-2.1h-4v-4.05h-2v-1.5h2v-4.05h4zM1300.7 660.2h6v2.1h4v4.05h2v1.5h-2v4.05h-4v2.1h-6v-2.1h-4v-4.05h-2v-1.5h2v-4.05h4zM1301.6 662.2h6v2.1h4v4.05h2v1.5h-2v4.05h-4v2.1h-6v-2.1h-4v-4.05h-2v-1.5h2v-4.05h4zM1302.5 664.5h6v2.1h4v4.05h2v1.5h-2v4.05h-4v2.1h-6v-2.1h-4v-4.05h-2v-1.5h2v-4.05h4zM1303.3 666.4h6v2.1h4v4.05h2v1.5h-2v4.05h-4v2.1h-6v-2.1h-4v-4.05h-2v-1.5h2v-4.05h4zM1304.0 668.1h6v2.1h4v4.05h2v1.5h-2v4.05h-4v2.1h-6v-2.1h-4v-4.05h-2v-1.5h2v-4.05h4z"/><path fill="#000000" d="M1367.0 649.5h6v2.1h4v4.05h2v1.5h-2v4.05h-4v2.1h-6v-2.1h-4v-4.05h-2v-1.5h2v-4.05h4zM1368.0 646.9h6v2.1h4v4.05h2v1.5h-2v4.05h-4v2.1h-6v-2.1h-4v-4.05h-2v-1.5h2v-4.05h4zM1369.0 644.1h6v2.1h4v4.05h2v1.5h-2v4.05h-4v2.1h-6v-2.1h-4v-4.05h-2v-1.5h2v-4.05h4zM1369.7 642.1h6v2.1h4v4.05h2v1.5h-2v4.05h-4v2.1h-6v-2.1h-4v-4.05h-2v-1.5h2v-4.05h4zM1370.5 639.9h6v2.1h4v4.05h2v1.5h-2v4.05h-4v2.1h-6v-2.1h-4v-4.05h-2v-1.5h2v-4.05h4zM1371.3 637.6h6v2.1h4v4.05h2v1.5h-2v4.05h-4v2.1h-6v-2.1h-4v-4.05h-2v-1.5h2v-4.05h4zM1372.2 635.3h6v2.1h4v4.05h2v1.5h-2v4.05h-4v2.1h-6v-2.1h-4v-4.05h-2v-1.5h2v-4.05h4zM1373.0 633.0h6v2.1h4v4.05h2v1.5h-2v4.05h-4v2.1h-6v-2.1h-4v-4.05h-2v-1.5h2v-4.05h4zM1373.9 630.7h6v2.1h4v4.05h2v1.5h-2v4.05h-4v2.1h-6v-2.1h-4v-4.05h-2v-1.5h2v-4.05h4zM1374.7 628.6h6v2.1h4v4.05h2v1.5h-2v4.05h-4v2.1h-6v-2.1h-4v-4.05h-2v-1.5h2v-4.05h4zM1375.4 626.6h6v2.1h4v4.05h2v1.5h-2v4.05h-4v2.1h-6v-2.1h-4v-4.05h-2v-1.5h2v-4.05h4zM1376.5 624.0h6v2.1h4v4.05h2v1.5h-2v4.05h-4v2.1h-6v-2.1h-4v-4.05h-2v-1.5h2v-4.05h4zM1377.5 621.5h6v2.1h4v4.05h2v1.5h-2v4.05h-4v2.1h-6v-2.1h-4v-4.05h-2v-1.5h2v-4.05h4zM1378.4 619.0h6v2.1h4v4.05h2v1.5h-2v4.05h-4v2.1h-6v-2.1h-4v-4.05h-2v-1.5h2v-4.05h4zM1379.3 616.7h6v2.1h4v4.05h2v1.5h-2v4.05h-4v2.1h-6v-2.1h-4v-4.05h-2v-1.5h2v-4.05h4zM1380.3 614.4h6v2.1h4v4.05h2v1.5h-2v4.05h-4v2.1h-6v-2.1h-4v-4.05h-2v-1.5h2v-4.05h4zM1381.2 612.2h6v2.1h4v4.05h2v1.5h-2v4.05h-4v2.1h-6v-2.1h-4v-4.05h-2v-1.5h2v-4.05h4zM1382.2 610.0h6v2.1h4v4.05h2v1.5h-2v4.05h-4v2.1h-6v-2.1h-4v-4.05h-2v-1.5h2v-4.05h4zM1383.2 607.8h6v2.1h4v4.05h2v1.5h-2v4.05h-4v2.1h-6v-2.1h-4v-4.05h-2v-1.5h2v-4.05h4zM1384.2 605.7h6v2.1h4v4.05h2v1.5h-2v4.05h-4v2.1h-6v-2.1h-4v-4.05h-2v-1.5h2v-4.05h4zM1385.2 603.5h6v2.1h4v4.05h2v1.5h-2v4.05h-4v2.1h-6v-2.1h-4v-4.05h-2v-1.5h2v-4.05h4zM1386.2 601.5h6v2.1h4v4.05h2v1.5h-2v4.05h-4v2.1h-6v-2.1h-4v-4.05h-2v-1.5h2v-4.05h4zM1387.3 599.4h6v2.1h4v4.05h2v1.5h-2v4.05h-4v2.1h-6v-2.1h-4v-4.05h-2v-1.5h2v-4.05h4zM1388.4 597.4h6v2.1h4v4.05h2v1.5h-2v4.05h-4v2.1h-6v-2.1h-4v-4.05h-2v-1.5h2v-4.05h4zM1389.5 595.4h6v2.1h4v4.05h2v1.5h-2v4.05h-4v2.1h-6v-2.1h-4v-4.05h-2v-1.5h2v-4.05h4zM1390.6 593.3h6v2.1h4v4.05h2v1.5h-2v4.05h-4v2.1h-6v-2.1h-4v-4.05h-2v-1.5h2v-4.05h4zM1391.8 591.2h6v2.1h4v4.05h2v1.5h-2v4.05h-4v2.1h-6v-2.1h-4v-4.05h-2v-1.5h2v-4.05h4zM1393.0 589.1h6v2.1h4v4.05h2v1.5h-2v4.05h-4v2.1h-6v-2.1h-4v-4.05h-2v-1.5h2v-4.05h4zM1394.3 586.8h6v2.1h4v4.05h2v1.5h-2v4.05h-4v2.1h-6v-2.1h-4v-4.05h-2v-1.5h2v-4.05h4zM1395.6 584.6h6v2.1h4v4.05h2v1.5h-2v4.05h-4v2.1h-6v-2.1h-4v-4.05h-2v-1.5h2v-4.05h4zM1397.0 582.3h6v2.1h4v4.05h2v1.5h-2v4.05h-4v2.1h-6v-2.1h-4v-4.05h-2v-1.5h2v-4.05h4zM1398.4 580.1h6v2.1h4v4.05h2v1.5h-2v4.05h-4v2.1h-6v-2.1h-4v-4.05h-2v-1.5h2v-4.05h4zM1399.8 577.8h6v2.1h4v4.05h2v1.5h-2v4.05h-4v2.1h-6v-2.1h-4v-4.05h-2v-1.5h2v-4.05h4zM1401.2 575.6h6v2.1h4v4.05h2v1.5h-2v4.05h-4v2.1h-6v-2.1h-4v-4.05h-2v-1.5h2v-4.05h4zM1402.5 573.3h6v2.1h4v4.05h2v1.5h-2v4.05h-4v2.1h-6v-2.1h-4v-4.05h-2v-1.5h2v-4.05h4zM1403.9 571.1h6v2.1h4v4.05h2v1.5h-2v4.05h-4v2.1h-6v-2.1h-4v-4.05h-2v-1.5h2v-4.05h4zM1405.3 569.0h6v2.1h4v4.05h2v1.5h-2v4.05h-4v2.1h-6v-2.1h-4v-4.05h-2v-1.5h2v-4.05h4zM1406.7 566.8h6v2.1h4v4.05h2v1.5h-2v4.05h-4v2.1h-6v-2.1h-4v-4.05h-2v-1.5h2v-4.05h4zM1408.1 564.7h6v2.1h4v4.05h2v1.5h-2v4.05h-4v2.1h-6v-2.1h-4v-4.05h-2v-1.5h2v-4.05h4zM1409.5 562.5h6v2.1h4v4.05h2v1.5h-2v4.05h-4v2.1h-6v-2.1h-4v-4.05h-2v-1.5h2v-4.05h4zM1410.9 560.4h6v2.1h4v4.05h2v1.5h-2v4.05h-4v2.1h-6v-2.1h-4v-4.05h-2v-1.5h2v-4.05h4zM1412.3 558.2h6v2.1h4v4.05h2v1.5h-2v4.05h-4v2.1h-6v-2.1h-4v-4.05h-2v-1.5h2v-4.05h4zM1413.6 556.0h6v2.1h4v4.05h2v1.5h-2v4.05h-4v2.1h-6v-2.1h-4v-4.05h-2v-1.5h2v-4.05h4zM1414.8 553.8h6v2.1h4v4.05h2v1.5h-2v4.05h-4v2.1h-6v-2.1h-4v-4.05h-2v-1.5h2v-4.05h4zM1416.1 551.6h6v2.1h4v4.05h2v1.5h-2v4.05h-4v2.1h-6v-2.1h-4v-4.05h-2v-1.5h2v-4.05h4zM1417.3 549.4h6v2.1h4v4.05h2v1.5h-2v4.05h-4v2.1h-6v-2.1h-4v-4.05h-2v-1.5h2v-4.05h4zM1418.4 547.2h6v2.1h4v4.05h2v1.5h-2v4.05h-4v2.1h-6v-2.1h-4v-4.05h-2v-1.5h2v-4.05h4zM1419.6 545.0h6v2.1h4v4.05h2v1.5h-2v4.05h-4v2.1h-6v-2.1h-4v-4.05h-2v-1.5h2v-4.05h4zM1420.7 542.8h6v2.1h4v4.05h2v1.5h-2v4.05h-4v2.1h-6v-2.1h-4v-4.05h-2v-1.5h2v-4.05h4zM1421.9 540.5h6v2.1h4v4.05h2v1.5h-2v4.05h-4v2.1h-6v-2.1h-4v-4.05h-2v-1.5h2v-4.05h4zM1423.1 538.3h6v2.1h4v4.05h2v1.5h-2v4.05h-4v2.1h-6v-2.1h-4v-4.05h-2v-1.5h2v-4.05h4zM1424.3 536.1h6v2.1h4v4.05h2v1.5h-2v4.05h-4v2.1h-6v-2.1h-4v-4.05h-2v-1.5h2v-4.05h4zM1425.6 533.9h6v2.1h4v4.05h2v1.5h-2v4.05h-4v2.1h-6v-2.1h-4v-4.05h-2v-1.5h2v-4.05h4zM1426.8 531.7h6v2.1h4v4.05h2v1.5h-2v4.05h-4v2.1h-6v-2.1h-4v-4.05h-2v-1.5h2v-4.05h4zM1428.1 529.5h6v2.1h4v4.05h2v1.5h-2v4.05h-4v2.1h-6v-2.1h-4v-4.05h-2v-1.5h2v-4.05h4zM1429.4 527.3h6v2.1h4v4.05h2v1.5h-2v4.05h-4v2.1h-6v-2.1h-4v-4.05h-2v-1.5h2v-4.05h4zM1430.7 525.2h6v2.1h4v4.05h2v1.5h-2v4.05h-4v2.1h-6v-2.1h-4v-4.05h-2v-1.5h2v-4.05h4zM1431.9 523.0h6v2.1h4v4.05h2v1.5h-2v4.05h-4v2.1h-6v-2.1h-4v-4.05h-2v-1.5h2v-4.05h4zM1433.2 520.8h6v2.1h4v4.05h2v1.5h-2v4.05h-4v2.1h-6v-2.1h-4v-4.05h-2v-1.5h2v-4.05h4zM1434.4 518.7h6v2.1h4v4.05h2v1.5h-2v4.05h-4v2.1h-6v-2.1h-4v-4.05h-2v-1.5h2v-4.05h4zM1435.7 516.5h6v2.1h4v4.05h2v1.5h-2v4.05h-4v2.1h-6v-2.1h-4v-4.05h-2v-1.5h2v-4.05h4zM1436.9 514.4h6v2.1h4v4.05h2v1.5h-2v4.05h-4v2.1h-6v-2.1h-4v-4.05h-2v-1.5h2v-4.05h4zM1438.2 512.2h6v2.1h4v4.05h2v1.5h-2v4.05h-4v2.1h-6v-2.1h-4v-4.05h-2v-1.5h2v-4.05h4zM1439.4 510.1h6v2.1h4v4.05h2v1.5h-2v4.05h-4v2.1h-6v-2.1h-4v-4.05h-2v-1.5h2v-4.05h4zM1440.7 508.0h6v2.1h4v4.05h2v1.5h-2v4.05h-4v2.1h-6v-2.1h-4v-4.05h-2v-1.5h2v-4.05h4zM1441.9 505.9h6v2.1h4v4.05h2v1.5h-2v4.05h-4v2.1h-6v-2.1h-4v-4.05h-2v-1.5h2v-4.05h4zM1443.1 503.8h6v2.1h4v4.05h2v1.5h-2v4.05h-4v2.1h-6v-2.1h-4v-4.05h-2v-1.5h2v-4.05h4zM1444.3 501.7h6v2.1h4v4.05h2v1.5h-2v4.05h-4v2.1h-6v-2.1h-4v-4.05h-2v-1.5h2v-4.05h4zM1445.4 499.7h6v2.1h4v4.05h2v1.5h-2v4.05h-4v2.1h-6v-2.1h-4v-4.05h-2v-1.5h2v-4.05h4zM1446.5 497.7h6v2.1h4v4.05h2v1.5h-2v4.05h-4v2.1h-6v-2.1h-4v-4.05h-2v-1.5h2v-4.05h4zM1447.5 495.8h6v2.1h4v4.05h2v1.5h-2v4.05h-4v2.1h-6v-2.1h-4v-4.05h-2v-1.5h2v-4.05h4zM1448.6 493.8h6v2.1h4v4.05h2v1.5h-2v4.05h-4v2.1h-6v-2.1h-4v-4.05h-2v-1.5h2v-4.05h4zM1449.7 491.8h6v2.1h4v4.05h2v1.5h-2v4.05h-4v2.1h-6v-2.1h-4v-4.05h-2v-1.5h2v-4.05h4zM1450.9 489.7h6v2.1h4v4.05h2v1.5h-2v4.05h-4v2.1h-6v-2.1h-4v-4.05h-2v-1.5h2v-4.05h4zM1452.2 487.5h6v2.1h4v4.05h2v1.5h-2v4.05h-4v2.1h-6v-2.1h-4v-4.05h-2v-1.5h2v-4.05h4zM1453.5 485.1h6v2.1h4v4.05h2v1.5h-2v4.05h-4v2.1h-6v-2.1h-4v-4.05h-2v-1.5h2v-4.05h4zM1455.0 482.7h6v2.1h4v4.05h2v1.5h-2v4.05h-4v2.1h-6v-2.1h-4v-4.05h-2v-1.5h2v-4.05h4zM1456.5 480.1h6v2.1h4v4.05h2v1.5h-2v4.05h-4v2.1h-6v-2.1h-4v-4.05h-2v-1.5h2v-4.05h4zM1457.5 478.4h6v2.1h4v4.05h2v1.5h-2v4.05h-4v2.1h-6v-2.1h-4v-4.05h-2v-1.5h2v-4.05h4zM1458.6 476.7h6v2.1h4v4.05h2v1.5h-2v4.05h-4v2.1h-6v-2.1h-4v-4.05h-2v-1.5h2v-4.05h4zM1459.6 474.9h6v2.1h4v4.05h2v1.5h-2v4.05h-4v2.1h-6v-2.1h-4v-4.05h-2v-1.5h2v-4.05h4zM1460.7 473.1h6v2.1h4v4.05h2v1.5h-2v4.05h-4v2.1h-6v-2.1h-4v-4.05h-2v-1.5h2v-4.05h4zM1461.9 471.3h6v2.1h4v4.05h2v1.5h-2v4.05h-4v2.1h-6v-2.1h-4v-4.05h-2v-1.5h2v-4.05h4zM1463.0 469.6h6v2.1h4v4.05h2v1.5h-2v4.05h-4v2.1h-6v-2.1h-4v-4.05h-2v-1.5h2v-4.05h4zM1464.1 467.8h6v2.1h4v4.05h2v1.5h-2v4.05h-4v2.1h-6v-2.1h-4v-4.05h-2v-1.5h2v-4.05h4zM1465.3 466.1h6v2.1h4v4.05h2v1.5h-2v4.05h-4v2.1h-6v-2.1h-4v-4.05h-2v-1.5h2v-4.05h4zM1466.5 464.4h6v2.1h4v4.05h2v1.5h-2v4.05h-4v2.1h-6v-2.1h-4v-4.05h-2v-1.5h2v-4.05h4zM1467.7 462.7h6v2.1h4v4.05h2v1.5h-2v4.05h-4v2.1h-6v-2.1h-4v-4.05h-2v-1.5h2v-4.05h4zM1469.0 461.0h6v2.1h4v4.05h2v1.5h-2v4.05h-4v2.1h-6v-2.1h-4v-4.05h-2v-1.5h2v-4.05h4zM1470.3 459.3h6v2.1h4v4.05h2v1.5h-2v4.05h-4v2.1h-6v-2.1h-4v-4.05h-2v-1.5h2v-4.05h4zM1471.6 457.6h6v2.1h4v4.05h2v1.5h-2v4.05h-4v2.1h-6v-2.1h-4v-4.05h-2v-1.5h2v-4.05h4zM1472.9 455.9h6v2.1h4v4.05h2v1.5h-2v4.05h-4v2.1h-6v-2.1h-4v-4.05h-2v-1.5h2v-4.05h4zM1474.2 454.1h6v2.1h4v4.05h2v1.5h-2v4.05h-4v2.1h-6v-2.1h-4v-4.05h-2v-1.5h2v-4.05h4zM1475.5 452.4h6v2.1h4v4.05h2v1.5h-2v4.05h-4v2.1h-6v-2.1h-4v-4.05h-2v-1.5h2v-4.05h4zM1476.8 450.7h6v2.1h4v4.05h2v1.5h-2v4.05h-4v2.1h-6v-2.1h-4v-4.05h-2v-1.5h2v-4.05h4zM1478.1 449.0h6v2.1h4v4.05h2v1.5h-2v4.05h-4v2.1h-6v-2.1h-4v-4.05h-2v-1.5h2v-4.05h4zM1479.4 447.3h6v2.1h4v4.05h2v1.5h-2v4.05h-4v2.1h-6v-2.1h-4v-4.05h-2v-1.5h2v-4.05h4zM1480.7 445.6h6v2.1h4v4.05h2v1.5h-2v4.05h-4v2.1h-6v-2.1h-4v-4.05h-2v-1.5h2v-4.05h4zM1482.0 443.9h6v2.1h4v4.05h2v1.5h-2v4.05h-4v2.1h-6v-2.1h-4v-4.05h-2v-1.5h2v-4.05h4zM1483.2 442.2h6v2.1h4v4.05h2v1.5h-2v4.05h-4v2.1h-6v-2.1h-4v-4.05h-2v-1.5h2v-4.05h4zM1484.5 440.5h6v2.1h4v4.05h2v1.5h-2v4.05h-4v2.1h-6v-2.1h-4v-4.05h-2v-1.5h2v-4.05h4zM1485.7 438.7h6v2.1h4v4.05h2v1.5h-2v4.05h-4v2.1h-6v-2.1h-4v-4.05h-2v-1.5h2v-4.05h4zM1486.9 437.0h6v2.1h4v4.05h2v1.5h-2v4.05h-4v2.1h-6v-2.1h-4v-4.05h-2v-1.5h2v-4.05h4zM1488.2 435.3h6v2.1h4v4.05h2v1.5h-2v4.05h-4v2.1h-6v-2.1h-4v-4.05h-2v-1.5h2v-4.05h4zM1489.4 433.6h6v2.1h4v4.05h2v1.5h-2v4.05h-4v2.1h-6v-2.1h-4v-4.05h-2v-1.5h2v-4.05h4zM1490.7 431.9h6v2.1h4v4.05h2v1.5h-2v4.05h-4v2.1h-6v-2.1h-4v-4.05h-2v-1.5h2v-4.05h4zM1491.9 430.1h6v2.1h4v4.05h2v1.5h-2v4.05h-4v2.1h-6v-2.1h-4v-4.05h-2v-1.5h2v-4.05h4zM1493.1 428.4h6v2.1h4v4.05h2v1.5h-2v4.05h-4v2.1h-6v-2.1h-4v-4.05h-2v-1.5h2v-4.05h4zM1494.4 426.7h6v2.1h4v4.05h2v1.5h-2v4.05h-4v2.1h-6v-2.1h-4v-4.05h-2v-1.5h2v-4.05h4zM1495.6 425.0h6v2.1h4v4.05h2v1.5h-2v4.05h-4v2.1h-6v-2.1h-4v-4.05h-2v-1.5h2v-4.05h4zM1496.9 423.3h6v2.1h4v4.05h2v1.5h-2v4.05h-4v2.1h-6v-2.1h-4v-4.05h-2v-1.5h2v-4.05h4zM1498.1 421.5h6v2.1h4v4.05h2v1.5h-2v4.05h-4v2.1h-6v-2.1h-4v-4.05h-2v-1.5h2v-4.05h4zM1499.5 419.7h6v2.1h4v4.05h2v1.5h-2v4.05h-4v2.1h-6v-2.1h-4v-4.05h-2v-1.5h2v-4.05h4zM1500.8 417.9h6v2.1h4v4.05h2v1.5h-2v4.05h-4v2.1h-6v-2.1h-4v-4.05h-2v-1.5h2v-4.05h4zM1502.1 416.1h6v2.1h4v4.05h2v1.5h-2v4.05h-4v2.1h-6v-2.1h-4v-4.05h-2v-1.5h2v-4.05h4zM1503.4 414.3h6v2.1h4v4.05h2v1.5h-2v4.05h-4v2.1h-6v-2.1h-4v-4.05h-2v-1.5h2v-4.05h4zM1504.7 412.6h6v2.1h4v4.05h2v1.5h-2v4.05h-4v2.1h-6v-2.1h-4v-4.05h-2v-1.5h2v-4.05h4zM1505.9 410.8h6v2.1h4v4.05h2v1.5h-2v4.05h-4v2.1h-6v-2.1h-4v-4.05h-2v-1.5h2v-4.05h4zM1507.2 409.2h6v2.1h4v4.05h2v1.5h-2v4.05h-4v2.1h-6v-2.1h-4v-4.05h-2v-1.5h2v-4.05h4zM1508.3 407.5h6v2.1h4v4.05h2v1.5h-2v4.05h-4v2.1h-6v-2.1h-4v-4.05h-2v-1.5h2v-4.05h4zM1510.0 405.2h6v2.1h4v4.05h2v1.5h-2v4.05h-4v2.1h-6v-2.1h-4v-4.05h-2v-1.5h2v-4.05h4zM1511.5 403.1h6v2.1h4v4.05h2v1.5h-2v4.05h-4v2.1h-6v-2.1h-4v-4.05h-2v-1.5h2v-4.05h4zM1512.8 401.2h6v2.1h4v4.05h2v1.5h-2v4.05h-4v2.1h-6v-2.1h-4v-4.05h-2v-1.5h2v-4.05h4zM1514.0 399.4h6v2.1h4v4.05h2v1.5h-2v4.05h-4v2.1h-6v-2.1h-4v-4.05h-2v-1.5h2v-4.05h4zM1515.1 397.7h6v2.1h4v4.05h2v1.5h-2v4.05h-4v2.1h-6v-2.1h-4v-4.05h-2v-1.5h2v-4.05h4zM1516.5 395.5h6v2.1h4v4.05h2v1.5h-2v4.05h-4v2.1h-6v-2.1h-4v-4.05h-2v-1.5h2v-4.05h4zM1518.0 393.4h6v2.1h4v4.05h2v1.5h-2v4.05h-4v2.1h-6v-2.1h-4v-4.05h-2v-1.5h2v-4.05h4zM1519.1 391.7h6v2.1h4v4.05h2v1.5h-2v4.05h-4v2.1h-6v-2.1h-4v-4.05h-2v-1.5h2v-4.05h4zM1520.4 390.0h6v2.1h4v4.05h2v1.5h-2v4.05h-4v2.1h-6v-2.1h-4v-4.05h-2v-1.5h2v-4.05h4zM1521.7 388.3h6v2.1h4v4.05h2v1.5h-2v4.05h-4v2.1h-6v-2.1h-4v-4.05h-2v-1.5h2v-4.05h4zM1523.0 386.7h6v2.1h4v4.05h2v1.5h-2v4.05h-4v2.1h-6v-2.1h-4v-4.05h-2v-1.5h2v-4.05h4zM1524.4 385.0h6v2.1h4v4.05h2v1.5h-2v4.05h-4v2.1h-6v-2.1h-4v-4.05h-2v-1.5h2v-4.05h4zM1525.7 383.4h6v2.1h4v4.05h2v1.5h-2v4.05h-4v2.1h-6v-2.1h-4v-4.05h-2v-1.5h2v-4.05h4zM1527.2 381.6h6v2.1h4v4.05h2v1.5h-2v4.05h-4v2.1h-6v-2.1h-4v-4.05h-2v-1.5h2v-4.05h4zM1528.8 379.8h6v2.1h4v4.05h2v1.5h-2v4.05h-4v2.1h-6v-2.1h-4v-4.05h-2v-1.5h2v-4.05h4zM1530.6 377.8h6v2.1h4v4.05h2v1.5h-2v4.05h-4v2.1h-6v-2.1h-4v-4.05h-2v-1.5h2v-4.05h4zM1532.6 375.7h6v2.1h4v4.05h2v1.5h-2v4.05h-4v2.1h-6v-2.1h-4v-4.05h-2v-1.5h2v-4.05h4zM1534.0 374.1h6v2.1h4v4.05h2v1.5h-2v4.05h-4v2.1h-6v-2.1h-4v-4.05h-2v-1.5h2v-4.05h4zM1535.5 372.5h6v2.1h4v4.05h2v1.5h-2v4.05h-4v2.1h-6v-2.1h-4v-4.05h-2v-1.5h2v-4.05h4zM1537.1 370.9h6v2.1h4v4.05h2v1.5h-2v4.05h-4v2.1h-6v-2.1h-4v-4.05h-2v-1.5h2v-4.05h4zM1538.8 369.1h6v2.1h4v4.05h2v1.5h-2v4.05h-4v2.1h-6v-2.1h-4v-4.05h-2v-1.5h2v-4.05h4zM1540.5 367.4h6v2.1h4v4.05h2v1.5h-2v4.05h-4v2.1h-6v-2.1h-4v-4.05h-2v-1.5h2v-4.05h4zM1542.2 365.6h6v2.1h4v4.05h2v1.5h-2v4.05h-4v2.1h-6v-2.1h-4v-4.05h-2v-1.5h2v-4.05h4zM1544.0 363.8h6v2.1h4v4.05h2v1.5h-2v4.05h-4v2.1h-6v-2.1h-4v-4.05h-2v-1.5h2v-4.05h4zM1545.9 362.0h6v2.1h4v4.05h2v1.5h-2v4.05h-4v2.1h-6v-2.1h-4v-4.05h-2v-1.5h2v-4.05h4zM1547.7 360.2h6v2.1h4v4.05h2v1.5h-2v4.05h-4v2.1h-6v-2.1h-4v-4.05h-2v-1.5h2v-4.05h4zM1549.6 358.4h6v2.1h4v4.05h2v1.5h-2v4.05h-4v2.1h-6v-2.1h-4v-4.05h-2v-1.5h2v-4.05h4zM1551.5 356.7h6v2.1h4v4.05h2v1.5h-2v4.05h-4v2.1h-6v-2.1h-4v-4.05h-2v-1.5h2v-4.05h4zM1553.3 354.9h6v2.1h4v4.05h2v1.5h-2v4.05h-4v2.1h-6v-2.1h-4v-4.05h-2v-1.5h2v-4.05h4zM1555.3 353.2h6v2.1h4v4.05h2v1.5h-2v4.05h-4v2.1h-6v-2.1h-4v-4.05h-2v-1.5h2v-4.05h4zM1557.2 351.5h6v2.1h4v4.05h2v1.5h-2v4.05h-4v2.1h-6v-2.1h-4v-4.05h-2v-1.5h2v-4.05h4zM1559.3 349.8h6v2.1h4v4.05h2v1.5h-2v4.05h-4v2.1h-6v-2.1h-4v-4.05h-2v-1.5h2v-4.05h4zM1561.3 348.1h6v2.1h4v4.05h2v1.5h-2v4.05h-4v2.1h-6v-2.1h-4v-4.05h-2v-1.5h2v-4.05h4zM1563.4 346.4h6v2.1h4v4.05h2v1.5h-2v4.05h-4v2.1h-6v-2.1h-4v-4.05h-2v-1.5h2v-4.05h4zM1565.4 344.7h6v2.1h4v4.05h2v1.5h-2v4.05h-4v2.1h-6v-2.1h-4v-4.05h-2v-1.5h2v-4.05h4zM1567.5 343.0h6v2.1h4v4.05h2v1.5h-2v4.05h-4v2.1h-6v-2.1h-4v-4.05h-2v-1.5h2v-4.05h4zM1569.7 341.3h6v2.1h4v4.05h2v1.5h-2v4.05h-4v2.1h-6v-2.1h-4v-4.05h-2v-1.5h2v-4.05h4zM1571.8 339.6h6v2.1h4v4.05h2v1.5h-2v4.05h-4v2.1h-6v-2.1h-4v-4.05h-2v-1.5h2v-4.05h4zM1573.9 337.9h6v2.1h4v4.05h2v1.5h-2v4.05h-4v2.1h-6v-2.1h-4v-4.05h-2v-1.5h2v-4.05h4zM1576.0 336.2h6v2.1h4v4.05h2v1.5h-2v4.05h-4v2.1h-6v-2.1h-4v-4.05h-2v-1.5h2v-4.05h4zM1578.2 334.4h6v2.1h4v4.05h2v1.5h-2v4.05h-4v2.1h-6v-2.1h-4v-4.05h-2v-1.5h2v-4.05h4zM1580.3 332.7h6v2.1h4v4.05h2v1.5h-2v4.05h-4v2.1h-6v-2.1h-4v-4.05h-2v-1.5h2v-4.05h4zM1582.5 331.0h6v2.1h4v4.05h2v1.5h-2v4.05h-4v2.1h-6v-2.1h-4v-4.05h-2v-1.5h2v-4.05h4zM1584.7 329.3h6v2.1h4v4.05h2v1.5h-2v4.05h-4v2.1h-6v-2.1h-4v-4.05h-2v-1.5h2v-4.05h4zM1587.0 327.6h6v2.1h4v4.05h2v1.5h-2v4.05h-4v2.1h-6v-2.1h-4v-4.05h-2v-1.5h2v-4.05h4zM1589.2 325.9h6v2.1h4v4.05h2v1.5h-2v4.05h-4v2.1h-6v-2.1h-4v-4.05h-2v-1.5h2v-4.05h4zM1591.4 324.1h6v2.1h4v4.05h2v1.5h-2v4.05h-4v2.1h-6v-2.1h-4v-4.05h-2v-1.5h2v-4.05h4zM1593.6 322.4h6v2.1h4v4.05h2v1.5h-2v4.05h-4v2.1h-6v-2.1h-4v-4.05h-2v-1.5h2v-4.05h4zM1595.8 320.7h6v2.1h4v4.05h2v1.5h-2v4.05h-4v2.1h-6v-2.1h-4v-4.05h-2v-1.5h2v-4.05h4zM1598.0 319.0h6v2.1h4v4.05h2v1.5h-2v4.05h-4v2.1h-6v-2.1h-4v-4.05h-2v-1.5h2v-4.05h4zM1600.2 317.3h6v2.1h4v4.05h2v1.5h-2v4.05h-4v2.1h-6v-2.1h-4v-4.05h-2v-1.5h2v-4.05h4zM1602.3 315.6h6v2.1h4v4.05h2v1.5h-2v4.05h-4v2.1h-6v-2.1h-4v-4.05h-2v-1.5h2v-4.05h4zM1604.3 313.8h6v2.1h4v4.05h2v1.5h-2v4.05h-4v2.1h-6v-2.1h-4v-4.05h-2v-1.5h2v-4.05h4zM1606.3 312.1h6v2.1h4v4.05h2v1.5h-2v4.05h-4v2.1h-6v-2.1h-4v-4.05h-2v-1.5h2v-4.05h4zM1608.3 310.4h6v2.1h4v4.05h2v1.5h-2v4.05h-4v2.1h-6v-2.1h-4v-4.05h-2v-1.5h2v-4.05h4zM1610.2 308.7h6v2.1h4v4.05h2v1.5h-2v4.05h-4v2.1h-6v-2.1h-4v-4.05h-2v-1.5h2v-4.05h4zM1612.1 307.0h6v2.1h4v4.05h2v1.5h-2v4.05h-4v2.1h-6v-2.1h-4v-4.05h-2v-1.5h2v-4.05h4zM1613.9 305.3h6v2.1h4v4.05h2v1.5h-2v4.05h-4v2.1h-6v-2.1h-4v-4.05h-2v-1.5h2v-4.05h4zM1615.8 303.6h6v2.1h4v4.05h2v1.5h-2v4.05h-4v2.1h-6v-2.1h-4v-4.05h-2v-1.5h2v-4.05h4zM1617.6 301.9h6v2.1h4v4.05h2v1.5h-2v4.05h-4v2.1h-6v-2.1h-4v-4.05h-2v-1.5h2v-4.05h4zM1619.5 300.2h6v2.1h4v4.05h2v1.5h-2v4.05h-4v2.1h-6v-2.1h-4v-4.05h-2v-1.5h2v-4.05h4zM1621.4 298.5h6v2.1h4v4.05h2v1.5h-2v4.05h-4v2.1h-6v-2.1h-4v-4.05h-2v-1.5h2v-4.05h4zM1623.4 296.8h6v2.1h4v4.05h2v1.5h-2v4.05h-4v2.1h-6v-2.1h-4v-4.05h-2v-1.5h2v-4.05h4zM1625.4 295.1h6v2.1h4v4.05h2v1.5h-2v4.05h-4v2.1h-6v-2.1h-4v-4.05h-2v-1.5h2v-4.05h4zM1627.4 293.3h6v2.1h4v4.05h2v1.5h-2v4.05h-4v2.1h-6v-2.1h-4v-4.05h-2v-1.5h2v-4.05h4zM1629.5 291.6h6v2.1h4v4.05h2v1.5h-2v4.05h-4v2.1h-6v-2.1h-4v-4.05h-2v-1.5h2v-4.05h4zM1631.7 289.8h6v2.1h4v4.05h2v1.5h-2v4.05h-4v2.1h-6v-2.1h-4v-4.05h-2v-1.5h2v-4.05h4zM1633.8 288.1h6v2.1h4v4.05h2v1.5h-2v4.05h-4v2.1h-6v-2.1h-4v-4.05h-2v-1.5h2v-4.05h4zM1636.0 286.3h6v2.1h4v4.05h2v1.5h-2v4.05h-4v2.1h-6v-2.1h-4v-4.05h-2v-1.5h2v-4.05h4zM1638.2 284.5h6v2.1h4v4.05h2v1.5h-2v4.05h-4v2.1h-6v-2.1h-4v-4.05h-2v-1.5h2v-4.05h4zM1640.4 282.8h6v2.1h4v4.05h2v1.5h-2v4.05h-4v2.1h-6v-2.1h-4v-4.05h-2v-1.5h2v-4.05h4zM1642.6 281.0h6v2.1h4v4.05h2v1.5h-2v4.05h-4v2.1h-6v-2.1h-4v-4.05h-2v-1.5h2v-4.05h4zM1644.9 279.3h6v2.1h4v4.05h2v1.5h-2v4.05h-4v2.1h-6v-2.1h-4v-4.05h-2v-1.5h2v-4.05h4zM1647.1 277.6h6v2.1h4v4.05h2v1.5h-2v4.05h-4v2.1h-6v-2.1h-4v-4.05h-2v-1.5h2v-4.05h4zM1649.3 276.0h6v2.1h4v4.05h2v1.5h-2v4.05h-4v2.1h-6v-2.1h-4v-4.05h-2v-1.5h2v-4.05h4zM1651.5 274.4h6v2.1h4v4.05h2v1.5h-2v4.05h-4v2.1h-6v-2.1h-4v-4.05h-2v-1.5h2v-4.05h4zM1653.7 272.8h6v2.1h4v4.05h2v1.5h-2v4.05h-4v2.1h-6v-2.1h-4v-4.05h-2v-1.5h2v-4.05h4zM1655.9 271.3h6v2.1h4v4.05h2v1.5h-2v4.05h-4v2.1h-6v-2.1h-4v-4.05h-2v-1.5h2v-4.05h4zM1658.0 269.9h6v2.1h4v4.05h2v1.5h-2v4.05h-4v2.1h-6v-2.1h-4v-4.05h-2v-1.5h2v-4.05h4zM1660.2 268.4h6v2.1h4v4.05h2v1.5h-2v4.05h-4v2.1h-6v-2.1h-4v-4.05h-2v-1.5h2v-4.05h4zM1662.3 267.0h6v2.1h4v4.05h2v1.5h-2v4.05h-4v2.1h-6v-2.1h-4v-4.05h-2v-1.5h2v-4.05h4zM1664.5 265.7h6v2.1h4v4.05h2v1.5h-2v4.05h-4v2.1h-6v-2.1h-4v-4.05h-2v-1.5h2v-4.05h4zM1666.7 264.3h6v2.1h4v4.05h2v1.5h-2v4.05h-4v2.1h-6v-2.1h-4v-4.05h-2v-1.5h2v-4.05h4zM1668.8 263.0h6v2.1h4v4.05h2v1.5h-2v4.05h-4v2.1h-6v-2.1h-4v-4.05h-2v-1.5h2v-4.05h4zM1671.0 261.7h6v2.1h4v4.05h2v1.5h-2v4.05h-4v2.1h-6v-2.1h-4v-4.05h-2v-1.5h2v-4.05h4zM1673.2 260.3h6v2.1h4v4.05h2v1.5h-2v4.05h-4v2.1h-6v-2.1h-4v-4.05h-2v-1.5h2v-4.05h4zM1675.4 259.0h6v2.1h4v4.05h2v1.5h-2v4.05h-4v2.1h-6v-2.1h-4v-4.05h-2v-1.5h2v-4.05h4zM1677.7 257.7h6v2.1h4v4.05h2v1.5h-2v4.05h-4v2.1h-6v-2.1h-4v-4.05h-2v-1.5h2v-4.05h4zM1679.9 256.5h6v2.1h4v4.05h2v1.5h-2v4.05h-4v2.1h-6v-2.1h-4v-4.05h-2v-1.5h2v-4.05h4zM1682.3 255.2h6v2.1h4v4.05h2v1.5h-2v4.05h-4v2.1h-6v-2.1h-4v-4.05h-2v-1.5h2v-4.05h4zM1684.6 253.9h6v2.1h4v4.05h2v1.5h-2v4.05h-4v2.1h-6v-2.1h-4v-4.05h-2v-1.5h2v-4.05h4zM1687.1 252.6h6v2.1h4v4.05h2v1.5h-2v4.05h-4v2.1h-6v-2.1h-4v-4.05h-2v-1.5h2v-4.05h4zM1689.5 251.3h6v2.1h4v4.05h2v1.5h-2v4.05h-4v2.1h-6v-2.1h-4v-4.05h-2v-1.5h2v-4.05h4zM1691.9 250.0h6v2.1h4v4.05h2v1.5h-2v4.05h-4v2.1h-6v-2.1h-4v-4.05h-2v-1.5h2v-4.05h4zM1694.4 248.8h6v2.1h4v4.05h2v1.5h-2v4.05h-4v2.1h-6v-2.1h-4v-4.05h-2v-1.5h2v-4.05h4zM1696.8 247.6h6v2.1h4v4.05h2v1.5h-2v4.05h-4v2.1h-6v-2.1h-4v-4.05h-2v-1.5h2v-4.05h4zM1699.1 246.4h6v2.1h4v4.05h2v1.5h-2v4.05h-4v2.1h-6v-2.1h-4v-4.05h-2v-1.5h2v-4.05h4zM1701.4 245.2h6v2.1h4v4.05h2v1.5h-2v4.05h-4v2.1h-6v-2.1h-4v-4.05h-2v-1.5h2v-4.05h4zM1703.6 244.1h6v2.1h4v4.05h2v1.5h-2v4.05h-4v2.1h-6v-2.1h-4v-4.05h-2v-1.5h2v-4.05h4zM1705.8 242.9h6v2.1h4v4.05h2v1.5h-2v4.05h-4v2.1h-6v-2.1h-4v-4.05h-2v-1.5h2v-4.05h4zM1707.8 241.9h6v2.1h4v4.05h2v1.5h-2v4.05h-4v2.1h-6v-2.1h-4v-4.05h-2v-1.5h2v-4.05h4zM1709.7 240.8h6v2.1h4v4.05h2v1.5h-2v4.05h-4v2.1h-6v-2.1h-4v-4.05h-2v-1.5h2v-4.05h4zM1711.6 239.8h6v2.1h4v4.05h2v1.5h-2v4.05h-4v2.1h-6v-2.1h-4v-4.05h-2v-1.5h2v-4.05h4zM1713.4 238.8h6v2.1h4v4.05h2v1.5h-2v4.05h-4v2.1h-6v-2.1h-4v-4.05h-2v-1.5h2v-4.05h4zM1715.9 237.3h6v2.1h4v4.05h2v1.5h-2v4.05h-4v2.1h-6v-2.1h-4v-4.05h-2v-1.5h2v-4.05h4zM1718.4 235.9h6v2.1h4v4.05h2v1.5h-2v4.05h-4v2.1h-6v-2.1h-4v-4.05h-2v-1.5h2v-4.05h4zM1720.8 234.5h6v2.1h4v4.05h2v1.5h-2v4.05h-4v2.1h-6v-2.1h-4v-4.05h-2v-1.5h2v-4.05h4zM1723.2 233.2h6v2.1h4v4.05h2v1.5h-2v4.05h-4v2.1h-6v-2.1h-4v-4.05h-2v-1.5h2v-4.05h4zM1725.7 231.9h6v2.1h4v4.05h2v1.5h-2v4.05h-4v2.1h-6v-2.1h-4v-4.05h-2v-1.5h2v-4.05h4zM1728.3 230.7h6v2.1h4v4.05h2v1.5h-2v4.05h-4v2.1h-6v-2.1h-4v-4.05h-2v-1.5h2v-4.05h4zM1730.8 229.5h6v2.1h4v4.05h2v1.5h-2v4.05h-4v2.1h-6v-2.1h-4v-4.05h-2v-1.5h2v-4.05h4zM1733.4 228.5h6v2.1h4v4.05h2v1.5h-2v4.05h-4v2.1h-6v-2.1h-4v-4.05h-2v-1.5h2v-4.05h4zM1735.9 227.4h6v2.1h4v4.05h2v1.5h-2v4.05h-4v2.1h-6v-2.1h-4v-4.05h-2v-1.5h2v-4.05h4zM1738.5 226.4h6v2.1h4v4.05h2v1.5h-2v4.05h-4v2.1h-6v-2.1h-4v-4.05h-2v-1.5h2v-4.05h4zM1741.1 225.4h6v2.1h4v4.05h2v1.5h-2v4.05h-4v2.1h-6v-2.1h-4v-4.05h-2v-1.5h2v-4.05h4zM1743.6 224.5h6v2.1h4v4.05h2v1.5h-2v4.05h-4v2.1h-6v-2.1h-4v-4.05h-2v-1.5h2v-4.05h4zM1746.2 223.5h6v2.1h4v4.05h2v1.5h-2v4.05h-4v2.1h-6v-2.1h-4v-4.05h-2v-1.5h2v-4.05h4zM1748.8 222.6h6v2.1h4v4.05h2v1.5h-2v4.05h-4v2.1h-6v-2.1h-4v-4.05h-2v-1.5h2v-4.05h4zM1751.4 221.6h6v2.1h4v4.05h2v1.5h-2v4.05h-4v2.1h-6v-2.1h-4v-4.05h-2v-1.5h2v-4.05h4zM1754.1 220.6h6v2.1h4v4.05h2v1.5h-2v4.05h-4v2.1h-6v-2.1h-4v-4.05h-2v-1.5h2v-4.05h4zM1756.8 219.7h6v2.1h4v4.05h2v1.5h-2v4.05h-4v2.1h-6v-2.1h-4v-4.05h-2v-1.5h2v-4.05h4zM1759.5 218.7h6v2.1h4v4.05h2v1.5h-2v4.05h-4v2.1h-6v-2.1h-4v-4.05h-2v-1.5h2v-4.05h4zM1762.1 217.8h6v2.1h4v4.05h2v1.5h-2v4.05h-4v2.1h-6v-2.1h-4v-4.05h-2v-1.5h2v-4.05h4zM1764.6 217.0h6v2.1h4v4.05h2v1.5h-2v4.05h-4v2.1h-6v-2.1h-4v-4.05h-2v-1.5h2v-4.05h4zM1767.0 216.2h6v2.1h4v4.05h2v1.5h-2v4.05h-4v2.1h-6v-2.1h-4v-4.05h-2v-1.5h2v-4.05h4zM1769.2 215.5h6v2.1h4v4.05h2v1.5h-2v4.05h-4v2.1h-6v-2.1h-4v-4.05h-2v-1.5h2v-4.05h4zM1771.4 214.8h6v2.1h4v4.05h2v1.5h-2v4.05h-4v2.1h-6v-2.1h-4v-4.05h-2v-1.5h2v-4.05h4zM1773.6 214.2h6v2.1h4v4.05h2v1.5h-2v4.05h-4v2.1h-6v-2.1h-4v-4.05h-2v-1.5h2v-4.05h4zM1775.7 213.6h6v2.1h4v4.05h2v1.5h-2v4.05h-4v2.1h-6v-2.1h-4v-4.05h-2v-1.5h2v-4.05h4zM1777.7 213.0h6v2.1h4v4.05h2v1.5h-2v4.05h-4v2.1h-6v-2.1h-4v-4.05h-2v-1.5h2v-4.05h4zM1780.0 212.4h6v2.1h4v4.05h2v1.5h-2v4.05h-4v2.1h-6v-2.1h-4v-4.05h-2v-1.5h2v-4.05h4zM1782.3 211.8h6v2.1h4v4.05h2v1.5h-2v4.05h-4v2.1h-6v-2.1h-4v-4.05h-2v-1.5h2v-4.05h4zM1783.0 211.6h6v2.1h4v4.05h2v1.5h-2v4.05h-4v2.1h-6v-2.1h-4v-4.05h-2v-1.5h2v-4.05h4z"/><path fill="#000000" d="M1306.6 675.7h6v2.1h4v4.05h2v1.5h-2v4.05h-4v2.1h-6v-2.1h-4v-4.05h-2v-1.5h2v-4.05h4zM1311.2 686.1h6v2.1h4v4.05h2v1.5h-2v4.05h-4v2.1h-6v-2.1h-4v-4.05h-2v-1.5h2v-4.05h4zM1316.1 705.0h6v2.1h4v4.05h2v1.5h-2v4.05h-4v2.1h-6v-2.1h-4v-4.05h-2v-1.5h2v-4.05h4zM1319.0 728.1h6v2.1h4v4.05h2v1.5h-2v4.05h-4v2.1h-6v-2.1h-4v-4.05h-2v-1.5h2v-4.05h4zM1324.7 756.5h6v2.1h4v4.05h2v1.5h-2v4.05h-4v2.1h-6v-2.1h-4v-4.05h-2v-1.5h2v-4.05h4zM1344.2 754.5h6v2.1h4v4.05h2v1.5h-2v4.05h-4v2.1h-6v-2.1h-4v-4.05h-2v-1.5h2v-4.05h4zM1348.2 719.5h6v2.1h4v4.05h2v1.5h-2v4.05h-4v2.1h-6v-2.1h-4v-4.05h-2v-1.5h2v-4.05h4zM1353.1 697.1h6v2.1h4v4.05h2v1.5h-2v4.05h-4v2.1h-6v-2.1h-4v-4.05h-2v-1.5h2v-4.05h4zM1357.9 677.7h6v2.1h4v4.05h2v1.5h-2v4.05h-4v2.1h-6v-2.1h-4v-4.05h-2v-1.5h2v-4.05h4zM1361.9 662.9h6v2.1h4v4.05h2v1.5h-2v4.05h-4v2.1h-6v-2.1h-4v-4.05h-2v-1.5h2v-4.05h4zM1328.5 809.1h6v2.1h4v4.05h2v1.5h-2v4.05h-4v2.1h-6v-2.1h-4v-4.05h-2v-1.5h2v-4.05h4zM1342.0 812.1h6v2.1h4v4.05h2v1.5h-2v4.05h-4v2.1h-6v-2.1h-4v-4.05h-2v-1.5h2v-4.05h4zM1334.0 1072.1h6v2.1h4v4.05h2v1.5h-2v4.05h-4v2.1h-6v-2.1h-4v-4.05h-2v-1.5h2v-4.05h4z"/><path fill="#ff0000" d="M407.0 265.8h6v2.1h4v4.05h2v1.5h-2v4.05h-4v2.1h-6v-2.1h-4v-4.05h-2v-1.5h2v-4.05h4zM424.7 272.0h6v2.1h4v4.05h2v1.5h-2v4.05h-4v2.1h-6v-2.1h-4v-4.05h-2v-1.5h2v-4.05h4zM443.4 277.9h6v2.1h4v4.05h2v1.5h-2v4.05h-4v2.1h-6v-2.1h-4v-4.05h-2v-1.5h2v-4.05h4zM462.3 283.9h6v2.1h4v4.05h2v1.5h-2v4.05h-4v2.1h-6v-2.1h-4v-4.05h-2v-1.5h2v-4.05h4zM480.0 291.8h6v2.1h4v4.05h2v1.5h-2v4.05h-4v2.1h-6v-2.1h-4v-4.05h-2v-1.5h2v-4.05h4zM499.0 297.7h6v2.1h4v4.05h2v1.5h-2v4.05h-4v2.1h-6v-2.1h-4v-4.05h-2v-1.5h2v-4.05h4zM518.2 305.5h6v2.1h4v4.05h2v1.5h-2v4.05h-4v2.1h-6v-2.1h-4v-4.05h-2v-1.5h2v-4.05h4zM536.3 311.6h6v2.1h4v4.05h2v1.5h-2v4.05h-4v2.1h-6v-2.1h-4v-4.05h-2v-1.5h2v-4.05h4zM553.6 319.4h6v2.1h4v4.05h2v1.5h-2v4.05h-4v2.1h-6v-2.1h-4v-4.05h-2v-1.5h2v-4.05h4zM572.7 327.1h6v2.1h4v4.05h2v1.5h-2v4.05h-4v2.1h-6v-2.1h-4v-4.05h-2v-1.5h2v-4.05h4zM591.2 335.3h6v2.1h4v4.05h2v1.5h-2v4.05h-4v2.1h-6v-2.1h-4v-4.05h-2v-1.5h2v-4.05h4zM609.5 344.1h6v2.1h4v4.05h2v1.5h-2v4.05h-4v2.1h-6v-2.1h-4v-4.05h-2v-1.5h2v-4.05h4zM628.1 353.1h6v2.1h4v4.05h2v1.5h-2v4.05h-4v2.1h-6v-2.1h-4v-4.05h-2v-1.5h2v-4.05h4zM647.1 360.9h6v2.1h4v4.05h2v1.5h-2v4.05h-4v2.1h-6v-2.1h-4v-4.05h-2v-1.5h2v-4.05h4zM664.9 371.0h6v2.1h4v4.05h2v1.5h-2v4.05h-4v2.1h-6v-2.1h-4v-4.05h-2v-1.5h2v-4.05h4zM684.0 380.8h6v2.1h4v4.05h2v1.5h-2v4.05h-4v2.1h-6v-2.1h-4v-4.05h-2v-1.5h2v-4.05h4zM702.7 388.8h6v2.1h4v4.05h2v1.5h-2v4.05h-4v2.1h-6v-2.1h-4v-4.05h-2v-1.5h2v-4.05h4zM720.5 398.9h6v2.1h4v4.05h2v1.5h-2v4.05h-4v2.1h-6v-2.1h-4v-4.05h-2v-1.5h2v-4.05h4zM739.2 408.8h6v2.1h4v4.05h2v1.5h-2v4.05h-4v2.1h-6v-2.1h-4v-4.05h-2v-1.5h2v-4.05h4zM757.9 418.8h6v2.1h4v4.05h2v1.5h-2v4.05h-4v2.1h-6v-2.1h-4v-4.05h-2v-1.5h2v-4.05h4zM776.2 428.6h6v2.1h4v4.05h2v1.5h-2v4.05h-4v2.1h-6v-2.1h-4v-4.05h-2v-1.5h2v-4.05h4zM795.0 439.6h6v2.1h4v4.05h2v1.5h-2v4.05h-4v2.1h-6v-2.1h-4v-4.05h-2v-1.5h2v-4.05h4zM813.6 450.4h6v2.1h4v4.05h2v1.5h-2v4.05h-4v2.1h-6v-2.1h-4v-4.05h-2v-1.5h2v-4.05h4zM832.0 460.9h6v2.1h4v4.05h2v1.5h-2v4.05h-4v2.1h-6v-2.1h-4v-4.05h-2v-1.5h2v-4.05h4zM849.6 472.2h6v2.1h4v4.05h2v1.5h-2v4.05h-4v2.1h-6v-2.1h-4v-4.05h-2v-1.5h2v-4.05h4zM868.3 482.9h6v2.1h4v4.05h2v1.5h-2v4.05h-4v2.1h-6v-2.1h-4v-4.05h-2v-1.5h2v-4.05h4zM887.0 493.9h6v2.1h4v4.05h2v1.5h-2v4.05h-4v2.1h-6v-2.1h-4v-4.05h-2v-1.5h2v-4.05h4zM905.0 505.7h6v2.1h4v4.05h2v1.5h-2v4.05h-4v2.1h-6v-2.1h-4v-4.05h-2v-1.5h2v-4.05h4zM924.1 516.2h6v2.1h4v4.05h2v1.5h-2v4.05h-4v2.1h-6v-2.1h-4v-4.05h-2v-1.5h2v-4.05h4zM942.7 528.4h6v2.1h4v4.05h2v1.5h-2v4.05h-4v2.1h-6v-2.1h-4v-4.05h-2v-1.5h2v-4.05h4zM961.5 540.1h6v2.1h4v4.05h2v1.5h-2v4.05h-4v2.1h-6v-2.1h-4v-4.05h-2v-1.5h2v-4.05h4zM979.8 550.5h6v2.1h4v4.05h2v1.5h-2v4.05h-4v2.1h-6v-2.1h-4v-4.05h-2v-1.5h2v-4.05h4zM998.7 563.0h6v2.1h4v4.05h2v1.5h-2v4.05h-4v2.1h-6v-2.1h-4v-4.05h-2v-1.5h2v-4.05h4zM1016.6 575.1h6v2.1h4v4.05h2v1.5h-2v4.05h-4v2.1h-6v-2.1h-4v-4.05h-2v-1.5h2v-4.05h4zM1035.4 587.0h6v2.1h4v4.05h2v1.5h-2v4.05h-4v2.1h-6v-2.1h-4v-4.05h-2v-1.5h2v-4.05h4zM1054.2 598.2h6v2.1h4v4.05h2v1.5h-2v4.05h-4v2.1h-6v-2.1h-4v-4.05h-2v-1.5h2v-4.05h4zM1072.0 608.8h6v2.1h4v4.05h2v1.5h-2v4.05h-4v2.1h-6v-2.1h-4v-4.05h-2v-1.5h2v-4.05h4zM1090.8 619.3h6v2.1h4v4.05h2v1.5h-2v4.05h-4v2.1h-6v-2.1h-4v-4.05h-2v-1.5h2v-4.05h4zM1109.9 631.6h6v2.1h4v4.05h2v1.5h-2v4.05h-4v2.1h-6v-2.1h-4v-4.05h-2v-1.5h2v-4.05h4zM1127.8 640.4h6v2.1h4v4.05h2v1.5h-2v4.05h-4v2.1h-6v-2.1h-4v-4.05h-2v-1.5h2v-4.05h4zM1146.7 652.1h6v2.1h4v4.05h2v1.5h-2v4.05h-4v2.1h-6v-2.1h-4v-4.05h-2v-1.5h2v-4.05h4zM1165.5 661.7h6v2.1h4v4.05h2v1.5h-2v4.05h-4v2.1h-6v-2.1h-4v-4.05h-2v-1.5h2v-4.05h4zM1183.3 670.5h6v2.1h4v4.05h2v1.5h-2v4.05h-4v2.1h-6v-2.1h-4v-4.05h-2v-1.5h2v-4.05h4zM1201.9 678.7h6v2.1h4v4.05h2v1.5h-2v4.05h-4v2.1h-6v-2.1h-4v-4.05h-2v-1.5h2v-4.05h4zM1220.1 686.6h6v2.1h4v4.05h2v1.5h-2v4.05h-4v2.1h-6v-2.1h-4v-4.05h-2v-1.5h2v-4.05h4zM1238.6 694.4h6v2.1h4v4.05h2v1.5h-2v4.05h-4v2.1h-6v-2.1h-4v-4.05h-2v-1.5h2v-4.05h4zM1257.0 702.4h6v2.1h4v4.05h2v1.5h-2v4.05h-4v2.1h-6v-2.1h-4v-4.05h-2v-1.5h2v-4.05h4zM1275.6 709.1h6v2.1h4v4.05h2v1.5h-2v4.05h-4v2.1h-6v-2.1h-4v-4.05h-2v-1.5h2v-4.05h4zM1293.7 714.9h6v2.1h4v4.05h2v1.5h-2v4.05h-4v2.1h-6v-2.1h-4v-4.05h-2v-1.5h2v-4.05h4zM1312.5 720.5h6v2.1h4v4.05h2v1.5h-2v4.05h-4v2.1h-6v-2.1h-4v-4.05h-2v-1.5h2v-4.05h4zM1330.1 724.4h6v2.1h4v4.05h2v1.5h-2v4.05h-4v2.1h-6v-2.1h-4v-4.05h-2v-1.5h2v-4.05h4zM1349.8 730.2h6v2.1h4v4.05h2v1.5h-2v4.05h-4v2.1h-6v-2.1h-4v-4.05h-2v-1.5h2v-4.05h4zM1368.0 734.6h6v2.1h4v4.05h2v1.5h-2v4.05h-4v2.1h-6v-2.1h-4v-4.05h-2v-1.5h2v-4.05h4zM1386.8 740.2h6v2.1h4v4.05h2v1.5h-2v4.05h-4v2.1h-6v-2.1h-4v-4.05h-2v-1.5h2v-4.05h4zM1405.5 746.0h6v2.1h4v4.05h2v1.5h-2v4.05h-4v2.1h-6v-2.1h-4v-4.05h-2v-1.5h2v-4.05h4zM1423.4 756.1h6v2.1h4v4.05h2v1.5h-2v4.05h-4v2.1h-6v-2.1h-4v-4.05h-2v-1.5h2v-4.05h4zM1442.5 770.1h6v2.1h4v4.05h2v1.5h-2v4.05h-4v2.1h-6v-2.1h-4v-4.05h-2v-1.5h2v-4.05h4zM1461.1 794.1h6v2.1h4v4.05h2v1.5h-2v4.05h-4v2.1h-6v-2.1h-4v-4.05h-2v-1.5h2v-4.05h4zM1475.1 835.5h6v2.1h4v4.05h2v1.5h-2v4.05h-4v2.1h-6v-2.1h-4v-4.05h-2v-1.5h2v-4.05h4zM1479.4 807.3h6v2.1h4v4.05h2v1.5h-2v4.05h-4v2.1h-6v-2.1h-4v-4.05h-2v-1.5h2v-4.05h4zM1484.3 783.1h6v2.1h4v4.05h2v1.5h-2v4.05h-4v2.1h-6v-2.1h-4v-4.05h-2v-1.5h2v-4.05h4zM1489.1 761.3h6v2.1h4v4.05h2v1.5h-2v4.05h-4v2.1h-6v-2.1h-4v-4.05h-2v-1.5h2v-4.05h4zM1493.1 740.4h6v2.1h4v4.05h2v1.5h-2v4.05h-4v2.1h-6v-2.1h-4v-4.05h-2v-1.5h2v-4.05h4zM1497.5 720.4h6v2.1h4v4.05h2v1.5h-2v4.05h-4v2.1h-6v-2.1h-4v-4.05h-2v-1.5h2v-4.05h4zM1502.7 702.1h6v2.1h4v4.05h2v1.5h-2v4.05h-4v2.1h-6v-2.1h-4v-4.05h-2v-1.5h2v-4.05h4zM1507.1 683.0h6v2.1h4v4.05h2v1.5h-2v4.05h-4v2.1h-6v-2.1h-4v-4.05h-2v-1.5h2v-4.05h4zM1510.8 665.4h6v2.1h4v4.05h2v1.5h-2v4.05h-4v2.1h-6v-2.1h-4v-4.05h-2v-1.5h2v-4.05h4zM1516.6 649.2h6v2.1h4v4.05h2v1.5h-2v4.05h-4v2.1h-6v-2.1h-4v-4.05h-2v-1.5h2v-4.05h4zM1521.0 632.3h6v2.1h4v4.05h2v1.5h-2v4.05h-4v2.1h-6v-2.1h-4v-4.05h-2v-1.5h2v-4.05h4zM1526.2 615.5h6v2.1h4v4.05h2v1.5h-2v4.05h-4v2.1h-6v-2.1h-4v-4.05h-2v-1.5h2v-4.05h4zM1531.3 601.5h6v2.1h4v4.05h2v1.5h-2v4.05h-4v2.1h-6v-2.1h-4v-4.05h-2v-1.5h2v-4.05h4zM1535.0 586.9h6v2.1h4v4.05h2v1.5h-2v4.05h-4v2.1h-6v-2.1h-4v-4.05h-2v-1.5h2v-4.05h4zM1540.1 573.6h6v2.1h4v4.05h2v1.5h-2v4.05h-4v2.1h-6v-2.1h-4v-4.05h-2v-1.5h2v-4.05h4zM1545.2 561.2h6v2.1h4v4.05h2v1.5h-2v4.05h-4v2.1h-6v-2.1h-4v-4.05h-2v-1.5h2v-4.05h4z"/><path fill="#ff0000" d="M1545.2 561.2h6v2.1h4v4.05h2v1.5h-2v4.05h-4v2.1h-6v-2.1h-4v-4.05h-2v-1.5h2v-4.05h4zM1545.7 558.9h6v2.1h4v4.05h2v1.5h-2v4.05h-4v2.1h-6v-2.1h-4v-4.05h-2v-1.5h2v-4.05h4zM1546.3 556.3h6v2.1h4v4.05h2v1.5h-2v4.05h-4v2.1h-6v-2.1h-4v-4.05h-2v-1.5h2v-4.05h4zM1546.8 554.2h6v2.1h4v4.05h2v1.5h-2v4.05h-4v2.1h-6v-2.1h-4v-4.05h-2v-1.5h2v-4.05h4zM1547.4 551.9h6v2.1h4v4.05h2v1.5h-2v4.05h-4v2.1h-6v-2.1h-4v-4.05h-2v-1.5h2v-4.05h4zM1547.9 549.7h6v2.1h4v4.05h2v1.5h-2v4.05h-4v2.1h-6v-2.1h-4v-4.05h-2v-1.5h2v-4.05h4zM1548.5 547.6h6v2.1h4v4.05h2v1.5h-2v4.05h-4v2.1h-6v-2.1h-4v-4.05h-2v-1.5h2v-4.05h4zM1549.2 545.3h6v2.1h4v4.05h2v1.5h-2v4.05h-4v2.1h-6v-2.1h-4v-4.05h-2v-1.5h2v-4.05h4zM1549.9 543.2h6v2.1h4v4.05h2v1.5h-2v4.05h-4v2.1h-6v-2.1h-4v-4.05h-2v-1.5h2v-4.05h4zM1550.8 540.9h6v2.1h4v4.05h2v1.5h-2v4.05h-4v2.1h-6v-2.1h-4v-4.05h-2v-1.5h2v-4.05h4zM1551.7 538.8h6v2.1h4v4.05h2v1.5h-2v4.05h-4v2.1h-6v-2.1h-4v-4.05h-2v-1.5h2v-4.05h4zM1552.7 536.7h6v2.1h4v4.05h2v1.5h-2v4.05h-4v2.1h-6v-2.1h-4v-4.05h-2v-1.5h2v-4.05h4zM1553.7 534.7h6v2.1h4v4.05h2v1.5h-2v4.05h-4v2.1h-6v-2.1h-4v-4.05h-2v-1.5h2v-4.05h4zM1554.8 532.6h6v2.1h4v4.05h2v1.5h-2v4.05h-4v2.1h-6v-2.1h-4v-4.05h-2v-1.5h2v-4.05h4zM1555.9 530.7h6v2.1h4v4.05h2v1.5h-2v4.05h-4v2.1h-6v-2.1h-4v-4.05h-2v-1.5h2v-4.05h4zM1557.1 528.7h6v2.1h4v4.05h2v1.5h-2v4.05h-4v2.1h-6v-2.1h-4v-4.05h-2v-1.5h2v-4.05h4zM1558.2 526.9h6v2.1h4v4.05h2v1.5h-2v4.05h-4v2.1h-6v-2.1h-4v-4.05h-2v-1.5h2v-4.05h4zM1559.3 525.1h6v2.1h4v4.05h2v1.5h-2v4.05h-4v2.1h-6v-2.1h-4v-4.05h-2v-1.5h2v-4.05h4zM1560.6 523.1h6v2.1h4v4.05h2v1.5h-2v4.05h-4v2.1h-6v-2.1h-4v-4.05h-2v-1.5h2v-4.05h4zM1561.8 521.2h6v2.1h4v4.05h2v1.5h-2v4.05h-4v2.1h-6v-2.1h-4v-4.05h-2v-1.5h2v-4.05h4zM1563.1 519.4h6v2.1h4v4.05h2v1.5h-2v4.05h-4v2.1h-6v-2.1h-4v-4.05h-2v-1.5h2v-4.05h4zM1564.5 517.5h6v2.1h4v4.05h2v1.5h-2v4.05h-4v2.1h-6v-2.1h-4v-4.05h-2v-1.5h2v-4.05h4zM1565.8 515.7h6v2.1h4v4.05h2v1.5h-2v4.05h-4v2.1h-6v-2.1h-4v-4.05h-2v-1.5h2v-4.05h4zM1567.1 514.0h6v2.1h4v4.05h2v1.5h-2v4.05h-4v2.1h-6v-2.1h-4v-4.05h-2v-1.5h2v-4.05h4zM1568.5 512.4h6v2.1h4v4.05h2v1.5h-2v4.05h-4v2.1h-6v-2.1h-4v-4.05h-2v-1.5h2v-4.05h4zM1570.1 510.6h6v2.1h4v4.05h2v1.5h-2v4.05h-4v2.1h-6v-2.1h-4v-4.05h-2v-1.5h2v-4.05h4zM1571.6 508.9h6v2.1h4v4.05h2v1.5h-2v4.05h-4v2.1h-6v-2.1h-4v-4.05h-2v-1.5h2v-4.05h4zM1573.3 507.1h6v2.1h4v4.05h2v1.5h-2v4.05h-4v2.1h-6v-2.1h-4v-4.05h-2v-1.5h2v-4.05h4zM1575.0 505.2h6v2.1h4v4.05h2v1.5h-2v4.05h-4v2.1h-6v-2.1h-4v-4.05h-2v-1.5h2v-4.05h4zM1576.5 503.7h6v2.1h4v4.05h2v1.5h-2v4.05h-4v2.1h-6v-2.1h-4v-4.05h-2v-1.5h2v-4.05h4zM1578.0 502.1h6v2.1h4v4.05h2v1.5h-2v4.05h-4v2.1h-6v-2.1h-4v-4.05h-2v-1.5h2v-4.05h4zM1579.6 500.6h6v2.1h4v4.05h2v1.5h-2v4.05h-4v2.1h-6v-2.1h-4v-4.05h-2v-1.5h2v-4.05h4zM1581.3 499.1h6v2.1h4v4.05h2v1.5h-2v4.05h-4v2.1h-6v-2.1h-4v-4.05h-2v-1.5h2v-4.05h4zM1583.1 497.6h6v2.1h4v4.05h2v1.5h-2v4.05h-4v2.1h-6v-2.1h-4v-4.05h-2v-1.5h2v-4.05h4zM1585.0 496.1h6v2.1h4v4.05h2v1.5h-2v4.05h-4v2.1h-6v-2.1h-4v-4.05h-2v-1.5h2v-4.05h4zM1587.0 494.5h6v2.1h4v4.05h2v1.5h-2v4.05h-4v2.1h-6v-2.1h-4v-4.05h-2v-1.5h2v-4.05h4zM1589.0 493.0h6v2.1h4v4.05h2v1.5h-2v4.05h-4v2.1h-6v-2.1h-4v-4.05h-2v-1.5h2v-4.05h4zM1591.2 491.4h6v2.1h4v4.05h2v1.5h-2v4.05h-4v2.1h-6v-2.1h-4v-4.05h-2v-1.5h2v-4.05h4zM1593.4 489.8h6v2.1h4v4.05h2v1.5h-2v4.05h-4v2.1h-6v-2.1h-4v-4.05h-2v-1.5h2v-4.05h4zM1595.7 488.1h6v2.1h4v4.05h2v1.5h-2v4.05h-4v2.1h-6v-2.1h-4v-4.05h-2v-1.5h2v-4.05h4zM1598.0 486.5h6v2.1h4v4.05h2v1.5h-2v4.05h-4v2.1h-6v-2.1h-4v-4.05h-2v-1.5h2v-4.05h4zM1600.4 484.8h6v2.1h4v4.05h2v1.5h-2v4.05h-4v2.1h-6v-2.1h-4v-4.05h-2v-1.5h2v-4.05h4zM1602.1 483.6h6v2.1h4v4.05h2v1.5h-2v4.05h-4v2.1h-6v-2.1h-4v-4.05h-2v-1.5h2v-4.05h4zM1603.9 482.5h6v2.1h4v4.05h2v1.5h-2v4.05h-4v2.1h-6v-2.1h-4v-4.05h-2v-1.5h2v-4.05h4zM1605.7 481.3h6v2.1h4v4.05h2v1.5h-2v4.05h-4v2.1h-6v-2.1h-4v-4.05h-2v-1.5h2v-4.05h4zM1607.5 480.1h6v2.1h4v4.05h2v1.5h-2v4.05h-4v2.1h-6v-2.1h-4v-4.05h-2v-1.5h2v-4.05h4zM1609.3 478.8h6v2.1h4v4.05h2v1.5h-2v4.05h-4v2.1h-6v-2.1h-4v-4.05h-2v-1.5h2v-4.05h4zM1611.1 477.7h6v2.1h4v4.05h2v1.5h-2v4.05h-4v2.1h-6v-2.1h-4v-4.05h-2v-1.5h2v-4.05h4zM1613.0 476.5h6v2.1h4v4.05h2v1.5h-2v4.05h-4v2.1h-6v-2.1h-4v-4.05h-2v-1.5h2v-4.05h4zM1614.8 475.3h6v2.1h4v4.05h2v1.5h-2v4.05h-4v2.1h-6v-2.1h-4v-4.05h-2v-1.5h2v-4.05h4zM1616.6 474.2h6v2.1h4v4.05h2v1.5h-2v4.05h-4v2.1h-6v-2.1h-4v-4.05h-2v-1.5h2v-4.05h4zM1618.3 473.0h6v2.1h4v4.05h2v1.5h-2v4.05h-4v2.1h-6v-2.1h-4v-4.05h-2v-1.5h2v-4.05h4zM1620.1 472.0h6v2.1h4v4.05h2v1.5h-2v4.05h-4v2.1h-6v-2.1h-4v-4.05h-2v-1.5h2v-4.05h4zM1621.8 470.9h6v2.1h4v4.05h2v1.5h-2v4.05h-4v2.1h-6v-2.1h-4v-4.05h-2v-1.5h2v-4.05h4zM1624.3 469.4h6v2.1h4v4.05h2v1.5h-2v4.05h-4v2.1h-6v-2.1h-4v-4.05h-2v-1.5h2v-4.05h4zM1626.8 467.8h6v2.1h4v4.05h2v1.5h-2v4.05h-4v2.1h-6v-2.1h-4v-4.05h-2v-1.5h2v-4.05h4zM1629.3 466.3h6v2.1h4v4.05h2v1.5h-2v4.05h-4v2.1h-6v-2.1h-4v-4.05h-2v-1.5h2v-4.05h4zM1631.8 464.9h6v2.1h4v4.05h2v1.5h-2v4.05h-4v2.1h-6v-2.1h-4v-4.05h-2v-1.5h2v-4.05h4zM1634.3 463.5h6v2.1h4v4.05h2v1.5h-2v4.05h-4v2.1h-6v-2.1h-4v-4.05h-2v-1.5h2v-4.05h4zM1636.7 462.1h6v2.1h4v4.05h2v1.5h-2v4.05h-4v2.1h-6v-2.1h-4v-4.05h-2v-1.5h2v-4.05h4zM1639.1 460.7h6v2.1h4v4.05h2v1.5h-2v4.05h-4v2.1h-6v-2.1h-4v-4.05h-2v-1.5h2v-4.05h4zM1641.4 459.4h6v2.1h4v4.05h2v1.5h-2v4.05h-4v2.1h-6v-2.1h-4v-4.05h-2v-1.5h2v-4.05h4zM1643.7 458.1h6v2.1h4v4.05h2v1.5h-2v4.05h-4v2.1h-6v-2.1h-4v-4.05h-2v-1.5h2v-4.05h4zM1645.9 456.8h6v2.1h4v4.05h2v1.5h-2v4.05h-4v2.1h-6v-2.1h-4v-4.05h-2v-1.5h2v-4.05h4zM1648.2 455.6h6v2.1h4v4.05h2v1.5h-2v4.05h-4v2.1h-6v-2.1h-4v-4.05h-2v-1.5h2v-4.05h4zM1650.4 454.3h6v2.1h4v4.05h2v1.5h-2v4.05h-4v2.1h-6v-2.1h-4v-4.05h-2v-1.5h2v-4.05h4zM1652.6 453.1h6v2.1h4v4.05h2v1.5h-2v4.05h-4v2.1h-6v-2.1h-4v-4.05h-2v-1.5h2v-4.05h4zM1654.9 451.9h6v2.1h4v4.05h2v1.5h-2v4.05h-4v2.1h-6v-2.1h-4v-4.05h-2v-1.5h2v-4.05h4zM1657.3 450.7h6v2.1h4v4.05h2v1.5h-2v4.05h-4v2.1h-6v-2.1h-4v-4.05h-2v-1.5h2v-4.05h4zM1659.8 449.5h6v2.1h4v4.05h2v1.5h-2v4.05h-4v2.1h-6v-2.1h-4v-4.05h-2v-1.5h2v-4.05h4zM1662.5 448.2h6v2.1h4v4.05h2v1.5h-2v4.05h-4v2.1h-6v-2.1h-4v-4.05h-2v-1.5h2v-4.05h4zM1664.4 447.3h6v2.1h4v4.05h2v1.5h-2v4.05h-4v2.1h-6v-2.1h-4v-4.05h-2v-1.5h2v-4.05h4zM1666.3 446.4h6v2.1h4v4.05h2v1.5h-2v4.05h-4v2.1h-6v-2.1h-4v-4.05h-2v-1.5h2v-4.05h4zM1668.1 445.6h6v2.1h4v4.05h2v1.5h-2v4.05h-4v2.1h-6v-2.1h-4v-4.05h-2v-1.5h2v-4.05h4zM1669.9 444.7h6v2.1h4v4.05h2v1.5h-2v4.05h-4v2.1h-6v-2.1h-4v-4.05h-2v-1.5h2v-4.05h4zM1672.6 443.6h6v2.1h4v4.05h2v1.5h-2v4.05h-4v2.1h-6v-2.1h-4v-4.05h-2v-1.5h2v-4.05h4zM1675.0 442.5h6v2.1h4v4.05h2v1.5h-2v4.05h-4v2.1h-6v-2.1h-4v-4.05h-2v-1.5h2v-4.05h4zM1677.2 441.6h6v2.1h4v4.05h2v1.5h-2v4.05h-4v2.1h-6v-2.1h-4v-4.05h-2v-1.5h2v-4.05h4zM1679.4 440.6h6v2.1h4v4.05h2v1.5h-2v4.05h-4v2.1h-6v-2.1h-4v-4.05h-2v-1.5h2v-4.05h4zM1681.3 439.9h6v2.1h4v4.05h2v1.5h-2v4.05h-4v2.1h-6v-2.1h-4v-4.05h-2v-1.5h2v-4.05h4zM1683.3 439.2h6v2.1h4v4.05h2v1.5h-2v4.05h-4v2.1h-6v-2.1h-4v-4.05h-2v-1.5h2v-4.05h4zM1685.5 438.7h6v2.1h4v4.05h2v1.5h-2v4.05h-4v2.1h-6v-2.1h-4v-4.05h-2v-1.5h2v-4.05h4zM1687.6 438.1h6v2.1h4v4.05h2v1.5h-2v4.05h-4v2.1h-6v-2.1h-4v-4.05h-2v-1.5h2v-4.05h4zM1690.2 437.5h6v2.1h4v4.05h2v1.5h-2v4.05h-4v2.1h-6v-2.1h-4v-4.05h-2v-1.5h2v-4.05h4zM1692.3 437.0h6v2.1h4v4.05h2v1.5h-2v4.05h-4v2.1h-6v-2.1h-4v-4.05h-2v-1.5h2v-4.05h4zM1694.5 436.5h6v2.1h4v4.05h2v1.5h-2v4.05h-4v2.1h-6v-2.1h-4v-4.05h-2v-1.5h2v-4.05h4zM1696.9 435.9h6v2.1h4v4.05h2v1.5h-2v4.05h-4v2.1h-6v-2.1h-4v-4.05h-2v-1.5h2v-4.05h4zM1699.5 435.4h6v2.1h4v4.05h2v1.5h-2v4.05h-4v2.1h-6v-2.1h-4v-4.05h-2v-1.5h2v-4.05h4zM1702.2 434.8h6v2.1h4v4.05h2v1.5h-2v4.05h-4v2.1h-6v-2.1h-4v-4.05h-2v-1.5h2v-4.05h4zM1705.0 434.2h6v2.1h4v4.05h2v1.5h-2v4.05h-4v2.1h-6v-2.1h-4v-4.05h-2v-1.5h2v-4.05h4zM1707.0 433.8h6v2.1h4v4.05h2v1.5h-2v4.05h-4v2.1h-6v-2.1h-4v-4.05h-2v-1.5h2v-4.05h4zM1709.1 433.4h6v2.1h4v4.05h2v1.5h-2v4.05h-4v2.1h-6v-2.1h-4v-4.05h-2v-1.5h2v-4.05h4zM1711.2 433.0h6v2.1h4v4.05h2v1.5h-2v4.05h-4v2.1h-6v-2.1h-4v-4.05h-2v-1.5h2v-4.05h4zM1713.5 432.5h6v2.1h4v4.05h2v1.5h-2v4.05h-4v2.1h-6v-2.1h-4v-4.05h-2v-1.5h2v-4.05h4zM1715.8 432.1h6v2.1h4v4.05h2v1.5h-2v4.05h-4v2.1h-6v-2.1h-4v-4.05h-2v-1.5h2v-4.05h4zM1718.2 431.6h6v2.1h4v4.05h2v1.5h-2v4.05h-4v2.1h-6v-2.1h-4v-4.05h-2v-1.5h2v-4.05h4zM1720.6 431.2h6v2.1h4v4.05h2v1.5h-2v4.05h-4v2.1h-6v-2.1h-4v-4.05h-2v-1.5h2v-4.05h4zM1723.1 430.7h6v2.1h4v4.05h2v1.5h-2v4.05h-4v2.1h-6v-2.1h-4v-4.05h-2v-1.5h2v-4.05h4zM1725.6 430.3h6v2.1h4v4.05h2v1.5h-2v4.05h-4v2.1h-6v-2.1h-4v-4.05h-2v-1.5h2v-4.05h4zM1728.2 429.8h6v2.1h4v4.05h2v1.5h-2v4.05h-4v2.1h-6v-2.1h-4v-4.05h-2v-1.5h2v-4.05h4zM1730.7 429.3h6v2.1h4v4.05h2v1.5h-2v4.05h-4v2.1h-6v-2.1h-4v-4.05h-2v-1.5h2v-4.05h4zM1733.3 428.8h6v2.1h4v4.05h2v1.5h-2v4.05h-4v2.1h-6v-2.1h-4v-4.05h-2v-1.5h2v-4.05h4zM1735.9 428.4h6v2.1h4v4.05h2v1.5h-2v4.05h-4v2.1h-6v-2.1h-4v-4.05h-2v-1.5h2v-4.05h4zM1738.7 427.9h6v2.1h4v4.05h2v1.5h-2v4.05h-4v2.1h-6v-2.1h-4v-4.05h-2v-1.5h2v-4.05h4zM1741.6 427.3h6v2.1h4v4.05h2v1.5h-2v4.05h-4v2.1h-6v-2.1h-4v-4.05h-2v-1.5h2v-4.05h4zM1744.6 426.8h6v2.1h4v4.05h2v1.5h-2v4.05h-4v2.1h-6v-2.1h-4v-4.05h-2v-1.5h2v-4.05h4zM1747.7 426.2h6v2.1h4v4.05h2v1.5h-2v4.05h-4v2.1h-6v-2.1h-4v-4.05h-2v-1.5h2v-4.05h4zM1750.7 425.7h6v2.1h4v4.05h2v1.5h-2v4.05h-4v2.1h-6v-2.1h-4v-4.05h-2v-1.5h2v-4.05h4zM1753.8 425.1h6v2.1h4v4.05h2v1.5h-2v4.05h-4v2.1h-6v-2.1h-4v-4.05h-2v-1.5h2v-4.05h4zM1756.8 424.6h6v2.1h4v4.05h2v1.5h-2v4.05h-4v2.1h-6v-2.1h-4v-4.05h-2v-1.5h2v-4.05h4zM1759.6 424.1h6v2.1h4v4.05h2v1.5h-2v4.05h-4v2.1h-6v-2.1h-4v-4.05h-2v-1.5h2v-4.05h4zM1762.3 423.6h6v2.1h4v4.05h2v1.5h-2v4.05h-4v2.1h-6v-2.1h-4v-4.05h-2v-1.5h2v-4.05h4zM1764.8 423.2h6v2.1h4v4.05h2v1.5h-2v4.05h-4v2.1h-6v-2.1h-4v-4.05h-2v-1.5h2v-4.05h4zM1767.0 422.8h6v2.1h4v4.05h2v1.5h-2v4.05h-4v2.1h-6v-2.1h-4v-4.05h-2v-1.5h2v-4.05h4zM1769.8 422.3h6v2.1h4v4.05h2v1.5h-2v4.05h-4v2.1h-6v-2.1h-4v-4.05h-2v-1.5h2v-4.05h4zM1772.3 421.8h6v2.1h4v4.05h2v1.5h-2v4.05h-4v2.1h-6v-2.1h-4v-4.05h-2v-1.5h2v-4.05h4zM1774.3 421.4h6v2.1h4v4.05h2v1.5h-2v4.05h-4v2.1h-6v-2.1h-4v-4.05h-2v-1.5h2v-4.05h4zM1776.6 421.0h6v2.1h4v4.05h2v1.5h-2v4.05h-4v2.1h-6v-2.1h-4v-4.05h-2v-1.5h2v-4.05h4zM1778.8 420.5h6v2.1h4v4.05h2v1.5h-2v4.05h-4v2.1h-6v-2.1h-4v-4.05h-2v-1.5h2v-4.05h4zM1781.0 420.1h6v2.1h4v4.05h2v1.5h-2v4.05h-4v2.1h-6v-2.1h-4v-4.05h-2v-1.5h2v-4.05h4z"/></g><g fill="#000" shape-rendering="crispEdges"><rect x="373" y="69" width="1883" height="6"/><rect x="373" y="1166" width="1883" height="6"/><rect x="399" y="69" width="8" height="1120.3"/><rect x="2248" y="70" width="8" height="1119.3"/><rect x="387" y="196.74" width="16.00" height="6.0"/><rect x="2236" y="196.74" width="16.00" height="6.0"/><rect x="387" y="164.56" width="16.00" height="6.0"/><rect x="2236" y="164.56" width="16.00" height="6.0"/><rect x="387" y="141.72" width="16.00" height="6.0"/><rect x="2236" y="141.72" width="16.00" height="6.0"/><rect x="387" y="124.01" width="16.00" height="6.0"/><rect x="2236" y="124.01" width="16.00" height="6.0"/><rect x="387" y="109.54" width="16.00" height="6.0"/><rect x="2236" y="109.54" width="16.00" height="6.0"/><rect x="387" y="97.31" width="16.00" height="6.0"/><rect x="2236" y="97.31" width="16.00" height="6.0"/><rect x="387" y="86.71" width="16.00" height="6.0"/><rect x="2236" y="86.71" width="16.00" height="6.0"/><rect x="387" y="77.36" width="16.00" height="6.0"/><rect x="2236" y="77.36" width="16.00" height="6.0"/><rect x="373" y="251.75" width="30.00" height="6.0"/><rect x="2222" y="251.75" width="30.00" height="6.0"/><rect x="387" y="379.49" width="16.00" height="6.0"/><rect x="2236" y="379.49" width="16.00" height="6.0"/><rect x="387" y="347.31" width="16.00" height="6.0"/><rect x="2236" y="347.31" width="16.00" height="6.0"/><rect x="387" y="324.47" width="16.00" height="6.0"/><rect x="2236" y="324.47" width="16.00" height="6.0"/><rect x="387" y="306.76" width="16.00" height="6.0"/><rect x="2236" y="306.76" width="16.00" height="6.0"/><rect x="387" y="292.29" width="16.00" height="6.0"/><rect x="2236" y="292.29" width="16.00" height="6.0"/><rect x="387" y="280.06" width="16.00" height="6.0"/><rect x="2236" y="280.06" width="16.00" height="6.0"/><rect x="387" y="269.46" width="16.00" height="6.0"/><rect x="2236" y="269.46" width="16.00" height="6.0"/><rect x="387" y="260.11" width="16.00" height="6.0"/><rect x="2236" y="260.11" width="16.00" height="6.0"/><rect x="373" y="434.50" width="30.00" height="6.0"/><rect x="2222" y="434.50" width="30.00" height="6.0"/><rect x="387" y="562.24" width="16.00" height="6.0"/><rect x="2236" y="562.24" width="16.00" height="6.0"/><rect x="387" y="530.06" width="16.00" height="6.0"/><rect x="2236" y="530.06" width="16.00" height="6.0"/><rect x="387" y="507.22" width="16.00" height="6.0"/><rect x="2236" y="507.22" width="16.00" height="6.0"/><rect x="387" y="489.51" width="16.00" height="6.0"/><rect x="2236" y="489.51" width="16.00" height="6.0"/><rect x="387" y="475.04" width="16.00" height="6.0"/><rect x="2236" y="475.04" width="16.00" height="6.0"/><rect x="387" y="462.81" width="16.00" height="6.0"/><rect x="2236" y="462.81" width="16.00" height="6.0"/><rect x="387" y="452.21" width="16.00" height="6.0"/><rect x="2236" y="452.21" width="16.00" height="6.0"/><rect x="387" y="442.86" width="16.00" height="6.0"/><rect x="2236" y="442.86" width="16.00" height="6.0"/><rect x="373" y="617.25" width="30.00" height="6.0"/><rect x="2222" y="617.25" width="30.00" height="6.0"/><rect x="387" y="744.99" width="16.00" height="6.0"/><rect x="2236" y="744.99" width="16.00" height="6.0"/><rect x="387" y="712.81" width="16.00" height="6.0"/><rect x="2236" y="712.81" width="16.00" height="6.0"/><rect x="387" y="689.97" width="16.00" height="6.0"/><rect x="2236" y="689.97" width="16.00" height="6.0"/><rect x="387" y="672.26" width="16.00" height="6.0"/><rect x="2236" y="672.26" width="16.00" height="6.0"/><rect x="387" y="657.79" width="16.00" height="6.0"/><rect x="2236" y="657.79" width="16.00" height="6.0"/><rect x="387" y="645.56" width="16.00" height="6.0"/><rect x="2236" y="645.56" width="16.00" height="6.0"/><rect x="387" y="634.96" width="16.00" height="6.0"/><rect x="2236" y="634.96" width="16.00" height="6.0"/><rect x="387" y="625.61" width="16.00" height="6.0"/><rect x="2236" y="625.61" width="16.00" height="6.0"/><rect x="373" y="800.00" width="30.00" height="6.0"/><rect x="2222" y="800.00" width="30.00" height="6.0"/><rect x="387" y="927.74" width="16.00" height="6.0"/><rect x="2236" y="927.74" width="16.00" height="6.0"/><rect x="387" y="895.56" width="16.00" height="6.0"/><rect x="2236" y="895.56" width="16.00" height="6.0"/><rect x="387" y="872.72" width="16.00" height="6.0"/><rect x="2236" y="872.72" width="16.00" height="6.0"/><rect x="387" y="855.01" width="16.00" height="6.0"/><rect x="2236" y="855.01" width="16.00" height="6.0"/><rect x="387" y="840.54" width="16.00" height="6.0"/><rect x="2236" y="840.54" width="16.00" height="6.0"/><rect x="387" y="828.31" width="16.00" height="6.0"/><rect x="2236" y="828.31" width="16.00" height="6.0"/><rect x="387" y="817.71" width="16.00" height="6.0"/><rect x="2236" y="817.71" width="16.00" height="6.0"/><rect x="387" y="808.36" width="16.00" height="6.0"/><rect x="2236" y="808.36" width="16.00" height="6.0"/><rect x="373" y="982.75" width="30.00" height="6.0"/><rect x="2222" y="982.75" width="30.00" height="6.0"/><rect x="387" y="1110.49" width="16.00" height="6.0"/><rect x="2236" y="1110.49" width="16.00" height="6.0"/><rect x="387" y="1078.31" width="16.00" height="6.0"/><rect x="2236" y="1078.31" width="16.00" height="6.0"/><rect x="387" y="1055.47" width="16.00" height="6.0"/><rect x="2236" y="1055.47" width="16.00" height="6.0"/><rect x="387" y="1037.76" width="16.00" height="6.0"/><rect x="2236" y="1037.76" width="16.00" height="6.0"/><rect x="387" y="1023.29" width="16.00" height="6.0"/><rect x="2236" y="1023.29" width="16.00" height="6.0"/><rect x="387" y="1011.06" width="16.00" height="6.0"/><rect x="2236" y="1011.06" width="16.00" height="6.0"/><rect x="387" y="1000.46" width="16.00" height="6.0"/><rect x="2236" y="1000.46" width="16.00" height="6.0"/><rect x="387" y="991.11" width="16.00" height="6.0"/><rect x="2236" y="991.11" width="16.00" height="6.0"/><rect x="630.23" y="72.00" width="7.8" height="10.70"/><rect x="630.23" y="1168.50" width="7.8" height="10.90"/><rect x="861.35" y="72.00" width="7.8" height="20.70"/><rect x="861.35" y="1168.50" width="7.8" height="20.80"/><rect x="1092.47" y="72.00" width="7.8" height="10.70"/><rect x="1092.47" y="1168.50" width="7.8" height="10.90"/><rect x="1323.60" y="72.00" width="7.8" height="20.70"/><rect x="1323.60" y="1168.50" width="7.8" height="20.80"/><rect x="1554.72" y="72.00" width="7.8" height="10.70"/><rect x="1554.72" y="1168.50" width="7.8" height="10.90"/><rect x="1785.85" y="72.00" width="7.8" height="20.70"/><rect x="1785.85" y="1168.50" width="7.8" height="20.80"/><rect x="2016.97" y="72.00" width="7.8" height="10.70"/><rect x="2016.97" y="1168.50" width="7.8" height="10.90"/></g><path fill="none" stroke="#000" stroke-width="2.3" d="M1105 488.5 L964.1 701.4"/><path d="M951.1 718.5 L957.4 699.1 L970.9 703.7Z"/><path fill="none" stroke="#000" stroke-width="2.3" d="M1185.6 688.2 L1053.9 835.6"/><path d="M1038.7 853.1 L1048 832.3 L1059.8 839Z"/><path fill="none" stroke="#000" stroke-width="2.3" d="M1330 752 L1160.8 948.7"/><path d="M1145.8 966.3 L1154.4 945.2 L1167.3 952.1Z"/><path fill="none" stroke="#000" stroke-width="2.3" d="M1361.5 890 L1280.0 978.5"/><path d="M1265 994.1 L1273.7 975.4 L1286.2 981.6Z"/><path fill="none" stroke="#000" stroke-width="2.3" d="M1434.7 966.1 L1330.2 1045.0"/><path d="M1310.6 1059.6 L1324.3 1040.9 L1336.2 1049Z"/><path fill="none" stroke="#000" stroke-width="3.4" d="M1429.7 964.8 L1423.8 931.5"/><path d="M1418.5 911.2 L1416 932.4 L1431.5 930.5Z"/><path d="M1336.2 877.9L1344 877.9L1344 879.7L1356 879.7L1356 881.6L1362 881.6L1362 883.4L1356 883.4L1356 885.4L1348 885.4L1348 887.1L1340 887.1L1340 889.6L1336.2 889.6Z"/><g font-family="'Liberation Sans', Arial, sans-serif" font-weight="bold"><text x="246.1 286.8" y="91.0" font-size="53.2" fill="#ff0000">10</text><text x="328.5" y="61.0" font-size="34.0" fill="#ff0000">0</text><text x="232.3 272.9" y="273.7" font-size="53.2" fill="#ff0000">10</text><text x="313.9 330.3" y="243.6" font-size="34.0" fill="#ff0000">-1</text><text x="232.3 272.9" y="456.8" font-size="53.2" fill="#ff0000">10</text><text x="313.9 327.8" y="426.6" font-size="34.0" fill="#ff0000">-2</text><text x="232.3 272.9" y="639.2" font-size="53.2" fill="#ff0000">10</text><text x="313.9 328.6" y="609.3" font-size="34.0" fill="#ff0000">-3</text><text x="147.1 187.7 232.3 272.3" y="822.0" font-size="53.2" fill="#ff0000">1x10</text><text x="314.2 328.5" y="791.6" font-size="34.0" fill="#ff0000">-4</text><text x="147.1 187.7 232.3 272.3" y="1004.9" font-size="53.2" fill="#ff0000">1x10</text><text x="314.2 329.1" y="974.6" font-size="34.0" fill="#ff0000">-5</text><text x="232.3 272.9" y="1187.5" font-size="53.2" fill="#ff0000">10</text><text x="313.9 328.2" y="1157.5" font-size="34.0" fill="#ff0000">-6</text><text x="336.9 362.9 403.3 423.2" y="1244.6" font-size="53.2" fill="#ff0000">-0.8</text><text x="799.9 822.9 865.4 887.1" y="1244.6" font-size="53.2" fill="#ff0000">-0.6</text><text x="1262.6 1286.2 1327.0 1349.2" y="1244.6" font-size="53.2" fill="#ff0000">-0.4</text><text x="1723.0 1749.1 1789.5 1811.6" y="1244.6" font-size="53.2" fill="#ff0000">-0.2</text><text x="2197.5 2240.5 2260.9" y="1244.6" font-size="53.2" fill="#ff0000">0.0</text><text x="1153.7 1202.8 1224.8 1294.3 1320.6 1370.0 1425.8 1476.9" y="1338.4" font-size="54.0" fill="#0000ff">E/V(SCE)</text><text x="839.2" y="774.1" font-size="48.5" fill="#000">B</text><text x="889.2 908.7 947.0 990.1" y="774.1" font-size="46.0" fill="#000">lank</text><text x="880.2 921.2" y="897.6" font-size="48.5" fill="#000">25</text><text x="958.0 999.8 1042.6" y="897.6" font-size="46.0" fill="#000">ppm</text><text x="1078.9 1102.4" y="1010.4" font-size="39.5" fill="#000">50</text><text x="1166.8 1203.5 1241.9" y="1046.2" font-size="48.5" fill="#000">150</text><text x="1189.7 1230.8 1267.8" y="1105.6" font-size="48.5" fill="#000">250</text><text transform="translate(93.4 0) rotate(-90)" x="-769.9 -741.3 -724.1 -683.4 -667.4 -636.7" y="0" font-size="57.0" fill="#0000ff">I(A/cm</text><text transform="translate(93.4 0) rotate(-90)" x="-588.7" y="-41.9" font-size="34.5" fill="#0000ff">2</text><text transform="translate(93.4 0) rotate(-90)" x="-567.8" y="0" font-size="57.0" fill="#0000ff">)</text></g><g fill="#fff"><rect x="248.42" y="84.51" width="10.08" height="7.53"/><rect x="265.80" y="84.51" width="9.38" height="7.53"/><rect x="234.62" y="267.21" width="10.08" height="7.53"/><rect x="252.00" y="267.21" width="9.38" height="7.53"/><rect x="331.79" y="239.45" width="6.44" height="4.81"/><rect x="342.90" y="239.45" width="5.99" height="4.81"/><rect x="234.62" y="450.31" width="10.08" height="7.53"/><rect x="252.00" y="450.31" width="9.38" height="7.53"/><rect x="234.62" y="632.71" width="10.08" height="7.53"/><rect x="252.00" y="632.71" width="9.38" height="7.53"/><rect x="149.42" y="815.51" width="10.08" height="7.53"/><rect x="166.80" y="815.51" width="9.38" height="7.53"/><rect x="234.62" y="815.51" width="10.08" height="7.53"/><rect x="252.00" y="815.51" width="9.38" height="7.53"/><rect x="149.42" y="998.41" width="10.08" height="7.53"/><rect x="166.80" y="998.41" width="9.38" height="7.53"/><rect x="234.62" y="998.41" width="10.08" height="7.53"/><rect x="252.00" y="998.41" width="9.38" height="7.53"/><rect x="234.62" y="1181.01" width="10.08" height="7.53"/><rect x="252.00" y="1181.01" width="9.38" height="7.53"/><rect x="1168.96" y="1040.28" width="9.19" height="6.87"/><rect x="1184.80" y="1040.28" width="8.55" height="6.87"/></g></svg></body></html>
